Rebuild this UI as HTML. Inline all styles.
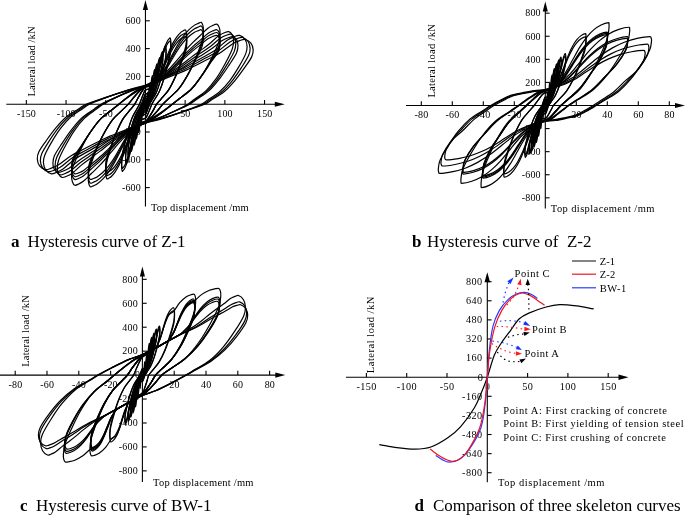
<!DOCTYPE html>
<html lang="en"><head><meta charset="utf-8"><title>Hysteresis curves</title>
<style>html,body{margin:0;padding:0;background:#fff}svg{display:block}</style></head>
<body>
<svg width="685" height="516" viewBox="0 0 685 516">
<rect width="685" height="516" fill="#fff"/>
<g stroke="#000" stroke-width="1.1" fill="none">
<path d="M6.3 104.2H280.8"/>
<path d="M145.45 206.5V4"/>
<path d="M26.35 104.2v-4.3"/>
<path d="M66.05 104.2v-4.3"/>
<path d="M105.75 104.2v-4.3"/>
<path d="M185.15 104.2v-4.3"/>
<path d="M224.85 104.2v-4.3"/>
<path d="M264.55 104.2v-4.3"/>
<path d="M145.45 20.8h4.3"/>
<path d="M145.45 48.6h4.3"/>
<path d="M145.45 76.4h4.3"/>
<path d="M145.45 132h4.3"/>
<path d="M145.45 159.8h4.3"/>
<path d="M145.45 187.6h4.3"/>
</g>
<path d="M284.8 104.2l-10 -2.55v5.1z" fill="#000"/>
<path d="M145.45 0l-2.55 10h5.1z" fill="#000"/>
<g font-family='"Liberation Serif", "Times New Roman", serif' font-size="10" fill="#000">
<text x="26.55" y="117" text-anchor="middle" letter-spacing="0.15">-150</text>
<text x="66.25" y="117" text-anchor="middle" letter-spacing="0.15">-100</text>
<text x="105.95" y="117" text-anchor="middle" letter-spacing="0.15">-50</text>
<text x="185.35" y="117" text-anchor="middle" letter-spacing="0.15">50</text>
<text x="225.05" y="117" text-anchor="middle" letter-spacing="0.15">100</text>
<text x="264.75" y="117" text-anchor="middle" letter-spacing="0.15">150</text>
<text x="140.85" y="24.1" text-anchor="end" letter-spacing="0.15">600</text>
<text x="140.85" y="51.9" text-anchor="end" letter-spacing="0.15">400</text>
<text x="140.85" y="79.7" text-anchor="end" letter-spacing="0.15">200</text>
<text x="140.85" y="135.3" text-anchor="end" letter-spacing="0.15">-200</text>
<text x="140.85" y="163.1" text-anchor="end" letter-spacing="0.15">-400</text>
<text x="140.85" y="190.9" text-anchor="end" letter-spacing="0.15">-600</text>
</g>
<text transform="translate(34.7 96.5) rotate(-90)" font-family='"Liberation Serif", "Times New Roman", serif' font-size="10.5" textLength="70" lengthAdjust="spacing">Lateral load /kN</text>
<text x="151" y="211.2" font-family='"Liberation Serif", "Times New Roman", serif' font-size="10.5" textLength="97.6" lengthAdjust="spacing">Top displacement /mm</text>
<text x="11" y="247.3" font-family='"Liberation Serif", "Times New Roman", serif' font-size="17" font-weight="bold">a</text>
<text x="27.5" y="247.3" font-family='"Liberation Serif", "Times New Roman", serif' font-size="17" textLength="158" lengthAdjust="spacing" xml:space="preserve">Hysteresis curve of Z-1</text>
<g stroke="#000" stroke-width="1.2" fill="none" stroke-linejoin="round">
<path d="M145.45 103.6C145.65 103.55 146.1 103.73 146.24 103.51C146.45 103.18 146.4 102.49 146.49 101.95C146.58 101.37 146.69 100.83 146.78 100.17C146.9 99.38 147.02 98.4 147.12 97.61C147.21 96.95 147.28 96.47 147.35 95.83C147.43 95.1 147.5 94.16 147.57 93.5C147.61 93.1 147.64 92.9 147.69 92.66C147.72 92.53 147.76 92.38 147.78 92.39C147.8 92.4 147.81 92.59 147.82 92.72C147.83 92.9 147.84 93.06 147.83 93.33C147.82 93.73 147.82 94.18 147.76 94.73C147.69 95.47 147.56 96.37 147.43 97.19C147.31 98.02 147.17 98.89 147.02 99.7C146.87 100.45 146.71 101.2 146.52 101.86C146.36 102.42 146.13 102.91 145.96 103.36C145.83 103.69 145.72 103.96 145.64 104.2C145.6 104.32 145.6 104.35 145.58 104.42C145.56 104.5 145.53 104.59 145.51 104.66C145.49 104.71 145.54 104.77 145.45 104.8C145.25 104.85 144.8 104.67 144.66 104.89C144.45 105.22 144.5 105.91 144.41 106.45C144.32 107.03 144.21 107.57 144.12 108.23C144 109.02 143.88 110 143.78 110.79C143.69 111.45 143.62 111.93 143.55 112.57C143.47 113.3 143.4 114.24 143.33 114.9C143.29 115.3 143.26 115.5 143.21 115.74C143.18 115.87 143.14 116.02 143.12 116.02C143.1 116 143.09 115.81 143.08 115.68C143.07 115.5 143.06 115.34 143.07 115.07C143.08 114.67 143.08 114.22 143.14 113.67C143.21 112.93 143.34 112.03 143.47 111.21C143.59 110.38 143.73 109.51 143.88 108.7C144.03 107.95 144.19 107.2 144.38 106.54C144.54 105.98 144.77 105.49 144.94 105.04C145.07 104.71 145.18 104.44 145.26 104.2C145.3 104.08 145.3 104.05 145.32 103.98C145.34 103.9 145.37 103.81 145.39 103.74C145.41 103.69 145.36 103.63 145.45 103.6Z"/>
<path d="M145.45 103C145.74 102.9 146.41 103.21 146.64 102.81C146.99 102.2 147 100.96 147.2 99.99C147.41 98.95 147.64 97.96 147.86 96.76C148.11 95.34 148.39 93.56 148.62 92.13C148.81 90.94 148.98 90.06 149.14 88.9C149.32 87.58 149.47 85.87 149.63 84.67C149.72 83.95 149.8 83.58 149.9 83.16C149.96 82.91 150.06 82.64 150.11 82.66C150.16 82.67 150.18 83.02 150.19 83.27C150.21 83.6 150.23 83.89 150.21 84.38C150.19 85.12 150.19 85.93 150.08 86.94C149.93 88.27 149.66 89.91 149.42 91.41C149.17 92.93 148.9 94.53 148.58 95.99C148.29 97.37 147.96 98.74 147.58 99.94C147.26 100.96 146.8 101.85 146.47 102.67C146.22 103.27 146 103.77 145.83 104.2C145.74 104.43 145.75 104.49 145.71 104.64C145.66 104.8 145.61 104.98 145.56 105.12C145.53 105.23 145.59 105.34 145.45 105.4C145.16 105.5 144.49 105.19 144.26 105.59C143.91 106.2 143.9 107.44 143.7 108.41C143.49 109.45 143.26 110.44 143.04 111.64C142.79 113.06 142.51 114.84 142.28 116.27C142.09 117.46 141.92 118.34 141.76 119.5C141.58 120.82 141.43 122.53 141.27 123.73C141.18 124.45 141.1 124.82 141 125.24C140.94 125.49 140.84 125.76 140.79 125.75C140.74 125.73 140.72 125.38 140.71 125.13C140.69 124.8 140.67 124.51 140.69 124.02C140.71 123.28 140.71 122.47 140.82 121.46C140.97 120.13 141.24 118.49 141.48 116.99C141.73 115.47 142 113.87 142.32 112.41C142.61 111.03 142.94 109.66 143.32 108.46C143.64 107.44 144.1 106.55 144.43 105.73C144.68 105.13 144.9 104.63 145.07 104.2C145.16 103.97 145.15 103.91 145.19 103.76C145.24 103.6 145.29 103.42 145.34 103.28C145.37 103.17 145.31 103.06 145.45 103Z"/>
<path d="M145.45 102.29C145.84 102.12 146.71 102.5 147.04 101.98C147.53 101.17 147.6 99.57 147.9 98.3C148.23 96.94 148.59 95.65 148.93 94.09C149.33 92.24 149.76 89.91 150.12 88.05C150.42 86.5 150.69 85.36 150.93 83.85C151.21 82.12 151.44 79.89 151.69 78.33C151.83 77.39 151.96 76.91 152.12 76.36C152.21 76.03 152.37 75.68 152.44 75.7C152.52 75.73 152.54 76.19 152.57 76.52C152.6 76.95 152.62 77.34 152.6 77.98C152.56 78.96 152.56 80.04 152.4 81.37C152.17 83.14 151.79 85.31 151.43 87.29C151.06 89.3 150.66 91.41 150.2 93.35C149.77 95.16 149.29 96.98 148.74 98.56C148.26 99.92 147.59 101.1 147.1 102.17C146.73 102.98 146.41 103.62 146.16 104.2C146.02 104.53 146.02 104.67 145.94 104.91C145.85 105.16 145.76 105.44 145.66 105.67C145.59 105.84 145.66 106.02 145.45 106.11C145.06 106.28 144.19 105.9 143.86 106.42C143.37 107.23 143.3 108.83 143 110.1C142.67 111.46 142.31 112.75 141.97 114.31C141.57 116.16 141.14 118.49 140.78 120.35C140.48 121.9 140.21 123.04 139.97 124.55C139.69 126.28 139.46 128.51 139.21 130.07C139.07 131.01 138.94 131.49 138.78 132.04C138.69 132.37 138.53 132.72 138.46 132.69C138.38 132.67 138.36 132.21 138.33 131.88C138.3 131.45 138.28 131.06 138.3 130.42C138.34 129.44 138.34 128.36 138.5 127.03C138.73 125.26 139.11 123.09 139.47 121.11C139.84 119.1 140.24 116.99 140.7 115.05C141.13 113.24 141.61 111.42 142.16 109.84C142.64 108.48 143.31 107.3 143.8 106.23C144.17 105.42 144.49 104.78 144.74 104.2C144.88 103.87 144.88 103.73 144.96 103.49C145.05 103.24 145.14 102.96 145.24 102.73C145.31 102.56 145.24 102.38 145.45 102.29Z"/>
<path d="M145.45 101.33C146.02 101.09 147.34 101.55 147.83 100.86C148.5 99.93 148.55 97.98 148.94 96.47C149.36 94.84 149.83 93.3 150.26 91.44C150.78 89.22 151.32 86.44 151.79 84.21C152.18 82.36 152.52 81 152.83 79.19C153.19 77.12 153.48 74.45 153.8 72.59C153.99 71.47 154.15 70.89 154.36 70.24C154.48 69.84 154.68 69.42 154.77 69.45C154.87 69.49 154.91 70.04 154.94 70.44C154.98 70.97 155.01 71.45 154.98 72.23C154.93 73.42 154.94 74.73 154.71 76.36C154.42 78.52 153.9 81.16 153.42 83.57C152.93 86.03 152.4 88.6 151.78 90.97C151.2 93.18 150.57 95.4 149.83 97.32C149.2 98.98 148.3 100.42 147.65 101.72C147.16 102.71 146.72 103.48 146.4 104.2C146.2 104.66 146.21 104.91 146.1 105.27C145.98 105.64 145.86 106.06 145.74 106.4C145.64 106.67 145.76 106.94 145.45 107.07C144.88 107.31 143.56 106.85 143.07 107.54C142.4 108.47 142.35 110.42 141.96 111.93C141.54 113.56 141.07 115.1 140.64 116.96C140.12 119.18 139.58 121.96 139.11 124.19C138.72 126.04 138.38 127.4 138.07 129.21C137.71 131.28 137.42 133.95 137.1 135.81C136.91 136.93 136.75 137.51 136.54 138.16C136.42 138.56 136.22 138.98 136.13 138.95C136.03 138.91 135.99 138.36 135.96 137.96C135.92 137.43 135.89 136.95 135.92 136.17C135.97 134.98 135.96 133.67 136.19 132.04C136.48 129.88 137 127.24 137.48 124.83C137.97 122.37 138.5 119.8 139.12 117.43C139.7 115.22 140.33 113 141.07 111.08C141.7 109.42 142.6 107.98 143.25 106.68C143.74 105.69 144.18 104.92 144.5 104.2C144.7 103.74 144.69 103.49 144.8 103.13C144.92 102.76 145.04 102.34 145.16 102C145.26 101.73 145.14 101.46 145.45 101.33Z"/>
<path d="M145.45 100.14C146.22 99.79 147.96 100.31 148.63 99.47C149.47 98.42 149.5 96.21 149.98 94.49C150.49 92.65 151.06 90.91 151.59 88.8C152.22 86.28 152.89 83.14 153.46 80.61C153.93 78.51 154.35 76.97 154.73 74.92C155.17 72.58 155.53 69.56 155.92 67.45C156.15 66.18 156.35 65.52 156.6 64.78C156.75 64.33 156.99 63.85 157.1 63.89C157.23 63.93 157.27 64.58 157.31 65.04C157.36 65.65 157.4 66.21 157.36 67.11C157.3 68.49 157.31 70.02 157.04 71.9C156.67 74.41 156.05 77.47 155.45 80.27C154.85 83.12 154.21 86.1 153.45 88.85C152.75 91.42 151.98 93.99 151.07 96.22C150.29 98.15 149.2 99.81 148.4 101.33C147.8 102.47 147.27 103.34 146.88 104.2C146.61 104.8 146.59 105.2 146.42 105.71C146.25 106.24 146.06 106.84 145.88 107.32C145.74 107.69 145.88 108.07 145.45 108.26C144.68 108.61 142.94 108.08 142.27 108.93C141.43 110 141.4 112.25 140.92 114.01C140.41 115.88 139.84 117.66 139.31 119.81C138.68 122.37 138.01 125.58 137.44 128.15C136.97 130.3 136.55 131.87 136.17 133.96C135.73 136.34 135.37 139.43 134.98 141.58C134.75 142.87 134.55 143.55 134.3 144.3C134.16 144.76 133.91 145.25 133.8 145.21C133.67 145.16 133.63 144.5 133.59 144.04C133.54 143.41 133.5 142.85 133.54 141.92C133.6 140.52 133.59 138.97 133.86 137.06C134.23 134.51 134.85 131.39 135.45 128.54C136.05 125.64 136.69 122.61 137.45 119.82C138.15 117.2 138.92 114.59 139.83 112.31C140.61 110.35 141.7 108.66 142.5 107.12C143.1 105.96 143.63 105.07 144.02 104.2C144.29 103.6 144.31 103.2 144.48 102.69C144.65 102.16 144.84 101.56 145.02 101.08C145.16 100.71 145.02 100.33 145.45 100.14Z"/>
<path d="M145.45 100.26C146.22 99.92 147.95 100.42 148.63 99.62C149.46 98.62 149.5 96.51 149.98 94.87C150.49 93.11 151.06 91.45 151.59 89.44C152.22 87.05 152.89 84.05 153.46 81.64C153.93 79.64 154.35 78.17 154.73 76.22C155.17 73.99 155.53 71.1 155.92 69.1C156.15 67.88 156.35 67.25 156.6 66.55C156.75 66.12 156.99 65.66 157.1 65.7C157.23 65.75 157.27 66.36 157.31 66.8C157.36 67.39 157.4 67.92 157.36 68.78C157.3 70.1 157.31 71.6 157.04 73.35C156.68 75.61 156.04 78.26 155.45 80.79C154.84 83.43 154.2 86.23 153.45 88.85C152.74 91.38 151.98 93.99 151.07 96.22C150.29 98.15 149.2 99.81 148.4 101.33C147.8 102.47 147.27 103.34 146.88 104.2C146.61 104.79 146.59 105.17 146.42 105.67C146.25 106.18 146.06 106.76 145.88 107.23C145.74 107.59 145.88 107.96 145.45 108.14C144.68 108.48 142.95 107.97 142.27 108.78C141.44 109.8 141.4 111.95 140.92 113.62C140.41 115.41 139.84 117.11 139.31 119.16C138.68 121.6 138.01 124.66 137.44 127.11C136.97 129.15 136.55 130.65 136.17 132.64C135.73 134.91 135.37 137.85 134.98 139.9C134.75 141.14 134.55 141.78 134.3 142.5C134.15 142.93 133.91 143.4 133.8 143.36C133.67 143.32 133.63 142.69 133.59 142.24C133.54 141.65 133.5 141.11 133.54 140.23C133.6 138.89 133.59 137.36 133.86 135.58C134.22 133.29 134.86 130.59 135.45 128.02C136.06 125.33 136.7 122.48 137.45 119.82C138.16 117.25 138.92 114.59 139.83 112.31C140.61 110.35 141.7 108.66 142.5 107.12C143.1 105.96 143.63 105.07 144.02 104.2C144.29 103.61 144.31 103.23 144.48 102.73C144.65 102.22 144.84 101.64 145.02 101.17C145.16 100.81 145.02 100.44 145.45 100.26Z"/>
<path d="M145.45 98.46C146.41 97.99 148.56 98.52 149.42 97.53C150.44 96.34 150.5 93.87 151.08 91.94C151.71 89.88 152.41 87.93 153.06 85.56C153.83 82.74 154.65 79.21 155.35 76.38C155.93 74.03 156.44 72.3 156.91 70C157.45 67.38 157.89 63.99 158.37 61.62C158.65 60.2 158.9 59.46 159.2 58.63C159.38 58.13 159.68 57.58 159.82 57.63C159.97 57.69 160.03 58.43 160.08 58.96C160.14 59.67 160.18 60.31 160.14 61.36C160.07 62.95 160.08 64.72 159.75 66.89C159.31 69.78 158.56 73.33 157.84 76.56C157.12 79.85 156.34 83.3 155.43 86.47C154.58 89.44 153.65 92.41 152.56 94.99C151.62 97.22 150.31 99.13 149.34 100.88C148.62 102.2 147.98 103.17 147.51 104.2C147.15 104.99 147.08 105.61 146.85 106.34C146.6 107.08 146.33 107.93 146.07 108.6C145.86 109.13 146.02 109.65 145.45 109.94C144.49 110.41 142.33 109.87 141.48 110.87C140.45 112.08 140.4 114.59 139.82 116.55C139.19 118.65 138.49 120.64 137.84 123.05C137.07 125.92 136.25 129.51 135.55 132.38C134.97 134.78 134.46 136.54 133.99 138.88C133.45 141.54 133.01 145 132.53 147.4C132.25 148.85 132 149.61 131.7 150.45C131.52 150.96 131.22 151.51 131.08 151.46C130.93 151.4 130.87 150.65 130.82 150.11C130.76 149.39 130.72 148.74 130.76 147.68C130.83 146.06 130.82 144.27 131.15 142.07C131.59 139.13 132.34 135.54 133.06 132.25C133.78 128.91 134.56 125.41 135.47 122.2C136.32 119.18 137.25 116.17 138.34 113.55C139.28 111.29 140.59 109.35 141.56 107.57C142.28 106.23 142.92 105.24 143.39 104.2C143.75 103.41 143.82 102.79 144.05 102.06C144.3 101.32 144.57 100.47 144.83 99.8C145.04 99.27 144.88 98.75 145.45 98.46Z"/>
<path d="M145.45 98.63C146.41 98.17 148.55 98.68 149.42 97.73C150.43 96.61 150.5 94.24 151.08 92.41C151.71 90.44 152.41 88.59 153.06 86.33C153.83 83.65 154.65 80.28 155.35 77.59C155.93 75.34 156.44 73.7 156.91 71.51C157.45 69.02 157.89 65.78 158.37 63.53C158.65 62.17 158.9 61.46 159.2 60.68C159.38 60.2 159.68 59.68 159.82 59.73C159.97 59.79 160.03 60.49 160.08 61C160.14 61.67 160.18 62.29 160.14 63.29C160.07 64.81 160.08 66.55 159.75 68.57C159.32 71.17 158.55 74.24 157.84 77.15C157.11 80.2 156.33 83.44 155.43 86.47C154.56 89.39 153.65 92.41 152.56 94.99C151.62 97.22 150.31 99.13 149.34 100.88C148.62 102.2 147.98 103.18 147.51 104.2C147.15 104.97 147.08 105.57 146.85 106.27C146.6 107 146.33 107.82 146.07 108.47C145.86 108.98 146.02 109.49 145.45 109.77C144.49 110.23 142.34 109.71 141.48 110.67C140.46 111.81 140.4 114.22 139.82 116.08C139.19 118.08 138.49 119.97 137.84 122.27C137.07 125 136.25 128.42 135.55 131.16C134.97 133.45 134.46 135.12 133.99 137.35C133.45 139.89 133.01 143.18 132.53 145.47C132.25 146.85 132 147.57 131.7 148.37C131.52 148.86 131.22 149.38 131.08 149.33C130.93 149.28 130.87 148.56 130.82 148.05C130.76 147.36 130.72 146.74 130.76 145.72C130.83 144.18 130.82 142.41 131.15 140.36C131.58 137.72 132.35 134.61 133.06 131.65C133.79 128.56 134.57 125.27 135.47 122.2C136.33 119.23 137.25 116.17 138.34 113.55C139.28 111.29 140.59 109.35 141.56 107.57C142.28 106.23 142.92 105.23 143.39 104.2C143.75 103.42 143.82 102.83 144.05 102.13C144.3 101.4 144.57 100.58 144.83 99.93C145.04 99.42 144.88 98.91 145.45 98.63Z"/>
<path d="M145.45 96.55C146.6 95.93 149.17 96.45 150.21 95.3C151.41 94 151.49 91.3 152.19 89.19C152.93 86.94 153.76 84.8 154.53 82.21C155.44 79.13 156.41 75.27 157.24 72.17C157.93 69.59 158.53 67.71 159.09 65.19C159.72 62.33 160.25 58.61 160.82 56.02C161.16 54.46 161.45 53.65 161.8 52.75C162.02 52.19 162.37 51.59 162.54 51.66C162.72 51.73 162.79 52.55 162.85 53.16C162.92 53.96 162.97 54.68 162.92 55.86C162.84 57.66 162.85 59.65 162.47 62.1C161.97 65.37 161.1 69.36 160.28 73.01C159.45 76.73 158.56 80.62 157.51 84.19C156.53 87.55 155.47 90.9 154.22 93.8C153.14 96.32 151.63 98.48 150.53 100.46C149.7 101.94 148.98 103 148.42 104.2C147.96 105.2 147.81 106.09 147.47 107.05C147.12 108.04 146.72 109.17 146.34 110.07C146.04 110.78 146.18 111.46 145.45 111.85C144.3 112.47 141.73 111.94 140.69 113.1C139.48 114.43 139.41 117.19 138.71 119.34C137.97 121.65 137.14 123.83 136.37 126.48C135.46 129.63 134.49 133.58 133.66 136.74C132.97 139.38 132.37 141.31 131.81 143.88C131.18 146.81 130.65 150.61 130.08 153.25C129.74 154.85 129.45 155.68 129.1 156.6C128.88 157.17 128.52 157.78 128.36 157.72C128.18 157.64 128.11 156.8 128.05 156.19C127.98 155.37 127.93 154.64 127.98 153.43C128.06 151.6 128.05 149.58 128.43 147.08C128.93 143.75 129.8 139.68 130.62 135.96C131.45 132.18 132.34 128.22 133.39 124.58C134.36 121.16 135.43 117.75 136.68 114.79C137.76 112.23 139.27 110.03 140.37 108.01C141.2 106.5 141.92 105.41 142.48 104.2C142.94 103.19 143.09 102.31 143.43 101.35C143.78 100.36 144.18 99.23 144.56 98.33C144.86 97.62 144.72 96.94 145.45 96.55Z"/>
<path d="M145.45 96.78C146.61 96.18 149.15 96.68 150.21 95.57C151.4 94.33 151.49 91.76 152.19 89.75C152.93 87.61 153.76 85.58 154.53 83.11C155.44 80.17 156.41 76.5 157.24 73.55C157.93 71.09 158.53 69.3 159.09 66.9C159.72 64.18 160.25 60.63 160.82 58.18C161.16 56.69 161.45 55.91 161.8 55.06C162.02 54.53 162.37 53.96 162.54 54.02C162.72 54.09 162.79 54.88 162.85 55.45C162.92 56.22 162.97 56.91 162.92 58.04C162.84 59.75 162.85 61.72 162.47 63.99C161.97 66.93 161.09 70.39 160.28 73.68C159.44 77.12 158.54 80.78 157.51 84.19C156.52 87.49 155.47 90.9 154.22 93.8C153.14 96.32 151.63 98.48 150.53 100.46C149.7 101.94 148.98 103.01 148.42 104.2C147.96 105.18 147.81 106.03 147.47 106.96C147.12 107.93 146.72 109.03 146.34 109.9C146.04 110.58 146.18 111.24 145.45 111.62C144.29 112.22 141.74 111.71 140.69 112.83C139.5 114.09 139.41 116.73 138.71 118.78C137.97 120.97 137.14 123.05 136.37 125.57C135.46 128.57 134.49 132.33 133.66 135.34C132.97 137.85 132.37 139.69 131.81 142.14C131.18 144.92 130.65 148.55 130.08 151.06C129.74 152.58 129.45 153.37 129.1 154.24C128.88 154.79 128.53 155.37 128.36 155.31C128.18 155.24 128.11 154.44 128.05 153.85C127.98 153.07 127.93 152.37 127.98 151.22C128.06 149.47 128.05 147.47 128.43 145.15C128.92 142.16 129.81 138.64 130.62 135.28C131.46 131.78 132.36 128.06 133.39 124.58C134.38 121.22 135.43 117.75 136.68 114.79C137.76 112.23 139.27 110.03 140.37 108.01C141.2 106.5 141.92 105.4 142.48 104.2C142.94 103.21 143.09 102.37 143.43 101.44C143.78 100.47 144.18 99.37 144.56 98.5C144.86 97.82 144.72 97.16 145.45 96.78Z"/>
<path d="M145.45 94.04C146.79 93.24 149.75 93.69 151.01 92.39C152.38 90.96 152.52 88.11 153.34 85.87C154.22 83.46 155.2 81.18 156.11 78.42C157.19 75.13 158.34 71.01 159.32 67.71C160.13 64.95 160.84 62.95 161.5 60.26C162.25 57.2 162.88 53.23 163.54 50.48C163.95 48.81 164.29 47.94 164.71 46.98C164.97 46.38 165.38 45.73 165.58 45.82C165.81 45.93 165.91 46.88 165.99 47.59C166.08 48.53 166.15 49.42 166.09 50.78C166.01 52.78 166.01 54.97 165.58 57.67C165.01 61.29 164.02 65.7 163.09 69.74C162.14 73.84 161.12 78.14 159.94 82.09C158.82 85.8 157.61 89.5 156.18 92.71C154.95 95.5 153.24 97.88 151.98 100.06C151.04 101.71 150.23 102.82 149.58 104.2C148.99 105.46 148.73 106.71 148.26 107.98C147.77 109.3 147.21 110.81 146.69 112C146.28 112.93 146.37 113.82 145.45 114.36C144.1 115.16 141.12 114.69 139.89 116.02C138.53 117.48 138.46 120.41 137.68 122.73C136.85 125.21 135.92 127.55 135.06 130.4C134.04 133.79 132.95 138.03 132.03 141.43C131.25 144.27 130.58 146.33 129.96 149.1C129.25 152.25 128.65 156.34 128.02 159.17C127.64 160.89 127.32 161.79 126.92 162.77C126.67 163.38 126.28 164.07 126.09 163.97C125.88 163.86 125.77 162.89 125.7 162.16C125.61 161.2 125.55 160.28 125.6 158.89C125.68 156.84 125.68 154.6 126.09 151.83C126.64 148.14 127.59 143.61 128.49 139.48C129.4 135.28 130.38 130.88 131.52 126.84C132.59 123.04 133.76 119.25 135.13 115.96C136.31 113.12 137.96 110.67 139.17 108.43C140.08 106.75 140.85 105.6 141.48 104.2C142.05 102.93 142.3 101.7 142.75 100.42C143.22 99.1 143.75 97.59 144.26 96.4C144.65 95.47 144.54 94.58 145.45 94.04Z"/>
<path d="M145.45 94.34C146.8 93.57 149.74 94 151.01 92.74C152.37 91.39 152.52 88.68 153.34 86.54C154.22 84.25 155.2 82.09 156.11 79.45C157.19 76.33 158.34 72.41 159.32 69.26C160.13 66.65 160.84 64.74 161.5 62.18C162.25 59.28 162.88 55.49 163.54 52.88C163.95 51.29 164.29 50.46 164.71 49.55C164.97 48.98 165.38 48.36 165.58 48.45C165.81 48.55 165.91 49.45 165.99 50.13C166.08 51.03 166.15 51.89 166.09 53.19C166.01 55.1 166.02 57.25 165.58 59.77C165.02 63.01 164.01 66.84 163.09 70.47C162.13 74.28 161.11 78.32 159.94 82.09C158.81 85.73 157.61 89.5 156.18 92.71C154.95 95.5 153.24 97.88 151.98 100.06C151.04 101.71 150.23 102.83 149.58 104.2C148.99 105.43 148.73 106.63 148.26 107.87C147.77 109.15 147.21 110.61 146.69 111.76C146.28 112.67 146.36 113.53 145.45 114.06C144.09 114.83 141.14 114.38 139.89 115.66C138.55 117.04 138.46 119.84 137.68 122.05C136.85 124.41 135.92 126.63 135.06 129.35C134.04 132.57 132.95 136.6 132.03 139.84C131.25 142.53 130.58 144.5 129.96 147.14C129.25 150.13 128.65 154.02 128.02 156.72C127.64 158.35 127.32 159.2 126.92 160.14C126.67 160.73 126.28 161.37 126.09 161.28C125.88 161.18 125.77 160.25 125.7 159.55C125.61 158.63 125.55 157.76 125.6 156.43C125.68 154.47 125.67 152.27 126.09 149.69C126.63 146.37 127.6 142.45 128.49 138.73C129.41 134.84 130.39 130.7 131.52 126.84C132.61 123.11 133.76 119.25 135.13 115.96C136.31 113.12 137.96 110.67 139.17 108.43C140.08 106.75 140.85 105.59 141.48 104.2C142.04 102.95 142.3 101.77 142.75 100.53C143.22 99.25 143.76 97.79 144.26 96.64C144.66 95.73 144.55 94.86 145.45 94.34Z"/>
<path d="M145.45 89.86C147.19 88.75 150.93 88.84 152.6 87.52C154.01 86.39 154.03 84.29 154.7 82.51C155.44 80.56 156.14 78.64 156.81 76.33C157.6 73.56 158.33 70.31 159.09 67.26C159.85 64.19 160.6 60.89 161.37 57.98C162.06 55.39 162.74 53.03 163.48 50.77C164.14 48.72 164.85 46.84 165.58 45.04C166.25 43.42 166.99 41.76 167.69 40.51C168.16 39.67 168.64 39.27 169.09 38.79C169.45 38.4 169.91 37.72 170.15 37.9C170.45 38.13 170.6 39.16 170.7 40.02C170.84 41.15 170.92 42.27 170.86 43.86C170.77 46.14 170.76 48.59 170.27 51.65C169.61 55.73 168.47 60.72 167.39 65.27C166.3 69.91 165.12 74.77 163.76 79.22C162.47 83.42 161.06 87.6 159.42 91.22C158 94.37 156.02 97.06 154.57 99.53C153.48 101.38 152.59 102.55 151.8 104.2C150.99 105.89 150.5 107.74 149.77 109.54C149.01 111.41 148.16 113.53 147.36 115.21C146.72 116.53 146.71 117.76 145.45 118.54C143.69 119.65 139.94 119.54 138.3 120.88C136.91 122.02 136.99 124.17 136.38 125.98C135.71 127.96 135.07 129.91 134.46 132.26C133.73 135.07 133.07 138.38 132.38 141.48C131.68 144.6 131.01 147.95 130.3 150.92C129.67 153.55 129.05 155.94 128.38 158.25C127.77 160.33 127.13 162.24 126.46 164.07C125.85 165.72 125.18 167.4 124.54 168.68C124.11 169.52 123.68 169.94 123.26 170.43C122.93 170.82 122.51 171.52 122.3 171.34C122.02 171.1 121.87 170.05 121.78 169.19C121.65 168.04 121.57 166.91 121.63 165.29C121.71 162.99 121.72 160.51 122.18 157.41C122.8 153.28 123.87 148.23 124.88 143.62C125.9 138.92 127 134.01 128.29 129.49C129.49 125.25 130.81 121.02 132.35 117.34C133.68 114.16 135.54 111.43 136.9 108.93C137.92 107.05 138.75 105.86 139.49 104.2C140.25 102.5 140.72 100.66 141.4 98.86C142.11 96.99 142.91 94.87 143.66 93.19C144.26 91.87 144.21 90.64 145.45 89.86Z"/>
<path d="M145.45 90.29C147.2 89.21 150.91 89.3 152.6 88.02C154 86.96 154.03 84.95 154.7 83.26C155.44 81.41 156.14 79.59 156.81 77.39C157.6 74.76 158.33 71.67 159.09 68.78C159.85 65.86 160.6 62.72 161.37 59.96C162.06 57.5 162.74 55.26 163.48 53.11C164.14 51.16 164.85 49.37 165.58 47.67C166.25 46.12 166.99 44.55 167.69 43.36C168.16 42.57 168.64 42.19 169.09 41.73C169.46 41.36 169.91 40.71 170.15 40.88C170.44 41.1 170.6 42.09 170.7 42.91C170.84 43.99 170.92 45.05 170.86 46.58C170.77 48.75 170.77 51.17 170.27 54.01C169.62 57.68 168.45 62 167.39 66.11C166.28 70.4 165.1 74.97 163.76 79.22C162.45 83.34 161.06 87.6 159.42 91.22C158 94.37 156.02 97.06 154.57 99.53C153.48 101.38 152.6 102.57 151.8 104.2C151 105.85 150.5 107.63 149.77 109.38C149.01 111.19 148.16 113.25 147.36 114.88C146.72 116.16 146.7 117.35 145.45 118.11C143.68 119.19 139.95 119.09 138.3 120.38C136.93 121.46 136.99 123.5 136.38 125.22C135.71 127.11 135.07 128.96 134.46 131.19C133.74 133.86 133.07 137.01 132.38 139.95C131.68 142.92 131.01 146.1 130.3 148.92C129.67 151.41 129.05 153.69 128.38 155.88C127.77 157.86 127.13 159.68 126.46 161.41C125.85 162.98 125.18 164.58 124.54 165.79C124.11 166.6 123.68 166.99 123.26 167.46C122.93 167.83 122.51 168.49 122.3 168.32C122.02 168.09 121.87 167.09 121.78 166.26C121.65 165.17 121.57 164.09 121.63 162.55C121.71 160.34 121.71 157.9 122.18 155.02C122.79 151.31 123.88 146.93 124.88 142.77C125.92 138.42 127.02 133.8 128.29 129.49C129.51 125.32 130.81 121.02 132.35 117.34C133.68 114.16 135.54 111.43 136.9 108.93C137.92 107.05 138.75 105.84 139.49 104.2C140.25 102.54 140.72 100.77 141.4 99.02C142.11 97.21 142.91 95.15 143.66 93.52C144.26 92.24 144.22 91.04 145.45 90.29Z"/>
<path d="M145.45 86.27C147.53 84.95 151.31 84.82 153.39 83.35C155.23 82.05 156 79.92 157.22 77.97C158.55 75.86 159.84 73.76 161.05 71.16C162.5 68.08 163.82 64.35 165.2 60.92C166.59 57.48 167.94 53.79 169.35 50.56C170.6 47.7 171.84 45.1 173.18 42.66C174.39 40.46 175.67 38.45 177.01 36.63C178.22 35 179.61 33.47 180.84 32.33C181.74 31.51 182.59 31.2 183.4 30.75C184.08 30.37 184.85 29.57 185.31 29.83C185.85 30.14 186.19 31.4 186.4 32.47C186.66 33.88 186.82 35.36 186.74 37.27C186.63 39.84 186.58 42.54 185.81 45.91C184.76 50.45 182.96 55.98 181.26 61.02C179.52 66.18 177.66 71.58 175.5 76.49C173.45 81.17 171.21 85.84 168.65 89.81C166.37 93.35 163.27 96.28 160.98 99.02C159.26 101.08 157.89 102.28 156.6 104.2C155.24 106.23 154.3 108.63 153.03 110.87C151.7 113.22 150.19 115.88 148.79 117.96C147.67 119.63 147.12 121.08 145.45 122.13C143.35 123.45 139.57 123.57 137.51 125.05C135.7 126.35 135.03 128.51 133.86 130.47C132.59 132.61 131.37 134.72 130.22 137.33C128.84 140.45 127.58 144.2 126.27 147.65C124.95 151.12 123.66 154.84 122.31 158.09C121.13 160.97 119.95 163.59 118.67 166.06C117.52 168.27 116.3 170.3 115.02 172.13C113.87 173.77 112.55 175.31 111.37 176.46C110.53 177.29 109.71 177.61 108.94 178.06C108.3 178.45 107.56 179.25 107.12 178.98C106.6 178.67 106.28 177.41 106.08 176.33C105.82 174.92 105.67 173.42 105.75 171.5C105.86 168.92 105.9 166.21 106.65 162.82C107.65 158.25 109.39 152.69 111.02 147.62C112.69 142.44 114.48 137.01 116.55 132.06C118.52 127.36 120.68 122.67 123.14 118.67C125.33 115.12 128.31 112.16 130.52 109.41C132.17 107.34 133.49 106.12 134.73 104.2C136.04 102.16 136.94 99.77 138.16 97.53C139.44 95.19 140.89 92.52 142.23 90.44C143.32 88.77 143.81 87.31 145.45 86.27Z"/>
<path d="M145.45 86.81C147.54 85.52 151.29 85.39 153.39 83.98C155.22 82.74 156 80.72 157.22 78.87C158.55 76.86 159.83 74.88 161.05 72.41C162.5 69.48 163.82 65.94 165.2 62.69C166.59 59.42 167.94 55.91 169.35 52.85C170.6 50.14 171.84 47.67 173.18 45.36C174.4 43.26 175.67 41.35 177.01 39.63C178.22 38.08 179.61 36.63 180.84 35.55C181.74 34.77 182.59 34.48 183.4 34.05C184.08 33.69 184.85 32.92 185.31 33.18C185.85 33.48 186.19 34.67 186.4 35.7C186.66 37.04 186.82 38.46 186.74 40.28C186.63 42.74 186.6 45.4 185.81 48.53C184.77 52.62 182.93 57.4 181.26 61.94C179.5 66.72 177.63 71.8 175.5 76.49C173.43 81.09 171.21 85.84 168.65 89.81C166.37 93.35 163.27 96.28 160.98 99.02C159.26 101.08 157.89 102.3 156.6 104.2C155.24 106.18 154.3 108.5 153.03 110.67C151.7 112.95 150.19 115.53 148.79 117.55C147.67 119.17 147.11 120.58 145.45 121.59C143.35 122.87 139.58 123 137.51 124.42C135.72 125.66 135.03 127.71 133.86 129.57C132.6 131.59 131.37 133.6 130.22 136.08C128.84 139.04 127.58 142.6 126.27 145.88C124.95 149.17 123.66 152.7 122.31 155.79C121.12 158.53 119.95 161.01 118.67 163.35C117.52 165.45 116.3 167.38 115.02 169.12C113.87 170.67 112.55 172.14 111.37 173.23C110.52 174.01 109.71 174.31 108.94 174.74C108.3 175.11 107.56 175.87 107.12 175.62C106.61 175.32 106.28 174.12 106.08 173.08C105.82 171.74 105.67 170.31 105.75 168.48C105.86 166.01 105.88 163.33 106.65 160.18C107.64 156.07 109.41 151.27 111.02 146.69C112.71 141.89 114.51 136.79 116.55 132.06C118.55 127.45 120.68 122.67 123.14 118.67C125.33 115.12 128.31 112.16 130.52 109.41C132.17 107.34 133.49 106.1 134.73 104.2C136.03 102.21 136.94 99.9 138.16 97.73C139.44 95.45 140.89 92.87 142.23 90.85C143.32 89.23 143.82 87.81 145.45 86.81Z"/>
<path d="M145.45 87.34C147.54 86.09 151.28 85.96 153.39 84.6C155.2 83.44 155.99 81.52 157.22 79.77C158.55 77.87 159.83 75.99 161.05 73.65C162.49 70.89 163.82 67.53 165.2 64.45C166.59 61.36 167.94 58.04 169.35 55.15C170.6 52.57 171.84 50.24 173.18 48.05C174.4 46.07 175.67 44.26 177.01 42.63C178.23 41.16 179.62 39.79 180.84 38.77C181.74 38.03 182.59 37.75 183.4 37.35C184.08 37 184.84 36.28 185.31 36.53C185.84 36.81 186.19 37.94 186.4 38.93C186.66 40.2 186.82 41.56 186.74 43.3C186.63 45.63 186.61 48.27 185.81 51.15C184.79 54.79 182.91 58.82 181.26 62.87C179.47 67.26 177.6 72.02 175.5 76.49C173.4 81 171.21 85.84 168.65 89.81C166.37 93.35 163.27 96.28 160.98 99.02C159.26 101.08 157.9 102.32 156.6 104.2C155.25 106.14 154.3 108.36 153.03 110.47C151.7 112.68 150.19 115.18 148.79 117.14C147.67 118.71 147.1 120.08 145.45 121.06C143.34 122.3 139.6 122.43 137.51 123.8C135.73 124.97 135.03 126.9 133.86 128.67C132.6 130.58 131.37 132.48 130.22 134.83C128.84 137.63 127.58 141 126.27 144.11C124.95 147.22 123.66 150.57 122.31 153.49C121.12 156.08 119.94 158.43 118.67 160.64C117.51 162.64 116.3 164.46 115.02 166.1C113.87 167.58 112.55 168.96 111.37 169.99C110.52 170.74 109.71 171.02 108.94 171.43C108.29 171.77 107.56 172.5 107.12 172.25C106.61 171.97 106.28 170.82 106.08 169.84C105.82 168.56 105.67 167.19 105.75 165.45C105.86 163.1 105.87 160.45 106.65 157.54C107.62 153.89 109.44 149.84 111.02 145.77C112.74 141.35 114.54 136.57 116.55 132.06C118.58 127.54 120.68 122.67 123.14 118.67C125.33 115.12 128.31 112.16 130.52 109.41C132.17 107.34 133.48 106.08 134.73 104.2C136.03 102.26 136.94 100.04 138.16 97.93C139.44 95.72 140.89 93.22 142.23 91.26C143.32 89.69 143.82 88.32 145.45 87.34Z"/>
<path d="M145.45 85.31C147.76 84 151.1 83.76 153.39 82.24C155.66 80.73 157.28 78.41 159.13 76.22C161.11 73.87 163.03 71.53 164.87 68.59C167.02 65.17 169.02 60.97 171.09 57.13C173.17 53.28 175.2 49.13 177.31 45.53C179.19 42.31 181.05 39.4 183.05 36.69C184.88 34.2 186.79 31.95 188.79 29.94C190.62 28.09 192.71 26.38 194.53 25.13C195.89 24.18 197.15 23.85 198.35 23.35C199.38 22.92 200.5 22 201.22 22.33C202 22.68 202.55 24.12 202.87 25.38C203.28 26.98 203.51 28.76 203.41 30.93C203.28 33.76 203.2 36.71 202.16 40.38C200.74 45.37 198.32 51.42 196.04 56.93C193.69 62.58 191.17 68.51 188.29 73.87C185.52 79.02 182.47 84.15 179.07 88.44C175.95 92.37 171.83 95.53 168.74 98.53C166.42 100.78 164.71 102.13 162.84 104.2C160.88 106.36 159.25 108.88 157.27 111.23C155.19 113.71 152.82 116.53 150.67 118.69C148.88 120.48 147.52 121.91 145.45 123.09C143.14 124.4 139.79 124.62 137.51 126.16C135.26 127.68 133.68 130.04 131.86 132.27C129.91 134.65 128.02 137.02 126.21 140C124.1 143.48 122.13 147.73 120.09 151.62C118.05 155.52 116.05 159.73 113.98 163.38C112.12 166.64 110.29 169.59 108.33 172.35C106.53 174.87 104.64 177.15 102.68 179.19C100.88 181.06 98.83 182.79 97.03 184.07C95.69 185.02 94.45 185.36 93.26 185.87C92.26 186.3 91.15 187.23 90.44 186.91C89.67 186.55 89.13 185.1 88.82 183.82C88.41 182.2 88.18 180.41 88.28 178.22C88.41 175.36 88.49 172.38 89.52 168.67C90.92 163.63 93.31 157.52 95.56 151.96C97.87 146.24 100.35 140.25 103.2 134.84C105.93 129.64 108.93 124.46 112.29 120.12C115.36 116.16 119.44 112.96 122.48 109.93C124.77 107.65 126.46 106.28 128.3 104.2C130.23 102.03 131.84 99.52 133.79 97.17C135.84 94.69 138.18 91.87 140.3 89.71C142.06 87.92 143.39 86.49 145.45 85.31Z"/>
<path d="M145.45 85.88C147.76 84.6 151.08 84.36 153.39 82.9C155.64 81.46 157.28 79.27 159.13 77.18C161.11 74.95 163.03 72.73 164.87 69.94C167.02 66.69 169.02 62.7 171.09 59.06C173.17 55.4 175.21 51.46 177.31 48.05C179.19 44.99 181.05 42.22 183.05 39.65C184.88 37.28 186.8 35.14 188.79 33.24C190.62 31.48 192.71 29.86 194.53 28.67C195.9 27.77 197.15 27.46 198.35 26.98C199.38 26.58 200.49 25.7 201.22 26.01C202 26.35 202.55 27.72 202.87 28.93C203.28 30.45 203.51 32.15 203.41 34.22C203.28 36.93 203.22 39.85 202.16 43.25C200.76 47.75 198.28 52.97 196.04 57.94C193.66 63.18 191.14 68.75 188.29 73.87C185.48 78.92 182.47 84.15 179.07 88.44C175.95 92.37 171.83 95.53 168.74 98.53C166.42 100.78 164.72 102.16 162.84 104.2C160.89 106.32 159.25 108.74 157.27 111.02C155.19 113.42 152.82 116.16 150.67 118.26C148.88 120 147.52 121.38 145.45 122.52C143.13 123.8 139.8 124.02 137.51 125.5C135.27 126.95 133.68 129.18 131.86 131.3C129.92 133.56 128.02 135.81 126.21 138.64C124.1 141.94 122.13 145.98 120.09 149.68C118.05 153.39 116.04 157.38 113.98 160.84C112.12 163.94 110.29 166.75 108.33 169.36C106.52 171.75 104.64 173.93 102.68 175.86C100.87 177.64 98.82 179.28 97.03 180.49C95.68 181.4 94.45 181.72 93.26 182.2C92.25 182.61 91.16 183.5 90.44 183.18C89.68 182.85 89.13 181.46 88.82 180.24C88.41 178.7 88.18 176.98 88.28 174.89C88.41 172.16 88.47 169.21 89.52 165.77C90.9 161.23 93.34 155.95 95.56 150.93C97.9 145.64 100.39 140.02 103.2 134.84C105.97 129.74 108.93 124.46 112.29 120.12C115.36 116.16 119.44 112.96 122.48 109.93C124.77 107.65 126.45 106.26 128.3 104.2C130.22 102.07 131.84 99.66 133.79 97.38C135.84 94.98 138.18 92.24 140.3 90.14C142.07 88.4 143.4 87.01 145.45 85.88Z"/>
<path d="M145.45 86.45C147.77 85.2 151.07 84.96 153.39 83.56C155.63 82.2 157.28 80.12 159.13 78.14C161.1 76.03 163.03 73.94 164.87 71.29C167.01 68.22 169.02 64.43 171.09 60.98C173.17 57.52 175.21 53.78 177.31 50.56C179.19 47.66 181.06 45.04 183.05 42.61C184.88 40.36 186.8 38.33 188.79 36.54C190.63 34.87 192.71 33.33 194.53 32.21C195.9 31.36 197.15 31.07 198.35 30.62C199.38 30.23 200.48 29.39 201.22 29.7C201.99 30.01 202.55 31.32 202.87 32.47C203.28 33.92 203.51 35.55 203.41 37.52C203.28 40.1 203.24 42.99 202.16 46.12C200.78 50.13 198.25 54.52 196.04 58.95C193.63 63.76 191.1 68.98 188.29 73.87C185.44 78.81 182.47 84.15 179.07 88.44C175.95 92.37 171.83 95.53 168.74 98.53C166.42 100.78 164.72 102.18 162.84 104.2C160.9 106.27 159.25 108.6 157.27 110.81C155.19 113.14 152.82 115.8 150.67 117.83C148.88 119.51 147.51 120.85 145.45 121.95C143.13 123.19 139.81 123.42 137.51 124.84C135.29 126.22 133.68 128.33 131.86 130.33C129.92 132.47 128.03 134.6 126.21 137.28C124.1 140.4 122.13 144.24 120.09 147.73C118.05 151.25 116.04 155.03 113.98 158.31C112.12 161.25 110.29 163.9 108.33 166.37C106.52 168.64 104.63 170.7 102.68 172.53C100.87 174.21 98.82 175.77 97.03 176.91C95.68 177.77 94.45 178.07 93.26 178.53C92.25 178.92 91.17 179.77 90.44 179.46C89.68 179.14 89.14 177.82 88.82 176.66C88.42 175.19 88.18 173.55 88.28 171.56C88.41 168.95 88.45 166.04 89.52 162.87C90.88 158.82 93.37 154.39 95.56 149.91C97.93 145.05 100.43 139.78 103.2 134.84C106 129.85 108.93 124.46 112.29 120.12C115.36 116.16 119.44 112.96 122.48 109.93C124.77 107.65 126.44 106.23 128.3 104.2C130.21 102.12 131.84 99.8 133.79 97.59C135.84 95.26 138.18 92.61 140.3 90.57C142.07 88.89 143.4 87.54 145.45 86.45Z"/>
<path d="M145.45 85.31C148.06 84.09 150.88 83.7 153.39 82.24C156.06 80.69 158.49 78.37 161 76.28C163.57 74.14 166.09 72.05 168.6 69.53C171.37 66.76 174.13 63.54 176.85 60.42C179.62 57.25 182.35 53.74 185.09 50.66C187.63 47.81 190.12 45.2 192.69 42.63C195.19 40.13 197.77 37.86 200.3 35.47C202.84 33.06 205.49 30.16 207.91 28.23C209.71 26.78 211.36 26.08 212.98 25.33C214.32 24.71 215.75 23.79 216.78 24.14C217.83 24.48 218.73 26.01 219.23 27.4C219.83 29.08 220.18 31.1 220.09 33.34C219.97 36.13 219.83 38.96 218.61 42.49C216.93 47.34 214.08 53.18 211.4 58.49C208.63 63.97 205.65 69.72 202.28 74.87C199 79.88 195.39 84.86 191.43 88.96C187.72 92.81 182.9 95.82 179.27 98.71C176.53 100.9 174.76 102.23 172.32 104.2C169.58 106.4 166.75 108.89 163.72 111.23C160.48 113.72 156.8 116.56 153.51 118.69C150.71 120.51 148.17 121.82 145.45 123.09C142.83 124.31 140.01 124.69 137.51 126.16C134.85 127.73 132.47 130.09 129.99 132.22C127.46 134.4 124.96 136.52 122.48 139.08C119.74 141.9 117.02 145.18 114.34 148.34C111.59 151.57 108.9 155.14 106.19 158.26C103.68 161.17 101.22 163.82 98.68 166.43C96.21 168.97 93.66 171.28 91.16 173.72C88.65 176.16 86.04 179.11 83.64 181.08C81.86 182.54 80.24 183.26 78.63 184.02C77.31 184.65 75.9 185.58 74.88 185.24C73.84 184.89 72.94 183.34 72.45 181.93C71.86 180.23 71.52 178.19 71.61 175.92C71.72 173.1 71.86 170.24 73.07 166.66C74.73 161.75 77.55 155.84 80.2 150.47C82.94 144.92 85.88 139.1 89.22 133.89C92.47 128.82 96.04 123.78 99.96 119.62C103.63 115.74 108.4 112.68 111.99 109.75C114.7 107.54 116.45 106.18 118.87 104.2C121.57 101.99 124.37 99.51 127.37 97.17C130.58 94.68 134.22 91.84 137.48 89.71C140.25 87.89 142.75 86.58 145.45 85.31Z"/>
<path d="M145.45 85.88C148.06 84.69 150.86 84.27 153.39 82.9C156.04 81.46 158.49 79.36 161 77.45C163.56 75.49 166.08 73.58 168.6 71.27C171.36 68.75 174.12 65.79 176.85 62.94C179.62 60.04 182.35 56.82 185.09 54.01C187.64 51.39 190.13 49.01 192.69 46.66C195.2 44.37 197.77 42.3 200.3 40.11C202.84 37.91 205.5 35.24 207.91 33.48C209.72 32.15 211.36 31.52 212.98 30.83C214.32 30.27 215.74 29.42 216.78 29.74C217.82 30.06 218.73 31.48 219.23 32.77C219.83 34.33 220.18 36.22 220.09 38.3C219.97 40.89 219.86 43.69 218.61 46.81C216.96 50.92 214.02 55.5 211.4 60.01C208.58 64.86 205.59 70.07 202.28 74.87C198.94 79.72 195.39 84.86 191.43 88.96C187.72 92.81 182.9 95.82 179.27 98.71C176.53 100.9 174.77 102.26 172.32 104.2C169.59 106.36 166.75 108.75 163.72 111.02C160.48 113.44 156.8 116.19 153.51 118.26C150.71 120.03 148.16 121.29 145.45 122.52C142.83 123.71 140.02 124.12 137.51 125.5C134.87 126.96 132.47 129.1 129.99 131.04C127.46 133.04 124.97 134.98 122.48 137.33C119.75 139.9 117.02 142.9 114.34 145.8C111.6 148.75 108.89 152.02 106.19 154.88C103.67 157.54 101.22 159.97 98.68 162.35C96.2 164.68 93.66 166.79 91.16 169.02C88.65 171.26 86.03 173.96 83.64 175.76C81.85 177.11 80.23 177.76 78.63 178.45C77.31 179.03 75.91 179.89 74.88 179.56C73.85 179.24 72.95 177.8 72.45 176.49C71.86 174.92 71.52 173.01 71.61 170.9C71.72 168.28 71.83 165.45 73.07 162.29C74.7 158.13 77.61 153.49 80.2 148.93C82.99 144.02 85.94 138.75 89.22 133.89C92.53 128.98 96.04 123.78 99.96 119.62C103.63 115.74 108.4 112.68 111.99 109.75C114.7 107.54 116.44 106.15 118.87 104.2C121.56 102.03 124.37 99.65 127.37 97.38C130.58 94.96 134.22 92.21 137.48 90.14C140.25 88.37 142.76 87.11 145.45 85.88Z"/>
<path d="M145.45 86.45C148.06 85.29 150.86 84.88 153.39 83.56C156.04 82.17 158.49 80.17 161 78.33C163.56 76.45 166.08 74.62 168.6 72.4C171.36 69.98 174.12 67.14 176.85 64.4C179.62 61.62 182.36 58.53 185.09 55.83C187.64 53.32 190.13 51.03 192.69 48.78C195.2 46.59 197.77 44.6 200.3 42.49C202.84 40.38 205.5 37.82 207.91 36.13C209.73 34.86 211.37 34.24 212.98 33.59C214.33 33.05 215.73 32.23 216.78 32.54C217.82 32.85 218.73 34.21 219.23 35.46C219.83 36.95 220.18 38.78 220.09 40.78C219.97 43.28 219.87 46.06 218.61 48.97C216.98 52.72 213.99 56.66 211.4 60.77C208.55 65.29 205.56 70.24 202.28 74.87C198.9 79.63 195.39 84.86 191.43 88.96C187.72 92.81 182.9 95.82 179.27 98.71C176.53 100.9 174.78 102.29 172.32 104.2C169.6 106.32 166.75 108.61 163.72 110.81C160.48 113.15 156.79 115.82 153.51 117.83C150.7 119.54 148.16 120.76 145.45 121.95C142.83 123.1 140.03 123.51 137.51 124.84C134.88 126.24 132.47 128.29 129.99 130.16C127.46 132.07 124.97 133.93 122.48 136.19C119.75 138.66 117.03 141.54 114.34 144.32C111.6 147.16 108.89 150.3 106.19 153.04C103.67 155.6 101.21 157.92 98.68 160.21C96.2 162.44 93.66 164.47 91.16 166.61C88.65 168.76 86.02 171.36 83.64 173.08C81.85 174.37 80.23 175 78.63 175.66C77.31 176.21 75.91 177.04 74.88 176.73C73.85 176.42 72.95 175.04 72.45 173.77C71.86 172.26 71.52 170.42 71.61 168.39C71.72 165.86 71.82 163.05 73.07 160.11C74.68 156.31 77.64 152.32 80.2 148.16C83.02 143.58 85.97 138.58 89.22 133.89C92.56 129.07 96.04 123.78 99.96 119.62C103.63 115.74 108.4 112.68 111.99 109.75C114.7 107.54 116.43 106.13 118.87 104.2C121.56 102.07 124.38 99.79 127.37 97.59C130.58 95.25 134.23 92.58 137.48 90.57C140.25 88.86 142.76 87.63 145.45 86.45Z"/>
<path d="M145.45 87.01C148.06 85.9 150.85 85.49 153.39 84.21C156.03 82.89 158.49 80.97 161 79.21C163.56 77.41 166.08 75.66 168.6 73.53C171.36 71.21 174.12 68.49 176.85 65.87C179.62 63.2 182.36 60.24 185.09 57.66C187.64 55.25 190.13 53.06 192.69 50.9C195.2 48.8 197.77 46.89 200.3 44.87C202.84 42.85 205.51 40.4 207.91 38.78C209.73 37.56 211.37 36.97 212.98 36.35C214.33 35.83 215.73 35.04 216.78 35.34C217.81 35.64 218.73 36.94 219.23 38.15C219.83 39.58 220.18 41.33 220.09 43.26C219.97 45.66 219.89 48.43 218.61 51.13C217 54.52 213.96 57.81 211.4 61.53C208.51 65.72 205.53 70.4 202.28 74.87C198.87 79.55 195.39 84.86 191.43 88.96C187.72 92.81 182.9 95.82 179.27 98.71C176.53 100.9 174.79 102.31 172.32 104.2C169.6 106.27 166.75 108.47 163.72 110.6C160.48 112.87 156.79 115.45 153.51 117.39C150.7 119.05 148.16 120.24 145.45 121.39C142.83 122.5 140.04 122.89 137.51 124.19C134.89 125.53 132.47 127.49 129.99 129.28C127.46 131.11 124.97 132.89 122.48 135.06C119.76 137.41 117.03 140.18 114.34 142.85C111.6 145.56 108.89 148.57 106.19 151.2C103.67 153.65 101.21 155.88 98.68 158.07C96.2 160.21 93.66 162.15 91.16 164.2C88.65 166.26 86.02 168.75 83.64 170.39C81.84 171.64 80.23 172.23 78.63 172.87C77.3 173.4 75.92 174.2 74.88 173.89C73.86 173.59 72.95 172.27 72.45 171.05C71.86 169.6 71.52 167.83 71.61 165.88C71.72 163.45 71.8 160.65 73.07 157.92C74.66 154.49 77.67 151.15 80.2 147.39C83.06 143.14 86.01 138.41 89.22 133.89C92.59 129.15 96.04 123.78 99.96 119.62C103.63 115.74 108.4 112.68 111.99 109.75C114.7 107.54 116.42 106.1 118.87 104.2C121.55 102.12 124.38 99.93 127.37 97.8C130.58 95.53 134.23 92.95 137.48 91.01C140.25 89.35 142.76 88.16 145.45 87.01Z"/>
<path d="M145.45 85.31C148.5 84.21 150.7 83.56 153.39 82.24C156.37 80.78 159.43 78.76 162.44 76.98C165.47 75.18 168.44 73.47 171.49 71.52C174.73 69.45 178.07 67.23 181.3 64.9C184.61 62.51 187.89 59.79 191.11 57.37C194.17 55.07 197.14 52.95 200.16 50.73C203.18 48.52 206.25 46.48 209.21 44.09C212.28 41.61 215.4 38.24 218.26 36.1C220.43 34.49 222.37 33.63 224.3 32.82C225.89 32.15 227.5 31.28 228.82 31.64C230.17 32.01 231.55 33.51 232.3 34.98C233.14 36.65 233.6 38.87 233.58 41.07C233.56 43.62 233.33 46.09 232.17 49.22C230.55 53.55 227.82 58.75 225.25 63.47C222.59 68.37 219.73 73.49 216.5 78.07C213.34 82.54 209.87 86.98 206.09 90.62C202.51 94.06 197.9 96.73 194.42 99.31C191.79 101.26 190.61 102.52 187.75 104.2C183.88 106.49 178.97 108.9 174.22 111.23C169.1 113.73 163.27 116.58 158.14 118.69C153.68 120.53 149.28 121.7 145.45 123.09C142.4 124.19 140.19 124.83 137.51 126.16C134.53 127.64 131.47 129.69 128.46 131.5C125.43 133.31 122.46 135.05 119.41 137.03C116.17 139.13 112.83 141.38 109.6 143.74C106.29 146.16 103.01 148.92 99.79 151.37C96.73 153.7 93.76 155.86 90.74 158.1C87.72 160.34 84.65 162.41 81.69 164.84C78.62 167.35 75.5 170.76 72.64 172.93C70.48 174.57 68.53 175.44 66.6 176.26C65.01 176.94 63.4 177.81 62.08 177.45C60.73 177.09 59.34 175.57 58.6 174.08C57.76 172.39 57.3 170.16 57.32 167.93C57.34 165.36 57.57 162.87 58.73 159.71C60.34 155.33 63.08 150.08 65.65 145.32C68.31 140.38 71.17 135.2 74.4 130.58C77.56 126.06 81.03 121.58 84.81 117.91C88.39 114.44 93 111.74 96.48 109.13C99.11 107.17 100.29 105.89 103.15 104.2C107.02 101.91 111.93 99.5 116.68 97.17C121.8 94.67 127.63 91.82 132.76 89.71C137.22 87.87 141.62 86.7 145.45 85.31Z"/>
<path d="M145.45 85.88C148.53 84.82 150.68 84.16 153.39 82.9C156.42 81.48 159.6 79.55 162.69 77.83C165.8 76.11 168.85 74.46 171.99 72.57C175.31 70.58 178.75 68.45 182.07 66.2C185.46 63.91 188.84 61.28 192.15 58.96C195.3 56.74 198.35 54.69 201.45 52.56C204.55 50.43 207.71 48.47 210.75 46.17C213.91 43.78 217.12 40.53 220.06 38.48C222.29 36.91 224.28 36.1 226.26 35.31C227.9 34.66 229.54 33.83 230.91 34.18C232.28 34.53 233.7 35.97 234.47 37.4C235.33 39.01 235.81 41.15 235.79 43.28C235.76 45.74 235.54 48.2 234.34 51.14C232.69 55.15 229.85 59.79 227.25 64.15C224.5 68.76 221.56 73.65 218.28 78.07C215.01 82.47 211.48 86.99 207.6 90.62C203.93 94.07 199.22 96.73 195.64 99.31C192.95 101.26 191.74 102.54 188.81 104.2C184.84 106.45 179.8 108.76 174.94 111.02C169.68 113.45 163.71 116.21 158.46 118.26C153.88 120.05 149.36 121.17 145.45 122.52C142.37 123.58 140.22 124.23 137.51 125.5C134.47 126.93 131.3 128.9 128.21 130.64C125.1 132.39 122.05 134.06 118.91 135.97C115.59 137.99 112.15 140.15 108.83 142.43C105.43 144.75 102.06 147.42 98.75 149.77C95.6 152.02 92.55 154.09 89.45 156.25C86.35 158.42 83.19 160.4 80.15 162.74C76.99 165.16 73.78 168.45 70.84 170.54C68.61 172.12 66.62 172.95 64.64 173.74C63 174.4 61.36 175.24 59.99 174.89C58.62 174.54 57.2 173.08 56.43 171.64C55.57 170.02 55.09 167.85 55.11 165.7C55.14 163.22 55.36 160.74 56.56 157.76C58.21 153.72 61.05 149.04 63.65 144.63C66.4 139.98 69.34 135.04 72.62 130.58C75.89 126.13 79.42 121.58 83.3 117.91C86.97 114.43 91.68 111.74 95.26 109.13C97.95 107.17 99.16 105.86 102.09 104.2C106.06 101.95 111.1 99.64 115.96 97.38C121.22 94.95 127.19 92.19 132.44 90.14C137.02 88.35 141.54 87.23 145.45 85.88Z"/>
<path d="M145.45 86.45C148.55 85.42 150.65 84.77 153.39 83.56C156.48 82.19 159.76 80.34 162.94 78.68C166.13 77.03 169.27 75.45 172.49 73.63C175.9 71.72 179.43 69.67 182.84 67.5C186.32 65.3 189.8 62.77 193.19 60.54C196.43 58.4 199.56 56.44 202.74 54.39C205.93 52.34 209.16 50.47 212.3 48.24C215.53 45.95 218.84 42.82 221.85 40.85C224.15 39.34 226.19 38.56 228.22 37.81C229.91 37.18 231.58 36.38 232.99 36.72C234.39 37.06 235.85 38.43 236.64 39.83C237.51 41.36 238.01 43.44 237.99 45.49C237.97 47.86 237.75 50.31 236.5 53.07C234.83 56.76 231.88 60.82 229.24 64.83C226.39 69.15 223.38 73.8 220.05 78.07C216.67 82.4 213.08 86.99 209.12 90.62C205.35 94.07 200.53 96.73 196.87 99.31C194.11 101.26 192.87 102.57 189.87 104.2C185.8 106.4 180.64 108.62 175.66 110.81C170.27 113.16 164.15 115.84 158.78 117.83C154.08 119.56 149.44 120.64 145.45 121.95C142.35 122.98 140.25 123.62 137.51 124.84C134.42 126.23 131.14 128.11 127.96 129.78C124.77 131.46 121.63 133.07 118.41 134.91C115 136.85 111.47 138.93 108.06 141.12C104.58 143.35 101.1 145.91 97.71 148.18C94.47 150.34 91.34 152.33 88.16 154.41C84.97 156.49 81.74 158.39 78.6 160.64C75.37 162.97 72.06 166.14 69.05 168.14C66.75 169.67 64.71 170.46 62.68 171.22C61 171.86 59.32 172.67 57.91 172.33C56.51 171.99 55.05 170.59 54.26 169.19C53.39 167.64 52.89 165.54 52.91 163.47C52.93 161.08 53.15 158.61 54.4 155.82C56.06 152.1 59.02 147.99 61.66 143.95C64.5 139.58 67.52 134.89 70.85 130.58C74.23 126.21 77.82 121.57 81.78 117.91C85.54 114.42 90.37 111.74 94.03 109.13C96.79 107.17 98.03 105.83 101.03 104.2C105.1 101.99 110.26 99.78 115.24 97.59C120.63 95.24 126.75 92.56 132.12 90.57C136.82 88.84 141.46 87.76 145.45 86.45Z"/>
<path d="M145.45 85.31C148.85 84.29 150.29 83.61 153.39 82.24C157.54 80.4 162.36 77.93 167.19 75.68C172.42 73.24 177.96 71.08 183.57 68.19C189.74 64.99 196.72 60.74 202.54 57.41C207.35 54.65 211.35 52.78 215.47 49.92C219.68 47 223.83 42.69 227.54 40.08C230.16 38.24 232.24 37.42 234.44 36.57C236.26 35.86 237.96 34.97 239.61 35.39C241.46 35.87 243.75 37.5 244.96 39.28C246.24 41.17 246.96 43.99 247.08 46.4C247.2 48.85 246.83 51.01 245.67 53.86C244.05 57.84 241.32 62.6 238.77 66.91C236.11 71.4 233.25 76.1 230.04 80.27C226.87 84.39 223.4 88.45 219.64 91.77C216.06 94.94 211.48 97.36 208 99.73C205.38 101.51 204.56 102.7 201.35 104.2C196.38 106.53 189.72 108.91 183.46 111.23C176.68 113.74 168.97 116.59 162.22 118.69C156.3 120.54 150.29 121.62 145.45 123.09C142.06 124.11 140.61 124.78 137.51 126.16C133.35 128.02 128.5 130.54 123.66 132.82C118.4 135.29 112.84 137.48 107.2 140.42C101 143.66 94 147.98 88.15 151.36C83.32 154.16 79.31 156.06 75.17 158.96C70.94 161.93 66.77 166.3 63.04 168.95C60.42 170.81 58.33 171.64 56.12 172.51C54.29 173.23 52.58 174.13 50.92 173.7C49.06 173.22 46.77 171.57 45.55 169.77C44.27 167.86 43.54 165.02 43.42 162.58C43.3 160.11 43.68 157.93 44.84 155.05C46.46 151.03 49.2 146.22 51.77 141.86C54.44 137.33 57.31 132.58 60.53 128.37C63.71 124.21 67.19 120.11 70.97 116.75C74.57 113.56 79.17 111.11 82.66 108.72C85.29 106.92 86.11 105.71 89.33 104.2C94.32 101.86 101 99.49 107.29 97.17C114.1 94.66 121.84 91.81 128.62 89.71C134.56 87.86 140.59 86.78 145.45 85.31Z"/>
<path d="M145.45 85.88C148.89 84.89 150.25 84.22 153.39 82.9C157.65 81.1 162.66 78.71 167.64 76.54C173.05 74.17 178.76 72.08 184.56 69.27C190.93 66.17 198.14 62.05 204.15 58.81C209.12 56.14 213.23 54.32 217.5 51.54C221.84 48.72 226.15 44.53 229.97 42C232.68 40.21 234.83 39.42 237.09 38.6C238.98 37.91 240.72 37.04 242.44 37.46C244.34 37.92 246.69 39.49 247.94 41.23C249.25 43.05 250.01 45.79 250.13 48.14C250.25 50.51 249.88 52.67 248.67 55.37C247.02 59.1 244.17 63.41 241.57 67.44C238.81 71.71 235.85 76.22 232.57 80.27C229.29 84.33 225.73 88.46 221.87 91.77C218.17 94.94 213.46 97.36 209.88 99.73C207.18 101.51 206.33 102.72 203.02 104.2C197.9 106.49 191.05 108.77 184.6 111.02C177.62 113.45 169.67 116.22 162.72 118.26C156.62 120.05 150.42 121.09 145.45 122.52C142.02 123.51 140.65 124.17 137.51 125.5C133.24 127.32 128.2 129.75 123.2 131.96C117.77 134.36 112.04 136.48 106.21 139.34C99.81 142.47 92.57 146.66 86.54 149.94C81.54 152.66 77.41 154.5 73.12 157.32C68.77 160.19 64.44 164.44 60.6 167C57.88 168.82 55.73 169.62 53.45 170.46C51.56 171.16 49.81 172.04 48.08 171.62C46.18 171.15 43.82 169.57 42.56 167.81C41.24 165.97 40.48 163.2 40.36 160.83C40.24 158.44 40.62 156.26 41.82 153.52C43.48 149.76 46.34 145.4 48.96 141.33C51.73 137.02 54.69 132.46 57.99 128.37C61.28 124.27 64.85 120.1 68.73 116.75C72.45 113.55 77.18 111.11 80.77 108.72C83.48 106.92 84.33 105.68 87.65 104.2C92.79 101.9 99.67 99.63 106.15 97.38C113.16 94.95 121.14 92.18 128.11 90.14C134.24 88.35 140.46 87.31 145.45 85.88Z"/>
<path d="M145.45 86.45C148.93 85.5 150.21 84.83 153.39 83.56C157.76 81.81 162.95 79.5 168.09 77.39C173.67 75.1 179.55 73.08 185.55 70.35C192.11 67.35 199.56 63.35 205.76 60.22C210.89 57.63 215.12 55.87 219.54 53.17C224 50.44 228.47 46.37 232.4 43.93C235.2 42.19 237.41 41.42 239.75 40.62C241.7 39.96 243.48 39.12 245.26 39.52C247.21 39.97 249.62 41.47 250.93 43.18C252.26 44.92 253.05 47.6 253.18 49.87C253.31 52.16 252.93 54.33 251.68 56.88C249.99 60.36 247.03 64.22 244.37 67.97C241.5 72.02 238.46 76.34 235.11 80.27C231.7 84.27 228.06 88.46 224.09 91.77C220.28 94.95 215.44 97.36 211.75 99.73C208.97 101.51 208.1 102.75 204.7 104.2C199.43 106.45 192.38 108.63 185.74 110.81C178.55 113.17 170.37 115.85 163.23 117.83C156.94 119.56 150.55 120.56 145.45 121.95C141.98 122.9 140.69 123.56 137.51 124.84C133.13 126.61 127.91 128.96 122.75 131.1C117.14 133.43 111.23 135.48 105.22 138.25C98.62 141.29 91.15 145.35 84.92 148.53C79.77 151.16 75.51 152.94 71.08 155.68C66.59 158.45 62.12 162.58 58.16 165.06C55.35 166.83 53.13 167.6 50.78 168.41C48.83 169.09 47.03 169.94 45.25 169.53C43.29 169.08 40.87 167.56 39.56 165.84C38.22 164.07 37.42 161.38 37.3 159.08C37.17 156.76 37.55 154.58 38.8 152C40.5 148.48 43.48 144.58 46.15 140.79C49.02 136.71 52.08 132.34 55.44 128.37C58.86 124.33 62.51 120.1 66.5 116.75C70.33 113.55 75.19 111.11 78.89 108.72C81.68 106.92 82.55 105.66 85.97 104.2C91.26 101.95 98.34 99.77 105 97.59C112.22 95.23 120.43 92.55 127.61 90.57C133.92 88.84 140.33 87.84 145.45 86.45Z"/>
</g>
<g stroke="#000" stroke-width="1.1" fill="none">
<path d="M406 105.5H681"/>
<path d="M545.3 208.6V5.4"/>
<path d="M421.3 105.5v-4.3"/>
<path d="M452.3 105.5v-4.3"/>
<path d="M483.3 105.5v-4.3"/>
<path d="M514.3 105.5v-4.3"/>
<path d="M576.3 105.5v-4.3"/>
<path d="M607.3 105.5v-4.3"/>
<path d="M638.3 105.5v-4.3"/>
<path d="M669.3 105.5v-4.3"/>
<path d="M545.3 13.18h4.3"/>
<path d="M545.3 36.26h4.3"/>
<path d="M545.3 59.34h4.3"/>
<path d="M545.3 82.42h4.3"/>
<path d="M545.3 128.58h4.3"/>
<path d="M545.3 151.66h4.3"/>
<path d="M545.3 174.74h4.3"/>
<path d="M545.3 197.82h4.3"/>
</g>
<path d="M685 105.5l-10 -2.55v5.1z" fill="#000"/>
<path d="M545.3 1.4l-2.55 10h5.1z" fill="#000"/>
<g font-family='"Liberation Serif", "Times New Roman", serif' font-size="10" fill="#000">
<text x="421.5" y="118.3" text-anchor="middle" letter-spacing="0.15">-80</text>
<text x="452.5" y="118.3" text-anchor="middle" letter-spacing="0.15">-60</text>
<text x="483.5" y="118.3" text-anchor="middle" letter-spacing="0.15">-40</text>
<text x="514.5" y="118.3" text-anchor="middle" letter-spacing="0.15">-20</text>
<text x="576.5" y="118.3" text-anchor="middle" letter-spacing="0.15">20</text>
<text x="607.5" y="118.3" text-anchor="middle" letter-spacing="0.15">40</text>
<text x="638.5" y="118.3" text-anchor="middle" letter-spacing="0.15">60</text>
<text x="669.5" y="118.3" text-anchor="middle" letter-spacing="0.15">80</text>
<text x="540.7" y="16.48" text-anchor="end" letter-spacing="0.15">800</text>
<text x="540.7" y="39.56" text-anchor="end" letter-spacing="0.15">600</text>
<text x="540.7" y="62.64" text-anchor="end" letter-spacing="0.15">400</text>
<text x="540.7" y="85.72" text-anchor="end" letter-spacing="0.15">200</text>
<text x="540.7" y="131.88" text-anchor="end" letter-spacing="0.15">-200</text>
<text x="540.7" y="154.96" text-anchor="end" letter-spacing="0.15">-400</text>
<text x="540.7" y="178.04" text-anchor="end" letter-spacing="0.15">-600</text>
<text x="540.7" y="201.12" text-anchor="end" letter-spacing="0.15">-800</text>
</g>
<text transform="translate(434.7 97.6) rotate(-90)" font-family='"Liberation Serif", "Times New Roman", serif' font-size="10.5" textLength="73.5" lengthAdjust="spacing">Lateral load /kN</text>
<text x="550.8" y="211.9" font-family='"Liberation Serif", "Times New Roman", serif' font-size="10.5" textLength="103.6" lengthAdjust="spacing">Top displacement /mm</text>
<text x="412" y="247.3" font-family='"Liberation Serif", "Times New Roman", serif' font-size="17" font-weight="bold">b</text>
<text x="427" y="247.3" font-family='"Liberation Serif", "Times New Roman", serif' font-size="17" textLength="164.5" lengthAdjust="spacing" xml:space="preserve">Hysteresis curve of  Z-2</text>
<g stroke="#000" stroke-width="1.2" fill="none" stroke-linejoin="round">
<path d="M545.3 104.98C545.51 104.95 545.94 105.16 546.07 104.92C546.28 104.57 546.23 103.81 546.32 103.23C546.41 102.6 546.51 102 546.6 101.29C546.71 100.43 546.83 99.36 546.93 98.5C547.01 97.78 547.09 97.26 547.16 96.56C547.23 95.76 547.3 94.74 547.37 94.02C547.41 93.59 547.44 93.36 547.49 93.11C547.51 92.96 547.55 92.8 547.58 92.81C547.6 92.82 547.61 93.02 547.62 93.17C547.63 93.36 547.63 93.54 547.62 93.82C547.61 94.26 547.61 94.73 547.56 95.33C547.48 96.12 547.36 97.08 547.24 97.97C547.11 98.86 546.98 99.8 546.83 100.67C546.68 101.47 546.53 102.28 546.34 102.99C546.18 103.59 545.96 104.12 545.8 104.6C545.67 104.95 545.57 105.25 545.49 105.5C545.46 105.59 545.46 105.58 545.45 105.62C545.44 105.66 545.43 105.69 545.42 105.73C545.4 105.77 545.39 105.81 545.38 105.85C545.37 105.89 545.35 105.94 545.34 105.97C545.33 105.99 545.36 106.01 545.3 106.02C545.09 106.05 544.66 105.84 544.52 106.08C544.32 106.43 544.37 107.19 544.28 107.77C544.19 108.4 544.09 109 544 109.71C543.89 110.57 543.77 111.64 543.67 112.5C543.59 113.22 543.51 113.74 543.44 114.44C543.37 115.24 543.3 116.26 543.23 116.98C543.19 117.41 543.16 117.64 543.11 117.89C543.09 118.04 543.05 118.2 543.02 118.19C543 118.18 542.99 117.98 542.98 117.83C542.97 117.64 542.97 117.46 542.97 117.18C542.99 116.74 542.99 116.27 543.04 115.67C543.12 114.88 543.24 113.92 543.36 113.03C543.49 112.14 543.62 111.2 543.77 110.33C543.92 109.53 544.07 108.72 544.26 108.01C544.42 107.41 544.64 106.88 544.8 106.4C544.93 106.05 545.03 105.75 545.11 105.5C545.14 105.41 545.14 105.42 545.15 105.38C545.16 105.34 545.17 105.31 545.18 105.27C545.2 105.23 545.21 105.19 545.22 105.15C545.23 105.11 545.25 105.06 545.26 105.03C545.27 105.01 545.24 104.99 545.3 104.98Z"/>
<path d="M545.3 104.46C545.72 104.41 546.57 104.79 546.85 104.35C547.25 103.72 547.16 102.34 547.33 101.28C547.51 100.14 547.71 99.07 547.9 97.77C548.12 96.22 548.36 94.28 548.56 92.73C548.73 91.43 548.87 90.48 549.01 89.22C549.16 87.77 549.29 85.91 549.43 84.61C549.51 83.83 549.58 83.43 549.67 82.97C549.72 82.7 549.81 82.4 549.85 82.42C549.9 82.44 549.92 82.81 549.93 83.08C549.95 83.43 549.96 83.75 549.95 84.27C549.93 85.06 549.93 85.93 549.82 87.01C549.67 88.44 549.41 90.2 549.17 91.8C548.93 93.43 548.66 95.14 548.36 96.71C548.07 98.18 547.75 99.64 547.38 100.93C547.07 102.03 546.62 102.99 546.29 103.86C546.05 104.51 545.84 105.04 545.67 105.5C545.61 105.67 545.62 105.66 545.6 105.74C545.57 105.82 545.55 105.88 545.53 105.96C545.51 106.04 545.48 106.12 545.46 106.2C545.43 106.28 545.41 106.38 545.37 106.44C545.35 106.49 545.42 106.52 545.3 106.54C544.88 106.59 544.03 106.21 543.75 106.65C543.35 107.28 543.44 108.66 543.27 109.72C543.09 110.86 542.89 111.93 542.7 113.23C542.48 114.78 542.24 116.72 542.04 118.27C541.87 119.57 541.73 120.52 541.59 121.78C541.44 123.23 541.31 125.09 541.17 126.39C541.09 127.17 541.02 127.57 540.93 128.03C540.88 128.3 540.79 128.6 540.75 128.58C540.7 128.56 540.68 128.19 540.67 127.92C540.65 127.57 540.64 127.25 540.65 126.73C540.67 125.94 540.67 125.07 540.78 123.99C540.93 122.56 541.19 120.8 541.43 119.2C541.67 117.57 541.94 115.86 542.24 114.29C542.53 112.82 542.85 111.36 543.22 110.07C543.53 108.97 543.98 108.01 544.31 107.14C544.55 106.49 544.76 105.96 544.93 105.5C544.99 105.33 544.98 105.34 545 105.26C545.03 105.18 545.05 105.12 545.07 105.04C545.09 104.96 545.12 104.88 545.14 104.8C545.17 104.72 545.19 104.62 545.23 104.56C545.25 104.51 545.18 104.48 545.3 104.46Z"/>
<path d="M545.3 103.84C545.8 103.75 546.8 104.22 547.16 103.65C547.69 102.82 547.67 101.02 547.95 99.63C548.25 98.15 548.59 96.74 548.9 95.03C549.27 93 549.66 90.46 549.99 88.42C550.27 86.73 550.51 85.48 550.73 83.83C550.99 81.94 551.2 79.5 551.43 77.79C551.57 76.77 551.68 76.24 551.83 75.64C551.91 75.28 552.06 74.89 552.13 74.92C552.2 74.95 552.23 75.44 552.25 75.79C552.28 76.26 552.3 76.68 552.27 77.37C552.24 78.41 552.24 79.57 552.08 81C551.86 82.89 551.49 85.22 551.13 87.35C550.77 89.51 550.39 91.77 549.94 93.85C549.51 95.8 549.05 97.74 548.51 99.45C548.04 100.9 547.39 102.17 546.91 103.32C546.55 104.19 546.25 104.9 546 105.5C545.89 105.75 545.9 105.76 545.86 105.89C545.81 106.01 545.78 106.12 545.73 106.23C545.69 106.36 545.64 106.49 545.59 106.62C545.54 106.75 545.5 106.9 545.44 107.01C545.4 107.08 545.47 107.13 545.3 107.16C544.8 107.25 543.8 106.78 543.44 107.35C542.91 108.18 542.93 109.98 542.65 111.37C542.35 112.85 542.01 114.26 541.7 115.97C541.33 118 540.94 120.54 540.61 122.58C540.33 124.27 540.09 125.52 539.87 127.17C539.61 129.06 539.4 131.5 539.17 133.21C539.03 134.23 538.92 134.76 538.77 135.36C538.69 135.72 538.54 136.11 538.47 136.08C538.4 136.05 538.37 135.56 538.35 135.21C538.32 134.74 538.3 134.32 538.32 133.63C538.36 132.59 538.36 131.43 538.52 130C538.74 128.11 539.11 125.78 539.47 123.65C539.83 121.49 540.21 119.23 540.66 117.15C541.09 115.2 541.55 113.26 542.09 111.55C542.56 110.1 543.21 108.83 543.69 107.68C544.05 106.81 544.35 106.1 544.6 105.5C544.71 105.25 544.7 105.24 544.74 105.11C544.79 104.99 544.82 104.88 544.87 104.77C544.91 104.64 544.96 104.51 545.01 104.38C545.06 104.25 545.1 104.1 545.16 103.99C545.2 103.92 545.13 103.87 545.3 103.84Z"/>
<path d="M545.3 103.01C545.92 102.88 547.16 103.42 547.62 102.73C548.3 101.73 548.33 99.6 548.71 97.95C549.12 96.18 549.57 94.51 550 92.48C550.5 90.07 551.03 87.05 551.49 84.63C551.87 82.61 552.2 81.13 552.5 79.16C552.85 76.92 553.14 74.01 553.45 71.99C553.64 70.77 553.8 70.14 553.99 69.43C554.11 69 554.31 68.54 554.4 68.57C554.5 68.61 554.53 69.2 554.56 69.62C554.6 70.19 554.63 70.69 554.6 71.53C554.56 72.79 554.56 74.19 554.34 75.91C554.05 78.2 553.55 81.01 553.08 83.58C552.6 86.19 552.08 88.92 551.48 91.44C550.92 93.79 550.3 96.14 549.58 98.19C548.96 99.95 548.08 101.48 547.45 102.87C546.97 103.91 546.55 104.77 546.23 105.5C546.08 105.84 546.1 105.89 546.04 106.08C545.99 106.26 545.93 106.42 545.88 106.6C545.82 106.79 545.76 106.99 545.69 107.18C545.63 107.37 545.56 107.6 545.49 107.76C545.43 107.87 545.52 107.95 545.3 107.99C544.68 108.12 543.44 107.58 542.97 108.27C542.3 109.27 542.27 111.4 541.89 113.05C541.48 114.82 541.03 116.49 540.6 118.52C540.1 120.93 539.57 123.95 539.11 126.37C538.73 128.39 538.4 129.87 538.1 131.84C537.75 134.08 537.46 136.99 537.15 139.01C536.96 140.23 536.8 140.86 536.61 141.57C536.49 142 536.29 142.46 536.2 142.43C536.1 142.39 536.07 141.8 536.04 141.38C536 140.81 535.97 140.31 536 139.47C536.04 138.21 536.04 136.81 536.26 135.09C536.55 132.8 537.05 129.99 537.52 127.42C538 124.81 538.52 122.08 539.12 119.56C539.68 117.21 540.3 114.86 541.02 112.81C541.64 111.05 542.52 109.52 543.15 108.13C543.63 107.09 544.05 106.23 544.37 105.5C544.52 105.16 544.5 105.11 544.56 104.92C544.61 104.74 544.67 104.58 544.72 104.4C544.78 104.21 544.84 104.01 544.91 103.82C544.97 103.63 545.04 103.4 545.11 103.24C545.17 103.13 545.08 103.05 545.3 103.01Z"/>
<path d="M545.3 103.08C545.92 102.96 547.15 103.48 547.62 102.81C548.29 101.87 548.33 99.83 548.71 98.25C549.12 96.57 549.57 94.97 550 93.04C550.5 90.74 551.03 87.86 551.49 85.55C551.87 83.62 552.2 82.21 552.5 80.33C552.85 78.19 553.14 75.42 553.45 73.49C553.64 72.33 553.8 71.73 553.99 71.05C554.11 70.64 554.31 70.2 554.4 70.23C554.5 70.27 554.53 70.84 554.56 71.24C554.6 71.78 554.63 72.26 554.6 73.06C554.56 74.26 554.56 75.6 554.34 77.24C554.05 79.42 553.56 82.1 553.08 84.51C552.6 86.89 552.07 89.29 551.48 91.6C550.91 93.85 550.3 96.18 549.58 98.19C548.95 99.94 548.08 101.48 547.45 102.87C546.97 103.91 546.55 104.77 546.23 105.5C546.08 105.83 546.1 105.88 546.04 106.06C545.99 106.24 545.93 106.39 545.88 106.57C545.82 106.75 545.76 106.94 545.69 107.13C545.63 107.32 545.56 107.54 545.49 107.69C545.43 107.8 545.52 107.87 545.3 107.92C544.68 108.04 543.45 107.52 542.97 108.19C542.31 109.13 542.27 111.17 541.89 112.75C541.48 114.43 541.03 116.03 540.6 117.96C540.1 120.26 539.57 123.14 539.11 125.45C538.73 127.38 538.4 128.79 538.1 130.67C537.75 132.81 537.46 135.58 537.15 137.51C536.96 138.67 536.8 139.27 536.61 139.95C536.49 140.36 536.29 140.8 536.2 140.77C536.1 140.73 536.07 140.16 536.04 139.76C536 139.22 535.97 138.74 536 137.94C536.04 136.74 536.04 135.4 536.26 133.76C536.55 131.58 537.04 128.9 537.52 126.49C538 124.11 538.53 121.71 539.12 119.4C539.69 117.15 540.3 114.82 541.02 112.81C541.65 111.06 542.52 109.52 543.15 108.13C543.63 107.09 544.05 106.23 544.37 105.5C544.52 105.17 544.5 105.12 544.56 104.94C544.61 104.76 544.67 104.61 544.72 104.43C544.78 104.25 544.84 104.06 544.91 103.87C544.97 103.68 545.04 103.46 545.11 103.31C545.17 103.2 545.08 103.13 545.3 103.08Z"/>
<path d="M545.3 101.97C546.12 101.79 547.76 102.39 548.4 101.58C549.24 100.5 549.26 98.13 549.72 96.31C550.22 94.36 550.78 92.52 551.3 90.29C551.91 87.63 552.56 84.3 553.12 81.64C553.58 79.41 553.98 77.79 554.36 75.62C554.78 73.15 555.14 69.95 555.52 67.72C555.74 66.37 555.94 65.68 556.18 64.9C556.32 64.42 556.56 63.92 556.68 63.96C556.8 64 556.84 64.67 556.88 65.14C556.92 65.77 556.96 66.34 556.92 67.28C556.87 68.7 556.87 70.27 556.61 72.21C556.25 74.79 555.64 77.95 555.06 80.84C554.48 83.78 553.85 86.85 553.11 89.68C552.42 92.33 551.67 94.97 550.79 97.28C550.03 99.26 548.96 100.98 548.18 102.54C547.6 103.72 547.08 104.67 546.69 105.5C546.5 105.93 546.51 106.05 546.42 106.32C546.33 106.57 546.25 106.81 546.16 107.06C546.07 107.33 545.98 107.61 545.89 107.88C545.79 108.16 545.69 108.48 545.58 108.7C545.5 108.86 545.61 108.97 545.3 109.03C544.48 109.21 542.84 108.61 542.2 109.42C541.36 110.5 541.34 112.87 540.88 114.69C540.38 116.64 539.82 118.48 539.3 120.71C538.69 123.37 538.04 126.7 537.48 129.36C537.02 131.59 536.62 133.21 536.24 135.38C535.82 137.85 535.46 141.05 535.08 143.28C534.86 144.63 534.66 145.32 534.42 146.1C534.28 146.58 534.04 147.08 533.92 147.04C533.8 147 533.76 146.33 533.72 145.86C533.68 145.23 533.64 144.66 533.67 143.72C533.73 142.3 533.73 140.73 533.99 138.79C534.35 136.21 534.96 133.05 535.53 130.16C536.12 127.22 536.75 124.15 537.49 121.32C538.18 118.67 538.93 116.03 539.81 113.72C540.57 111.74 541.64 110.02 542.42 108.46C543 107.28 543.52 106.33 543.9 105.5C544.1 105.07 544.09 104.95 544.18 104.68C544.27 104.43 544.35 104.19 544.44 103.94C544.53 103.67 544.62 103.39 544.71 103.12C544.81 102.84 544.91 102.52 545.02 102.3C545.1 102.14 544.99 102.03 545.3 101.97Z"/>
<path d="M545.3 102.07C546.12 101.9 547.76 102.48 548.4 101.69C549.23 100.68 549.26 98.4 549.72 96.67C550.22 94.82 550.78 93.06 551.3 90.93C551.91 88.4 552.56 85.23 553.12 82.68C553.58 80.56 553.98 79.01 554.36 76.94C554.78 74.59 555.14 71.54 555.52 69.41C555.74 68.13 555.94 67.47 556.18 66.72C556.32 66.27 556.56 65.79 556.68 65.83C556.79 65.87 556.84 66.5 556.88 66.96C556.92 67.56 556.96 68.11 556.92 69C556.87 70.36 556.88 71.86 556.61 73.71C556.26 76.16 555.65 79.18 555.06 81.88C554.48 84.57 553.84 87.26 553.11 89.87C552.41 92.4 551.67 95.02 550.79 97.28C550.02 99.25 548.96 100.98 548.18 102.54C547.6 103.72 547.09 104.67 546.69 105.5C546.5 105.92 546.51 106.04 546.42 106.3C546.33 106.54 546.25 106.77 546.16 107.01C546.07 107.27 545.98 107.55 545.89 107.81C545.79 108.08 545.69 108.39 545.58 108.61C545.5 108.76 545.6 108.86 545.3 108.93C544.48 109.1 542.84 108.52 542.2 109.31C541.37 110.32 541.34 112.6 540.88 114.33C540.38 116.18 539.82 117.94 539.3 120.07C538.69 122.6 538.04 125.77 537.48 128.32C537.02 130.44 536.62 131.99 536.24 134.06C535.82 136.41 535.46 139.46 535.08 141.59C534.86 142.87 534.66 143.53 534.42 144.28C534.28 144.73 534.04 145.21 533.92 145.17C533.81 145.13 533.76 144.5 533.72 144.04C533.68 143.44 533.64 142.89 533.67 142C533.73 140.64 533.72 139.14 533.99 137.29C534.34 134.84 534.95 131.82 535.53 129.12C536.12 126.43 536.76 123.74 537.49 121.13C538.19 118.6 538.93 115.98 539.81 113.72C540.58 111.75 541.64 110.02 542.42 108.46C543 107.28 543.51 106.33 543.9 105.5C544.1 105.08 544.09 104.96 544.18 104.7C544.27 104.46 544.35 104.23 544.44 103.99C544.53 103.73 544.62 103.45 544.71 103.19C544.81 102.92 544.91 102.61 545.02 102.39C545.1 102.24 545 102.14 545.3 102.07Z"/>
<path d="M545.3 100.72C546.32 100.49 548.36 101.12 549.17 100.19C550.17 99.06 550.19 96.5 550.74 94.55C551.33 92.47 551.99 90.5 552.6 88.11C553.32 85.26 554.09 81.7 554.75 78.85C555.29 76.47 555.77 74.72 556.21 72.4C556.72 69.76 557.13 66.33 557.58 63.94C557.85 62.5 558.08 61.76 558.36 60.92C558.54 60.41 558.82 59.87 558.95 59.92C559.09 59.97 559.15 60.7 559.19 61.22C559.25 61.91 559.29 62.54 559.25 63.56C559.19 65.12 559.19 66.85 558.87 68.97C558.45 71.81 557.73 75.28 557.04 78.44C556.35 81.66 555.6 85.04 554.73 88.14C553.91 91.05 553.01 93.96 551.97 96.48C551.07 98.66 549.8 100.54 548.88 102.25C548.18 103.54 547.57 104.57 547.11 105.5C546.86 106.02 546.87 106.25 546.75 106.61C546.64 106.95 546.54 107.27 546.42 107.61C546.31 107.97 546.19 108.35 546.06 108.72C545.93 109.09 545.81 109.53 545.66 109.83C545.56 110.05 545.69 110.19 545.3 110.28C544.28 110.51 542.24 109.88 541.42 110.81C540.43 111.94 540.41 114.5 539.86 116.45C539.27 118.53 538.61 120.5 538 122.89C537.28 125.74 536.51 129.3 535.85 132.15C535.31 134.53 534.83 136.28 534.39 138.6C533.88 141.24 533.47 144.67 533.02 147.06C532.75 148.5 532.52 149.24 532.24 150.08C532.06 150.59 531.78 151.13 531.65 151.08C531.51 151.03 531.45 150.3 531.41 149.78C531.35 149.09 531.31 148.46 531.35 147.44C531.41 145.88 531.41 144.15 531.73 142.03C532.15 139.19 532.87 135.72 533.56 132.56C534.25 129.34 535 125.96 535.87 122.86C536.69 119.95 537.59 117.04 538.63 114.52C539.53 112.34 540.8 110.46 541.72 108.75C542.42 107.46 543.03 106.43 543.49 105.5C543.74 104.98 543.73 104.75 543.85 104.39C543.96 104.05 544.06 103.73 544.18 103.39C544.29 103.03 544.41 102.65 544.54 102.28C544.67 101.91 544.79 101.47 544.94 101.17C545.04 100.95 544.91 100.81 545.3 100.72Z"/>
<path d="M545.3 100.87C546.32 100.64 548.35 101.24 549.17 100.35C550.16 99.28 550.19 96.83 550.74 94.98C551.33 92.99 551.99 91.11 552.6 88.84C553.32 86.12 554.09 82.73 554.75 80.01C555.29 77.74 555.77 76.08 556.21 73.87C556.72 71.35 557.13 68.08 557.58 65.81C557.85 64.43 558.08 63.72 558.36 62.93C558.54 62.44 558.82 61.92 558.95 61.97C559.09 62.02 559.15 62.71 559.19 63.21C559.25 63.87 559.29 64.47 559.25 65.45C559.19 66.94 559.19 68.6 558.87 70.62C558.46 73.31 557.74 76.62 557.04 79.59C556.35 82.53 555.58 85.49 554.73 88.35C553.89 91.13 553.01 94.01 551.97 96.48C551.06 98.64 549.8 100.54 548.88 102.25C548.18 103.54 547.57 104.57 547.11 105.5C546.86 106.01 546.87 106.23 546.75 106.58C546.64 106.91 546.54 107.22 546.42 107.55C546.31 107.9 546.19 108.27 546.06 108.63C545.93 108.99 545.81 109.41 545.66 109.7C545.56 109.91 545.69 110.05 545.3 110.13C544.28 110.36 542.25 109.76 541.42 110.65C540.44 111.72 540.41 114.17 539.86 116.02C539.27 118.01 538.61 119.89 538 122.16C537.28 124.88 536.51 128.27 535.85 130.99C535.31 133.26 534.83 134.92 534.39 137.13C533.88 139.65 533.47 142.92 533.02 145.19C532.75 146.57 532.52 147.28 532.24 148.07C532.06 148.56 531.78 149.08 531.65 149.03C531.51 148.98 531.45 148.29 531.41 147.79C531.35 147.13 531.31 146.53 531.35 145.55C531.41 144.06 531.41 142.4 531.73 140.38C532.14 137.69 532.86 134.38 533.56 131.41C534.25 128.47 535.02 125.51 535.87 122.65C536.71 119.87 537.59 116.99 538.63 114.52C539.54 112.36 540.8 110.46 541.72 108.75C542.42 107.46 543.03 106.43 543.49 105.5C543.74 104.99 543.73 104.77 543.85 104.42C543.96 104.09 544.06 103.78 544.18 103.45C544.29 103.1 544.41 102.73 544.54 102.37C544.67 102.01 544.79 101.59 544.94 101.3C545.04 101.09 544.91 100.95 545.3 100.87Z"/>
<path d="M545.3 99.27C546.52 98.96 548.95 99.59 549.95 98.58C551.09 97.43 551.09 94.78 551.71 92.78C552.37 90.63 553.11 88.61 553.79 86.15C554.6 83.22 555.47 79.56 556.2 76.62C556.82 74.17 557.35 72.38 557.85 69.99C558.41 67.27 558.88 63.74 559.39 61.29C559.69 59.81 559.95 59.04 560.26 58.18C560.46 57.66 560.77 57.09 560.92 57.15C561.08 57.21 561.15 57.97 561.2 58.53C561.26 59.26 561.31 59.93 561.26 61.02C561.19 62.67 561.2 64.5 560.84 66.76C560.36 69.76 559.54 73.44 558.77 76.8C557.98 80.22 557.13 83.8 556.15 87.08C555.22 90.18 554.21 93.26 553.03 95.93C552 98.25 550.58 100.24 549.53 102.06C548.75 103.42 548.04 104.49 547.54 105.5C547.22 106.12 547.23 106.48 547.09 106.95C546.95 107.4 546.82 107.81 546.69 108.25C546.54 108.72 546.39 109.22 546.24 109.7C546.08 110.19 545.93 110.75 545.75 111.15C545.62 111.43 545.78 111.61 545.3 111.73C544.08 112.04 541.65 111.41 540.65 112.42C539.51 113.57 539.51 116.22 538.89 118.22C538.23 120.37 537.49 122.39 536.81 124.85C536 127.78 535.13 131.44 534.4 134.38C533.78 136.83 533.25 138.62 532.75 141.01C532.19 143.73 531.72 147.26 531.21 149.71C530.91 151.19 530.65 151.96 530.34 152.82C530.14 153.34 529.83 153.91 529.68 153.85C529.52 153.79 529.45 153.03 529.4 152.47C529.34 151.74 529.29 151.07 529.33 149.98C529.41 148.33 529.4 146.5 529.76 144.24C530.24 141.24 531.06 137.56 531.83 134.2C532.62 130.78 533.47 127.2 534.45 123.92C535.38 120.82 536.39 117.74 537.57 115.07C538.6 112.75 540.02 110.76 541.07 108.94C541.85 107.58 542.56 106.51 543.06 105.5C543.38 104.88 543.37 104.52 543.51 104.05C543.65 103.6 543.78 103.19 543.91 102.75C544.06 102.28 544.21 101.78 544.36 101.3C544.52 100.81 544.67 100.25 544.85 99.85C544.98 99.57 544.82 99.39 545.3 99.27Z"/>
<path d="M545.3 99.46C546.52 99.16 548.94 99.76 549.95 98.78C551.07 97.7 551.09 95.16 551.71 93.26C552.37 91.22 553.1 89.29 553.79 86.95C554.6 84.16 555.47 80.67 556.2 77.87C556.82 75.54 557.35 73.83 557.85 71.56C558.41 68.97 558.88 65.6 559.39 63.27C559.69 61.86 559.95 61.12 560.26 60.31C560.46 59.81 560.77 59.27 560.92 59.32C561.08 59.38 561.15 60.11 561.2 60.64C561.26 61.34 561.31 61.98 561.26 63.02C561.19 64.6 561.2 66.35 560.84 68.5C560.37 71.35 559.55 74.87 558.77 78.01C557.99 81.14 557.12 84.28 556.15 87.3C555.2 90.25 554.2 93.31 553.03 95.93C552 98.23 550.58 100.24 549.53 102.06C548.75 103.42 548.04 104.5 547.54 105.5C547.23 106.11 547.23 106.45 547.09 106.91C546.95 107.34 546.82 107.74 546.69 108.17C546.54 108.63 546.39 109.11 546.24 109.58C546.08 110.05 545.93 110.6 545.75 110.98C545.62 111.25 545.78 111.43 545.3 111.54C544.08 111.84 541.66 111.24 540.65 112.22C539.53 113.3 539.51 115.84 538.89 117.74C538.23 119.78 537.5 121.71 536.81 124.05C536 126.84 535.13 130.33 534.4 133.13C533.78 135.46 533.25 137.17 532.75 139.44C532.19 142.03 531.72 145.4 531.21 147.73C530.91 149.14 530.65 149.88 530.34 150.69C530.14 151.19 529.83 151.73 529.68 151.68C529.52 151.62 529.45 150.89 529.4 150.36C529.34 149.66 529.29 149.02 529.33 147.98C529.41 146.4 529.4 144.65 529.76 142.5C530.23 139.65 531.05 136.13 531.83 132.99C532.61 129.86 533.48 126.72 534.45 123.7C535.4 120.75 536.4 117.69 537.57 115.07C538.6 112.77 540.02 110.76 541.07 108.94C541.85 107.58 542.56 106.5 543.06 105.5C543.37 104.89 543.37 104.55 543.51 104.09C543.65 103.66 543.78 103.26 543.91 102.83C544.06 102.37 544.21 101.89 544.36 101.42C544.52 100.95 544.67 100.4 544.85 100.02C544.98 99.75 544.82 99.57 545.3 99.46Z"/>
<path d="M545.3 97.19C546.72 96.8 549.48 97.37 550.72 96.27C552.07 95.08 552.24 92.36 553.06 90.31C553.94 88.1 554.92 86.03 555.83 83.49C556.91 80.49 558.06 76.72 559.04 73.7C559.86 71.18 560.57 69.35 561.23 66.89C561.98 64.1 562.61 60.46 563.28 57.94C563.68 56.41 564.03 55.62 564.44 54.75C564.71 54.2 565.12 53.62 565.32 53.69C565.53 53.76 565.61 54.57 565.68 55.16C565.76 55.95 565.82 56.66 565.76 57.83C565.67 59.6 565.67 61.57 565.23 63.98C564.63 67.21 563.61 71.15 562.64 74.75C561.65 78.41 560.59 82.25 559.35 85.77C558.19 89.09 556.92 92.4 555.45 95.25C554.16 97.75 552.38 99.86 551.07 101.81C550.09 103.28 549.2 104.38 548.57 105.5C548.15 106.26 548.13 106.8 547.92 107.43C547.72 108.03 547.53 108.58 547.33 109.17C547.12 109.8 546.9 110.46 546.67 111.1C546.45 111.75 546.22 112.51 545.95 113.04C545.77 113.41 545.91 113.64 545.3 113.81C543.88 114.2 541.12 113.63 539.88 114.73C538.53 115.92 538.36 118.64 537.54 120.69C536.66 122.9 535.68 124.97 534.77 127.51C533.69 130.51 532.54 134.28 531.56 137.3C530.74 139.82 530.03 141.65 529.37 144.11C528.62 146.9 527.99 150.54 527.32 153.06C526.92 154.59 526.57 155.38 526.16 156.25C525.89 156.8 525.48 157.38 525.28 157.31C525.07 157.24 524.99 156.43 524.92 155.84C524.84 155.05 524.78 154.34 524.84 153.17C524.93 151.4 524.93 149.43 525.37 147.02C525.97 143.79 526.99 139.85 527.96 136.25C528.95 132.59 530.01 128.75 531.25 125.23C532.41 121.91 533.68 118.6 535.15 115.75C536.44 113.25 538.22 111.14 539.53 109.19C540.51 107.72 541.4 106.62 542.03 105.5C542.45 104.74 542.47 104.2 542.68 103.57C542.88 102.97 543.07 102.42 543.27 101.83C543.48 101.2 543.7 100.54 543.93 99.9C544.15 99.25 544.38 98.49 544.65 97.96C544.83 97.59 544.69 97.36 545.3 97.19Z"/>
<path d="M545.3 97.44C546.72 97.06 549.47 97.61 550.72 96.54C552.05 95.42 552.24 92.83 553.06 90.87C553.94 88.77 554.92 86.8 555.83 84.39C556.91 81.53 558.06 77.94 559.04 75.07C559.86 72.67 560.57 70.93 561.23 68.58C561.98 65.93 562.61 62.46 563.28 60.07C563.68 58.61 564.03 57.85 564.44 57.03C564.71 56.5 565.12 55.95 565.32 56.02C565.53 56.08 565.61 56.86 565.68 57.43C565.76 58.18 565.82 58.86 565.76 59.98C565.67 61.67 565.67 63.56 565.23 65.85C564.63 68.91 563.62 72.68 562.64 76.04C561.66 79.4 560.57 82.77 559.35 86C558.17 89.17 556.91 92.46 555.45 95.25C554.15 97.72 552.38 99.86 551.07 101.81C550.09 103.28 549.2 104.39 548.57 105.5C548.15 106.24 548.13 106.77 547.92 107.37C547.72 107.95 547.53 108.48 547.33 109.06C547.12 109.67 546.9 110.31 546.67 110.94C546.45 111.56 546.22 112.3 545.95 112.81C545.77 113.17 545.9 113.4 545.3 113.56C543.88 113.94 541.13 113.39 539.88 114.46C538.55 115.58 538.36 118.17 537.54 120.13C536.66 122.23 535.68 124.2 534.77 126.61C533.69 129.47 532.54 133.06 531.56 135.93C530.74 138.33 530.03 140.07 529.37 142.42C528.62 145.07 527.99 148.54 527.32 150.93C526.92 152.39 526.57 153.15 526.16 153.97C525.89 154.5 525.48 155.05 525.28 154.98C525.07 154.92 524.99 154.14 524.92 153.57C524.84 152.82 524.78 152.14 524.84 151.02C524.93 149.33 524.93 147.44 525.37 145.15C525.97 142.09 526.98 138.32 527.96 134.96C528.94 131.6 530.03 128.23 531.25 125C532.43 121.83 533.69 118.54 535.15 115.75C536.45 113.28 538.22 111.14 539.53 109.19C540.51 107.72 541.4 106.61 542.03 105.5C542.45 104.76 542.47 104.23 542.68 103.63C542.88 103.05 543.07 102.52 543.27 101.94C543.48 101.33 543.7 100.69 543.93 100.06C544.15 99.44 544.38 98.7 544.65 98.19C544.83 97.83 544.7 97.6 545.3 97.44Z"/>
<path d="M545.3 92.52C547.02 91.98 549.83 92.24 551.5 91.08C553.26 89.85 554.28 87.43 555.57 85.33C557 83.02 558.36 80.73 559.65 77.86C561.19 74.41 562.59 70.19 564.06 66.36C565.53 62.53 566.97 58.44 568.48 54.87C569.8 51.73 571.11 48.89 572.55 46.25C573.83 43.91 575.14 41.79 576.63 39.93C577.97 38.24 579.48 36.73 581.04 35.62C582.42 34.63 584.44 33.65 585.45 33.61C586.09 33.58 585.9 34.68 585.98 35.4C586.1 36.36 586.18 37.14 586.06 38.64C585.87 41.09 585.9 43.9 585.06 47.27C583.92 51.81 581.97 57.33 580.14 62.36C578.26 67.52 576.23 72.92 573.91 77.82C571.69 82.51 569.25 87.18 566.5 91.12C564.01 94.68 560.68 97.59 558.2 100.32C556.33 102.38 554.7 103.89 553.45 105.5C552.58 106.62 552.35 107.54 551.82 108.52C551.32 109.45 550.86 110.31 550.35 111.24C549.82 112.22 549.29 113.26 548.72 114.26C548.15 115.27 547.58 116.47 546.93 117.27C546.44 117.88 546.24 118.16 545.3 118.48C543.63 119.05 540.78 118.76 539.1 119.92C537.33 121.15 536.26 123.56 534.93 125.65C533.48 127.95 532.08 130.23 530.77 133.09C529.19 136.53 527.76 140.72 526.25 144.54C524.75 148.35 523.28 152.43 521.74 155.99C520.39 159.11 519.05 161.95 517.58 164.57C516.27 166.91 514.93 169.02 513.41 170.87C512.03 172.55 510.49 174.05 508.9 175.16C507.48 176.15 505.43 177.12 504.38 177.16C503.74 177.19 503.93 176.09 503.84 175.37C503.73 174.42 503.65 173.64 503.76 172.15C503.94 169.7 503.91 166.9 504.7 163.55C505.75 159.02 507.57 153.52 509.27 148.5C511.02 143.36 512.9 137.98 515.06 133.09C517.13 128.43 519.39 123.78 521.95 119.83C524.26 116.3 527.37 113.39 529.67 110.66C531.41 108.61 532.81 107.06 534.08 105.5C535.03 104.34 535.6 103.46 536.33 102.48C537.02 101.55 537.65 100.69 538.35 99.76C539.08 98.78 539.81 97.74 540.59 96.74C541.38 95.73 542.19 94.5 543.06 93.73C543.76 93.1 544.21 92.86 545.3 92.52Z"/>
<path d="M545.3 92.91C547.03 92.38 549.82 92.63 551.5 91.51C553.24 90.34 554.28 88.04 555.57 86.04C556.99 83.85 558.36 81.67 559.65 78.93C561.19 75.65 562.59 71.65 564.06 68C565.53 64.36 566.97 60.46 568.48 57.07C569.8 54.08 571.11 51.37 572.55 48.87C573.83 46.64 575.14 44.62 576.63 42.85C577.97 41.25 579.49 39.81 581.04 38.75C582.43 37.81 584.43 36.88 585.45 36.84C586.08 36.82 585.9 37.86 585.98 38.56C586.1 39.47 586.18 40.22 586.06 41.65C585.87 43.99 585.9 46.69 585.06 49.89C583.92 54.2 581.99 59.49 580.14 64.18C578.27 68.91 576.2 73.64 573.91 78.15C571.65 82.61 569.24 87.25 566.5 91.12C564 94.64 560.68 97.59 558.2 100.32C556.33 102.38 554.71 103.9 553.45 105.5C552.58 106.6 552.35 107.48 551.82 108.43C551.32 109.33 550.86 110.16 550.35 111.06C549.82 112.02 549.29 113.02 548.72 113.99C548.15 114.98 547.58 116.15 546.93 116.92C546.44 117.51 546.24 117.78 545.3 118.09C543.63 118.64 540.79 118.37 539.1 119.49C537.34 120.65 536.26 122.94 534.93 124.94C533.48 127.12 532.08 129.29 530.77 132.01C529.19 135.28 527.76 139.27 526.25 142.9C524.75 146.53 523.28 150.42 521.74 153.79C520.39 156.77 519.04 159.47 517.58 161.96C516.27 164.19 514.92 166.19 513.41 167.95C512.03 169.55 510.48 170.98 508.9 172.03C507.47 172.98 505.43 173.9 504.38 173.94C503.75 173.96 503.93 172.92 503.84 172.23C503.73 171.32 503.65 170.57 503.76 169.15C503.94 166.81 503.91 164.13 504.7 160.94C505.75 156.64 507.55 151.37 509.27 146.68C511 141.98 512.93 137.27 515.06 132.76C517.16 128.32 519.4 123.7 521.95 119.83C524.27 116.33 527.37 113.39 529.67 110.66C531.41 108.61 532.81 107.05 534.08 105.5C535.03 104.36 535.6 103.52 536.33 102.57C537.02 101.67 537.65 100.84 538.35 99.94C539.08 98.98 539.81 97.97 540.59 97.01C541.38 96.02 542.19 94.83 543.06 94.08C543.76 93.47 544.21 93.24 545.3 92.91Z"/>
<path d="M545.3 89.92C547.16 89.33 549.54 89.44 551.5 88.19C553.88 86.68 556.14 84.06 558.34 81.64C560.7 79.03 562.99 76.43 565.17 73.11C567.73 69.22 570.11 64.37 572.58 60C575.04 55.63 577.47 50.94 579.98 46.9C582.22 43.29 584.43 40.04 586.82 37.06C588.99 34.36 591.21 31.93 593.65 29.85C595.96 27.89 598.51 26.18 601.06 24.94C603.44 23.78 606.69 22.76 608.46 22.64C609.33 22.59 608.93 23.71 609 24.42C609.11 25.36 609.18 26.03 609 27.61C608.69 30.44 608.75 33.77 607.53 37.66C605.86 42.99 603 49.41 600.32 55.25C597.56 61.27 594.58 67.58 591.2 73.26C587.92 78.75 584.32 84.21 580.34 88.75C576.65 92.95 571.81 96.29 568.18 99.47C565.44 101.87 563.19 103.63 561.23 105.5C559.81 106.85 559.08 107.95 558.04 109.12C557.06 110.24 556.16 111.27 555.17 112.38C554.14 113.56 553.09 114.81 551.99 116.01C550.86 117.23 549.7 118.71 548.49 119.63C547.47 120.4 546.63 120.63 545.3 121.08C543.5 121.69 541.07 121.57 539.1 122.81C536.71 124.31 534.43 126.9 532.21 129.3C529.83 131.87 527.52 134.44 525.32 137.73C522.74 141.58 520.34 146.37 517.85 150.7C515.36 155.02 512.92 159.67 510.39 163.67C508.13 167.24 505.9 170.46 503.5 173.4C501.31 176.08 499.06 178.48 496.61 180.53C494.28 182.48 491.71 184.17 489.14 185.39C486.73 186.54 483.47 187.55 481.68 187.66C480.8 187.72 481.21 186.61 481.13 185.9C481.03 184.97 480.96 184.31 481.13 182.73C481.43 179.93 481.37 176.63 482.52 172.77C484.09 167.5 486.77 161.13 489.3 155.33C491.89 149.36 494.69 143.11 497.87 137.47C500.95 132.04 504.32 126.62 508.08 122.11C511.54 117.96 516.1 114.64 519.52 111.48C522.09 109.1 524.1 107.31 526.05 105.5C527.56 104.1 528.65 103.05 529.9 101.88C531.09 100.76 532.18 99.73 533.36 98.62C534.62 97.44 535.88 96.18 537.21 94.99C538.58 93.77 540 92.28 541.45 91.37C542.7 90.59 543.81 90.39 545.3 89.92Z"/>
<path d="M545.3 90.39C547.15 89.81 549.52 89.84 551.5 88.71C553.8 87.39 556 85.15 558.15 83.06C560.43 80.82 562.66 78.58 564.79 75.71C567.27 72.36 569.59 68.17 571.99 64.4C574.39 60.63 576.76 56.57 579.19 53.09C581.37 49.97 583.53 47.16 585.84 44.61C587.96 42.26 590.13 40.17 592.48 38.39C594.74 36.68 597.22 35.22 599.68 34.15C602.02 33.14 605.13 32.26 606.88 32.17C607.71 32.13 607.34 33.11 607.41 33.75C607.51 34.58 607.58 35.17 607.41 36.57C607.1 39.08 607.17 42.07 605.97 45.47C604.34 50.1 601.62 55.83 598.94 60.67C596.31 65.43 593.21 69.68 590.05 74.24C586.72 79.04 583.31 84.42 579.46 88.75C575.83 92.83 571.15 96.29 567.6 99.47C564.94 101.87 562.74 103.65 560.83 105.5C559.45 106.83 558.73 107.87 557.72 109.01C556.76 110.1 555.88 111.09 554.93 112.18C553.92 113.32 552.9 114.53 551.82 115.69C550.72 116.88 549.59 118.31 548.41 119.21C547.42 119.95 546.61 120.18 545.3 120.61C543.51 121.21 541.09 121.17 539.1 122.29C536.79 123.6 534.56 125.81 532.4 127.88C530.1 130.09 527.85 132.31 525.7 135.15C523.2 138.46 520.86 142.61 518.44 146.34C516.02 150.07 513.64 154.08 511.18 157.52C508.98 160.61 506.81 163.39 504.48 165.91C502.34 168.24 500.16 170.3 497.78 172.06C495.5 173.75 493.01 175.21 490.52 176.26C488.17 177.26 485.03 178.13 483.27 178.22C482.44 178.26 482.81 177.28 482.73 176.65C482.63 175.83 482.57 175.24 482.73 173.85C483.02 171.37 482.96 168.41 484.09 165.03C485.62 160.45 488.18 154.76 490.7 149.96C493.17 145.25 496.08 141.02 499.06 136.5C502.19 131.74 505.38 126.41 509.01 122.11C512.42 118.07 516.83 114.64 520.16 111.48C522.67 109.1 524.62 107.29 526.53 105.5C528 104.13 529.06 103.13 530.28 101.99C531.44 100.9 532.51 99.91 533.66 98.82C534.88 97.68 536.12 96.46 537.42 95.31C538.75 94.12 540.13 92.68 541.55 91.79C542.76 91.04 543.84 90.84 545.3 90.39Z"/>
<path d="M545.3 90.86C547.15 90.3 549.52 90.34 551.5 89.23C553.8 87.94 556 85.72 558.15 83.65C560.43 81.44 562.66 79.23 564.79 76.39C567.27 73.09 569.59 68.95 571.99 65.23C574.39 61.51 576.76 57.5 579.19 54.07C581.37 50.99 583.53 48.21 585.84 45.69C587.96 43.38 590.13 41.31 592.48 39.55C594.74 37.87 597.22 36.42 599.68 35.37C602.02 34.37 605.13 33.51 606.88 33.41C607.71 33.37 607.34 34.34 607.41 34.96C607.51 35.78 607.58 36.36 607.41 37.74C607.1 40.2 607.17 43.15 605.97 46.48C604.34 51.03 601.63 56.68 598.94 61.38C596.32 65.97 593.19 69.95 590.05 74.37C586.7 79.08 583.31 84.45 579.46 88.75C575.82 92.82 571.15 96.29 567.6 99.47C564.94 101.87 562.75 103.66 560.83 105.5C559.46 106.81 558.73 107.8 557.72 108.91C556.76 109.96 555.88 110.92 554.93 111.97C553.92 113.08 552.9 114.25 551.82 115.38C550.72 116.52 549.59 117.92 548.41 118.78C547.41 119.51 546.61 119.72 545.3 120.14C543.5 120.72 541.09 120.67 539.1 121.77C536.79 123.05 534.56 125.24 532.4 127.29C530.1 129.47 527.85 131.66 525.7 134.47C523.2 137.73 520.86 141.83 518.44 145.51C516.02 149.19 513.63 153.16 511.18 156.55C508.98 159.6 506.81 162.35 504.48 164.84C502.34 167.13 500.16 169.17 497.78 170.91C495.5 172.58 493.01 174.01 490.52 175.05C488.17 176.04 485.04 176.89 483.27 176.98C482.44 177.03 482.81 176.07 482.73 175.45C482.63 174.64 482.57 174.06 482.73 172.69C483.02 170.25 482.96 167.34 484.09 164.02C485.62 159.52 488.17 153.92 490.7 149.26C493.16 144.71 496.1 140.75 499.06 136.37C502.21 131.7 505.39 126.38 509.01 122.11C512.42 118.09 516.83 114.64 520.16 111.48C522.67 109.1 524.61 107.28 526.53 105.5C527.99 104.15 529.06 103.2 530.28 102.09C531.44 101.04 532.51 100.08 533.66 99.03C534.88 97.92 536.12 96.74 537.42 95.62C538.75 94.47 540.14 93.07 541.55 92.22C542.76 91.48 543.84 91.3 545.3 90.86Z"/>
<path d="M545.3 91.32C547.16 90.78 549.52 90.84 551.5 89.75C553.8 88.48 556 86.29 558.15 84.24C560.43 82.06 562.66 79.88 564.79 77.08C567.27 73.82 569.59 69.73 571.99 66.06C574.39 62.39 576.76 58.43 579.19 55.04C581.38 52 583.53 49.26 585.84 46.78C587.96 44.49 590.13 42.45 592.48 40.72C594.75 39.05 597.22 37.62 599.68 36.59C602.02 35.6 605.13 34.75 606.88 34.66C607.7 34.61 607.34 35.56 607.41 36.18C607.51 36.98 607.58 37.55 607.41 38.91C607.1 41.33 607.17 44.23 605.97 47.5C604.34 51.96 601.63 57.52 598.94 62.08C596.33 66.52 593.17 70.22 590.05 74.5C586.68 79.11 583.3 84.48 579.46 88.75C575.82 92.8 571.15 96.29 567.6 99.47C564.94 101.87 562.76 103.68 560.83 105.5C559.46 106.79 558.73 107.73 557.72 108.8C556.76 109.81 555.88 110.75 554.93 111.76C553.92 112.84 552.9 113.98 551.82 115.06C550.72 116.17 549.59 117.52 548.41 118.36C547.41 119.06 546.6 119.27 545.3 119.68C543.5 120.24 541.09 120.17 539.1 121.25C536.79 122.51 534.57 124.68 532.4 126.7C530.1 128.85 527.86 131.01 525.7 133.79C523.2 137 520.86 141.05 518.44 144.69C516.02 148.32 513.63 152.24 511.18 155.59C508.98 158.6 506.81 161.3 504.48 163.76C502.34 166.03 500.15 168.04 497.78 169.76C495.5 171.4 493.01 172.82 490.52 173.84C488.17 174.82 485.04 175.66 483.27 175.75C482.45 175.79 482.81 174.85 482.73 174.24C482.63 173.45 482.57 172.88 482.73 171.54C483.02 169.14 482.96 166.26 484.09 163.02C485.62 158.6 488.16 153.09 490.7 148.56C493.15 144.17 496.12 140.48 499.06 136.24C502.22 131.67 505.39 126.36 509.01 122.11C512.43 118.1 516.83 114.64 520.16 111.48C522.67 109.1 524.61 107.26 526.53 105.5C527.98 104.17 529.06 103.27 530.28 102.2C531.44 101.19 532.51 100.25 533.66 99.24C534.88 98.16 536.12 97.02 537.42 95.94C538.75 94.82 540.14 93.47 541.55 92.64C542.77 91.93 543.84 91.75 545.3 91.32Z"/>
<path d="M545.3 89.61C547.3 89.06 549.27 88.97 551.5 87.84C554.43 86.36 557.76 84.05 560.79 81.79C563.96 79.41 567.06 77.03 570.08 73.91C573.51 70.36 576.79 65.83 580.14 61.79C583.49 57.75 586.82 53.38 590.2 49.68C593.27 46.31 596.29 43.3 599.49 40.59C602.49 38.05 605.53 35.81 608.78 33.92C611.98 32.07 615.43 30.51 618.84 29.38C622.14 28.29 626.38 27.36 628.9 27.26C629.97 27.22 629.52 28.26 629.62 28.94C629.75 29.82 629.84 30.46 629.62 31.95C629.22 34.63 629.28 37.82 627.74 41.44C625.6 46.52 621.97 52.56 618.58 58.05C615.05 63.77 611.25 69.75 606.99 75.05C602.78 80.3 598.17 85.47 593.19 89.68C588.42 93.72 582.35 96.8 577.74 99.81C574.26 102.07 571.48 103.72 568.91 105.5C566.97 106.85 565.72 107.99 564.19 109.2C562.73 110.33 561.39 111.38 559.94 112.52C558.4 113.72 556.84 115 555.22 116.22C553.54 117.47 551.78 119 550.02 119.91C548.47 120.72 547 120.89 545.3 121.39C543.36 121.97 541.33 122.03 539.1 123.16C536.17 124.63 532.84 126.92 529.81 129.18C526.64 131.54 523.54 133.91 520.52 137.01C517.09 140.54 513.81 145.04 510.46 149.06C507.11 153.07 503.78 157.42 500.4 161.11C497.33 164.45 494.3 167.45 491.11 170.14C488.11 172.67 485.07 174.9 481.82 176.77C478.62 178.61 475.17 180.16 471.76 181.29C468.46 182.37 464.23 183.29 461.7 183.39C460.63 183.44 461.08 182.4 460.98 181.72C460.85 180.84 460.77 180.21 460.98 178.72C461.36 176.06 461.3 172.89 462.75 169.27C464.78 164.23 468.2 158.21 471.41 152.74C474.73 147.06 478.32 141.1 482.35 135.81C486.32 130.6 490.67 125.45 495.38 121.25C499.88 117.24 505.62 114.16 509.98 111.17C513.26 108.91 515.79 107.27 518.32 105.5C520.37 104.06 521.96 102.83 523.71 101.56C525.37 100.36 526.9 99.25 528.57 98.11C530.31 96.92 532.11 95.72 533.97 94.56C535.89 93.36 537.91 91.89 539.9 91.03C541.69 90.25 543.44 90.12 545.3 89.61Z"/>
<path d="M545.3 90.09C547.29 89.55 549.26 89.38 551.5 88.37C554.36 87.09 557.62 85.15 560.59 83.2C563.68 81.18 566.7 79.16 569.68 76.48C573.02 73.47 576.24 69.58 579.52 66.13C582.8 62.68 586.07 58.94 589.37 55.79C592.38 52.9 595.34 50.33 598.45 48.03C601.4 45.85 604.38 43.94 607.54 42.34C610.69 40.75 614.06 39.42 617.39 38.46C620.62 37.52 624.73 36.73 627.23 36.65C628.24 36.62 627.83 37.52 627.93 38.13C628.06 38.9 628.15 39.47 627.93 40.78C627.54 43.13 627.59 45.99 626.09 49.13C623.99 53.53 620.5 58.92 617.12 63.39C613.72 67.88 609.78 71.78 605.76 76.02C601.48 80.54 597.08 85.67 592.24 89.68C587.52 93.59 581.61 96.8 577.09 99.81C573.68 102.07 570.96 103.73 568.44 105.5C566.54 106.83 565.31 107.92 563.81 109.08C562.38 110.19 561.07 111.21 559.65 112.31C558.14 113.48 556.61 114.72 555.02 115.9C553.37 117.11 551.65 118.59 549.93 119.48C548.41 120.26 546.98 120.43 545.3 120.91C543.37 121.48 541.34 121.62 539.1 122.63C536.24 123.91 532.98 125.84 530.01 127.77C526.92 129.78 523.9 131.79 520.92 134.45C517.59 137.45 514.36 141.31 511.08 144.74C507.8 148.17 504.53 151.89 501.23 155.02C498.22 157.89 495.26 160.45 492.15 162.73C489.2 164.9 486.22 166.8 483.06 168.39C479.91 169.97 476.54 171.29 473.21 172.25C469.98 173.18 465.87 173.97 463.37 174.05C462.36 174.08 462.77 173.18 462.67 172.57C462.54 171.81 462.46 171.24 462.67 169.93C463.04 167.59 462.98 164.75 464.4 161.62C466.39 157.25 469.68 151.89 472.88 147.43C476.08 142.96 479.81 139.08 483.61 134.85C487.64 130.35 491.8 125.26 496.38 121.25C500.82 117.36 506.41 114.16 510.68 111.17C513.9 108.91 516.38 107.25 518.86 105.5C520.87 104.08 522.42 102.91 524.15 101.68C525.77 100.52 527.26 99.44 528.91 98.33C530.61 97.18 532.37 96.01 534.19 94.89C536.08 93.72 538.06 92.3 540.01 91.46C541.76 90.7 543.46 90.58 545.3 90.09Z"/>
<path d="M545.3 90.56C547.29 90.04 549.26 89.89 551.5 88.9C554.34 87.65 557.58 85.75 560.54 83.85C563.61 81.88 566.62 79.9 569.58 77.28C572.89 74.34 576.1 70.54 579.37 67.17C582.63 63.8 585.88 60.14 589.16 57.07C592.16 54.25 595.1 51.73 598.19 49.49C601.13 47.35 604.09 45.49 607.23 43.93C610.36 42.37 613.72 41.08 617.02 40.14C620.24 39.22 624.32 38.45 626.81 38.37C627.81 38.34 627.41 39.22 627.51 39.81C627.64 40.56 627.73 41.12 627.51 42.4C627.12 44.69 627.17 47.49 625.68 50.54C623.59 54.82 620.13 60.08 616.75 64.37C613.38 68.64 609.42 72.14 605.45 76.2C601.17 80.58 596.81 85.7 592 89.68C587.3 93.57 581.43 96.8 576.93 99.81C573.54 102.07 570.84 103.75 568.32 105.5C566.44 106.81 565.21 107.84 563.72 108.97C562.3 110.04 560.99 111.03 559.57 112.1C558.08 113.23 556.55 114.43 554.97 115.57C553.33 116.75 551.61 118.19 549.9 119.05C548.39 119.81 546.97 119.97 545.3 120.44C543.37 120.98 541.34 121.12 539.1 122.1C536.26 123.34 533.02 125.23 530.06 127.12C526.99 129.08 523.98 131.05 521.02 133.65C517.71 136.57 514.5 140.35 511.23 143.7C507.97 147.05 504.72 150.69 501.44 153.75C498.44 156.55 495.5 159.05 492.41 161.28C489.47 163.4 486.51 165.26 483.37 166.81C480.24 168.35 476.88 169.64 473.58 170.58C470.36 171.48 466.28 172.26 463.79 172.33C462.79 172.36 463.19 171.49 463.09 170.9C462.96 170.15 462.88 169.6 463.09 168.32C463.46 166.04 463.4 163.26 464.82 160.22C466.79 155.97 470.06 150.73 473.25 146.45C476.42 142.21 480.18 138.71 483.93 134.67C487.97 130.31 492.08 125.22 496.63 121.25C501.05 117.39 506.61 114.16 510.86 111.17C514.06 108.91 516.52 107.23 518.99 105.5C520.98 104.11 522.54 102.99 524.25 101.79C525.87 100.67 527.36 99.63 528.99 98.55C530.69 97.43 532.44 96.3 534.25 95.21C536.12 94.09 538.1 92.71 540.04 91.89C541.79 91.16 543.47 91.04 545.3 90.56Z"/>
<path d="M545.3 89.61C547.78 89.22 549.01 88.8 551.5 87.84C555.01 86.5 559.42 84.66 563.31 82.72C567.29 80.73 571.21 78.74 575.11 76.06C579.41 73.11 583.64 69.23 587.9 65.81C592.16 62.4 596.44 58.67 600.69 55.56C604.64 52.69 608.49 50.14 612.5 47.88C616.36 45.7 620.22 43.81 624.3 42.24C628.42 40.65 632.79 39.35 637.09 38.4C641.32 37.47 646.54 36.62 649.88 36.61C651.26 36.6 651.02 37.59 651.26 38.33C651.55 39.2 651.66 40 651.47 41.43C651.17 43.79 651.16 46.55 649.77 49.7C647.81 54.13 644.52 59.39 641.44 64.16C638.22 69.15 634.76 74.36 630.9 78.98C627.06 83.55 622.87 88.06 618.35 91.72C614 95.25 608.49 97.92 604.29 100.54C601.13 102.51 599.13 103.79 596.26 105.5C593.06 107.41 589.42 109.63 586.07 111.41C582.96 113.07 580.1 114.72 576.9 115.85C573.65 116.99 570.19 117.5 566.7 118.25C563.06 119.04 559.16 119.93 555.49 120.47C552.02 120.98 548.35 120.89 545.3 121.39C542.88 121.79 541.6 122.22 539.1 123.16C535.56 124.48 531.12 126.28 527.2 128.19C523.19 130.14 519.24 132.09 515.31 134.73C510.98 137.62 506.71 141.44 502.42 144.79C498.12 148.15 493.81 151.81 489.53 154.85C485.55 157.68 481.67 160.18 477.63 162.4C473.73 164.54 469.84 166.39 465.73 167.94C461.58 169.5 457.17 170.78 452.84 171.71C448.58 172.62 443.33 173.46 439.95 173.47C438.57 173.48 438.81 172.5 438.56 171.77C438.27 170.91 438.17 170.13 438.35 168.71C438.64 166.39 438.65 163.67 439.97 160.56C441.82 156.19 444.95 151 447.88 146.28C450.92 141.37 454.21 136.23 457.88 131.67C461.52 127.16 465.5 122.71 469.79 119.09C473.91 115.62 479.15 112.98 483.13 110.39C486.14 108.45 487.91 107.16 490.76 105.5C494.09 103.56 498.09 101.37 501.66 99.59C505 97.92 508.06 96.28 511.48 95.15C514.97 94 518.66 93.5 522.39 92.75C526.29 91.96 530.47 91.07 534.39 90.53C538.11 90.02 542.07 90.12 545.3 89.61Z"/>
<path d="M545.3 90.09C547.75 89.71 549.03 89.23 551.5 88.37C554.92 87.19 559.2 85.63 562.99 83.95C566.86 82.24 570.67 80.54 574.48 78.21C578.65 75.67 582.78 72.32 586.93 69.37C591.08 66.43 595.25 63.2 599.38 60.53C603.23 58.05 606.99 55.85 610.88 53.91C614.65 52.02 618.41 50.4 622.37 49.05C626.39 47.67 630.64 46.55 634.82 45.73C638.94 44.93 643.99 44.19 647.27 44.18C648.59 44.18 648.37 45.06 648.61 45.72C648.89 46.49 649 47.2 648.82 48.48C648.52 50.58 648.51 53.07 647.16 55.83C645.25 59.72 642.08 64.46 639.03 68.43C635.95 72.43 632.4 75.98 628.76 79.75C624.9 83.74 620.9 88.21 616.52 91.72C612.25 95.14 606.91 97.92 602.82 100.54C599.73 102.51 597.79 103.81 594.99 105.5C591.87 107.38 588.31 109.5 585.05 111.24C582.02 112.85 579.23 114.44 576.11 115.54C572.94 116.65 569.57 117.14 566.17 117.87C562.62 118.63 558.81 119.5 555.24 120.02C551.86 120.51 548.28 120.43 545.3 120.91C542.9 121.3 541.58 121.78 539.1 122.63C535.66 123.8 531.34 125.32 527.52 126.96C523.62 128.64 519.79 130.32 515.94 132.6C511.75 135.09 507.57 138.38 503.39 141.27C499.21 144.17 495 147.33 490.84 149.95C486.96 152.39 483.18 154.55 479.26 156.45C475.46 158.3 471.67 159.9 467.68 161.22C463.63 162.57 459.34 163.68 455.13 164.48C450.98 165.27 445.9 165.99 442.59 165.99C441.26 165.99 441.47 165.14 441.23 164.48C440.95 163.72 440.85 163.02 441.02 161.76C441.31 159.69 441.31 157.23 442.6 154.5C444.41 150.67 447.41 146 450.31 142.08C453.24 138.13 456.61 134.63 460.07 130.9C463.73 126.97 467.52 122.56 471.68 119.09C475.73 115.72 480.8 112.98 484.69 110.39C487.62 108.45 489.34 107.14 492.12 105.5C495.36 103.59 499.27 101.5 502.76 99.76C506 98.15 508.99 96.56 512.33 95.46C515.73 94.35 519.32 93.86 522.96 93.13C526.77 92.37 530.84 91.5 534.66 90.98C538.29 90.49 542.14 90.58 545.3 90.09Z"/>
<path d="M545.3 90.56C547.72 90.19 549.05 89.68 551.5 88.9C554.8 87.85 558.9 86.51 562.55 85.05C566.27 83.56 569.92 82.08 573.61 80.04C577.6 77.84 581.59 74.91 585.58 72.34C589.57 69.77 593.59 66.96 597.55 64.64C601.26 62.46 604.87 60.55 608.61 58.86C612.24 57.21 615.86 55.8 619.66 54.62C623.54 53.42 627.62 52.44 631.63 51.73C635.6 51.03 640.44 50.38 643.61 50.38C644.86 50.39 644.67 51.16 644.9 51.76C645.17 52.45 645.28 53.1 645.1 54.24C644.81 56.13 644.8 58.41 643.5 60.86C641.66 64.3 638.65 68.63 635.67 71.91C632.74 75.14 629.17 77.27 625.76 80.38C621.94 83.87 618.16 88.34 613.97 91.72C609.83 95.06 604.7 97.92 600.76 100.54C597.78 102.51 595.92 103.84 593.21 105.5C590.21 107.34 586.77 109.38 583.62 111.06C580.7 112.62 578.02 114.16 575 115.23C571.95 116.3 568.7 116.78 565.42 117.48C561.99 118.22 558.33 119.06 554.88 119.57C551.62 120.05 548.2 119.97 545.3 120.44C542.94 120.82 541.56 121.33 539.1 122.1C535.78 123.14 531.64 124.44 527.96 125.87C524.22 127.34 520.54 128.79 516.82 130.79C512.8 132.95 508.78 135.82 504.75 138.34C500.73 140.86 496.68 143.62 492.69 145.9C488.95 148.03 485.31 149.91 481.55 151.56C477.88 153.18 474.24 154.57 470.41 155.72C466.5 156.9 462.39 157.86 458.34 158.55C454.34 159.24 449.47 159.89 446.27 159.88C445.01 159.87 445.2 159.11 444.97 158.52C444.7 157.84 444.6 157.2 444.77 156.07C445.04 154.21 445.05 151.96 446.29 149.54C448.03 146.15 450.88 141.89 453.72 138.64C456.5 135.46 459.89 133.35 463.13 130.28C466.76 126.83 470.33 122.44 474.32 119.09C478.24 115.81 483.12 112.98 486.86 110.39C489.69 108.45 491.34 107.11 494.03 105.5C497.15 103.63 500.92 101.62 504.28 99.94C507.42 98.38 510.29 96.83 513.51 95.77C516.79 94.69 520.26 94.22 523.77 93.52C527.43 92.78 531.36 91.94 535.05 91.43C538.54 90.95 542.24 91.03 545.3 90.56Z"/>
</g>
<g stroke="#000" stroke-width="1.1" fill="none">
<path d="M-2 375.1H281.3"/>
<path d="M142.4 482V270.6"/>
<path d="M15.2 375.1v-4.3"/>
<path d="M47 375.1v-4.3"/>
<path d="M78.8 375.1v-4.3"/>
<path d="M110.6 375.1v-4.3"/>
<path d="M174.2 375.1v-4.3"/>
<path d="M206 375.1v-4.3"/>
<path d="M237.8 375.1v-4.3"/>
<path d="M269.6 375.1v-4.3"/>
<path d="M142.4 279.34h4.3"/>
<path d="M142.4 303.28h4.3"/>
<path d="M142.4 327.22h4.3"/>
<path d="M142.4 351.16h4.3"/>
<path d="M142.4 399.04h4.3"/>
<path d="M142.4 422.98h4.3"/>
<path d="M142.4 446.92h4.3"/>
<path d="M142.4 470.86h4.3"/>
</g>
<path d="M285.3 375.1l-10 -2.55v5.1z" fill="#000"/>
<path d="M142.4 266.6l-2.55 10h5.1z" fill="#000"/>
<g font-family='"Liberation Serif", "Times New Roman", serif' font-size="10" fill="#000">
<text x="15.4" y="387.9" text-anchor="middle" letter-spacing="0.15">-80</text>
<text x="47.2" y="387.9" text-anchor="middle" letter-spacing="0.15">-60</text>
<text x="79" y="387.9" text-anchor="middle" letter-spacing="0.15">-40</text>
<text x="110.8" y="387.9" text-anchor="middle" letter-spacing="0.15">-20</text>
<text x="174.4" y="387.9" text-anchor="middle" letter-spacing="0.15">20</text>
<text x="206.2" y="387.9" text-anchor="middle" letter-spacing="0.15">40</text>
<text x="238" y="387.9" text-anchor="middle" letter-spacing="0.15">60</text>
<text x="269.8" y="387.9" text-anchor="middle" letter-spacing="0.15">80</text>
<text x="137.8" y="282.64" text-anchor="end" letter-spacing="0.15">800</text>
<text x="137.8" y="306.58" text-anchor="end" letter-spacing="0.15">600</text>
<text x="137.8" y="330.52" text-anchor="end" letter-spacing="0.15">400</text>
<text x="137.8" y="354.46" text-anchor="end" letter-spacing="0.15">200</text>
<text x="137.8" y="402.34" text-anchor="end" letter-spacing="0.15">-200</text>
<text x="137.8" y="426.28" text-anchor="end" letter-spacing="0.15">-400</text>
<text x="137.8" y="450.22" text-anchor="end" letter-spacing="0.15">-600</text>
<text x="137.8" y="474.16" text-anchor="end" letter-spacing="0.15">-800</text>
</g>
<text x="139.9" y="377.6" font-family='"Liberation Serif", "Times New Roman", serif' font-size="10" text-anchor="end">0</text>
<text transform="translate(29.3 366.8) rotate(-90)" font-family='"Liberation Serif", "Times New Roman", serif' font-size="10.5" textLength="71.6" lengthAdjust="spacing">Lateral load /kN</text>
<text x="153" y="486" font-family='"Liberation Serif", "Times New Roman", serif' font-size="10.5" textLength="100.5" lengthAdjust="spacing">Top displacement /mm</text>
<text x="20" y="510.8" font-family='"Liberation Serif", "Times New Roman", serif' font-size="17" font-weight="bold">c</text>
<text x="36" y="510.8" font-family='"Liberation Serif", "Times New Roman", serif' font-size="17" textLength="175.5" lengthAdjust="spacing" xml:space="preserve">Hysteresis curve of BW-1</text>
<g stroke="#000" stroke-width="1.2" fill="none" stroke-linejoin="round">
<path d="M142.4 374.59C142.6 374.54 143.06 374.75 143.19 374.5C143.4 374.13 143.35 373.35 143.44 372.74C143.53 372.09 143.64 371.47 143.73 370.73C143.85 369.84 143.97 368.73 144.07 367.84C144.16 367.1 144.23 366.55 144.3 365.83C144.38 365 144.45 363.94 144.52 363.19C144.56 362.74 144.6 362.51 144.64 362.25C144.67 362.09 144.71 361.92 144.73 361.93C144.76 361.94 144.77 362.16 144.78 362.31C144.79 362.51 144.79 362.69 144.78 362.99C144.77 363.44 144.77 363.93 144.72 364.55C144.64 365.37 144.51 366.37 144.39 367.28C144.26 368.21 144.13 369.19 143.97 370.09C143.82 370.92 143.66 371.76 143.47 372.49C143.31 373.12 143.08 373.67 142.91 374.16C142.78 374.53 142.68 374.84 142.59 375.1C142.55 375.22 142.55 375.23 142.53 375.29C142.51 375.36 142.48 375.43 142.46 375.5C142.44 375.54 142.48 375.6 142.4 375.61C142.2 375.66 141.74 375.45 141.61 375.7C141.4 376.07 141.45 376.85 141.36 377.46C141.27 378.11 141.16 378.73 141.07 379.47C140.95 380.36 140.83 381.47 140.73 382.36C140.64 383.1 140.57 383.65 140.5 384.37C140.42 385.2 140.35 386.26 140.28 387.01C140.24 387.46 140.2 387.69 140.16 387.95C140.13 388.11 140.09 388.28 140.07 388.27C140.04 388.26 140.03 388.04 140.02 387.89C140.01 387.69 140.01 387.51 140.02 387.21C140.03 386.76 140.03 386.27 140.08 385.65C140.16 384.83 140.29 383.83 140.41 382.92C140.54 381.99 140.67 381.01 140.83 380.11C140.98 379.28 141.14 378.44 141.33 377.71C141.49 377.08 141.72 376.53 141.89 376.04C142.02 375.67 142.12 375.36 142.21 375.1C142.25 374.98 142.25 374.97 142.27 374.91C142.29 374.84 142.32 374.77 142.34 374.7C142.36 374.66 142.32 374.6 142.4 374.59Z"/>
<path d="M142.4 374.07C142.8 373.97 143.7 374.36 143.99 373.9C144.4 373.25 144.31 371.82 144.48 370.72C144.67 369.54 144.88 368.43 145.07 367.08C145.3 365.47 145.54 363.46 145.74 361.85C145.92 360.5 146.07 359.52 146.21 358.21C146.36 356.71 146.5 354.79 146.64 353.43C146.72 352.62 146.79 352.21 146.88 351.73C146.94 351.45 147.02 351.14 147.07 351.16C147.11 351.18 147.14 351.57 147.15 351.84C147.17 352.21 147.19 352.54 147.17 353.08C147.15 353.89 147.15 354.8 147.03 355.92C146.88 357.4 146.62 359.22 146.37 360.89C146.12 362.58 145.85 364.35 145.53 365.98C145.24 367.51 144.92 369.03 144.54 370.36C144.21 371.5 143.75 372.49 143.42 373.39C143.17 374.07 142.95 374.63 142.78 375.1C142.7 375.32 142.7 375.35 142.66 375.48C142.61 375.62 142.56 375.77 142.51 375.89C142.48 375.98 142.56 376.09 142.4 376.13C142 376.23 141.1 375.84 140.81 376.3C140.4 376.95 140.49 378.38 140.32 379.48C140.13 380.66 139.92 381.77 139.73 383.12C139.5 384.73 139.26 386.74 139.06 388.35C138.88 389.7 138.73 390.68 138.59 391.99C138.44 393.49 138.3 395.41 138.16 396.77C138.08 397.58 138.01 397.99 137.92 398.47C137.86 398.75 137.78 399.06 137.73 399.04C137.69 399.02 137.66 398.63 137.65 398.36C137.63 397.99 137.61 397.66 137.63 397.12C137.65 396.31 137.65 395.4 137.77 394.28C137.92 392.8 138.18 390.98 138.43 389.31C138.68 387.62 138.95 385.85 139.27 384.22C139.56 382.69 139.88 381.17 140.26 379.84C140.59 378.7 141.05 377.71 141.38 376.81C141.63 376.13 141.85 375.57 142.02 375.1C142.1 374.88 142.1 374.85 142.14 374.72C142.19 374.58 142.24 374.43 142.29 374.31C142.32 374.22 142.24 374.11 142.4 374.07Z"/>
<path d="M142.4 373.45C142.88 373.31 143.94 373.78 144.31 373.18C144.85 372.3 144.84 370.45 145.12 369.01C145.43 367.47 145.77 366.01 146.09 364.24C146.47 362.13 146.87 359.5 147.21 357.39C147.5 355.63 147.75 354.34 147.98 352.62C148.24 350.66 148.45 348.13 148.69 346.36C148.83 345.3 148.95 344.75 149.1 344.12C149.18 343.75 149.33 343.35 149.4 343.38C149.48 343.41 149.5 343.92 149.53 344.28C149.56 344.77 149.58 345.2 149.56 345.92C149.52 347 149.52 348.2 149.36 349.68C149.13 351.65 148.75 354.07 148.38 356.27C148.01 358.51 147.62 360.86 147.15 363.02C146.72 365.04 146.25 367.06 145.69 368.82C145.22 370.33 144.54 371.65 144.05 372.84C143.68 373.74 143.37 374.47 143.12 375.1C142.98 375.43 142.97 375.51 142.89 375.71C142.8 375.93 142.71 376.17 142.61 376.36C142.54 376.52 142.63 376.68 142.4 376.75C141.92 376.89 140.86 376.42 140.49 377.02C139.95 377.9 139.96 379.75 139.68 381.19C139.37 382.73 139.03 384.19 138.71 385.96C138.33 388.07 137.93 390.7 137.59 392.81C137.3 394.57 137.05 395.86 136.82 397.58C136.56 399.54 136.35 402.07 136.11 403.84C135.97 404.9 135.85 405.45 135.7 406.08C135.62 406.45 135.47 406.85 135.4 406.82C135.32 406.79 135.3 406.28 135.27 405.92C135.24 405.43 135.22 405 135.25 404.28C135.28 403.2 135.28 402 135.44 400.52C135.67 398.55 136.05 396.13 136.42 393.93C136.79 391.69 137.18 389.34 137.65 387.18C138.08 385.16 138.55 383.14 139.11 381.38C139.58 379.87 140.26 378.55 140.75 377.36C141.12 376.46 141.43 375.73 141.68 375.1C141.82 374.77 141.83 374.69 141.91 374.49C142 374.27 142.09 374.03 142.19 373.84C142.26 373.68 142.17 373.52 142.4 373.45Z"/>
<path d="M142.4 372.63C142.99 372.41 144.31 372.95 144.78 372.23C145.47 371.19 145.51 369.03 145.9 367.35C146.32 365.55 146.78 363.84 147.22 361.78C147.73 359.31 148.28 356.24 148.75 353.77C149.14 351.71 149.48 350.2 149.79 348.19C150.15 345.9 150.44 342.94 150.76 340.88C150.95 339.63 151.12 338.99 151.32 338.27C151.44 337.83 151.64 337.36 151.73 337.39C151.83 337.43 151.87 338.04 151.9 338.47C151.94 339.04 151.97 339.56 151.94 340.41C151.89 341.7 151.9 343.13 151.67 344.89C151.38 347.23 150.86 350.1 150.38 352.72C149.89 355.38 149.36 358.17 148.74 360.74C148.16 363.14 147.53 365.54 146.79 367.64C146.15 369.43 145.26 370.99 144.6 372.41C144.11 373.48 143.68 374.34 143.35 375.1C143.17 375.54 143.16 375.71 143.05 376.02C142.94 376.34 142.81 376.71 142.69 377C142.59 377.22 142.7 377.46 142.4 377.57C141.81 377.79 140.49 377.25 140.02 377.97C139.33 379.01 139.29 381.17 138.9 382.85C138.48 384.65 138.02 386.36 137.58 388.42C137.07 390.89 136.52 393.96 136.05 396.43C135.66 398.49 135.32 400 135.01 402.01C134.65 404.3 134.36 407.26 134.04 409.32C133.85 410.57 133.68 411.21 133.48 411.93C133.36 412.37 133.16 412.84 133.07 412.81C132.97 412.77 132.93 412.16 132.9 411.73C132.86 411.16 132.83 410.64 132.86 409.79C132.91 408.5 132.9 407.07 133.13 405.31C133.42 402.97 133.94 400.1 134.42 397.48C134.91 394.82 135.44 392.03 136.06 389.46C136.64 387.06 137.27 384.66 138.01 382.56C138.65 380.77 139.54 379.21 140.2 377.79C140.69 376.72 141.12 375.86 141.45 375.1C141.63 374.66 141.64 374.49 141.75 374.18C141.86 373.86 141.99 373.49 142.11 373.2C142.21 372.98 142.1 372.74 142.4 372.63Z"/>
<path d="M142.4 372.7C142.99 372.49 144.3 373.01 144.78 372.31C145.47 371.33 145.51 369.27 145.9 367.66C146.32 365.94 146.78 364.32 147.22 362.35C147.73 360 148.28 357.06 148.75 354.71C149.14 352.74 149.48 351.3 149.79 349.39C150.15 347.21 150.44 344.38 150.76 342.41C150.95 341.23 151.12 340.61 151.32 339.92C151.44 339.51 151.64 339.06 151.73 339.09C151.83 339.12 151.87 339.71 151.9 340.12C151.94 340.67 151.97 341.16 151.94 341.97C151.89 343.2 151.9 344.57 151.67 346.25C151.38 348.48 150.87 351.23 150.38 353.73C149.89 356.24 149.36 358.86 148.74 361.28C148.16 363.54 147.53 365.78 146.79 367.77C146.15 369.5 145.25 371.03 144.6 372.42C144.11 373.48 143.69 374.34 143.35 375.1C143.17 375.53 143.16 375.69 143.05 375.99C142.94 376.3 142.81 376.66 142.69 376.94C142.59 377.16 142.7 377.39 142.4 377.5C141.81 377.71 140.5 377.19 140.02 377.89C139.33 378.87 139.29 380.93 138.9 382.54C138.48 384.26 138.02 385.88 137.58 387.85C137.07 390.2 136.52 393.14 136.05 395.49C135.66 397.46 135.32 398.9 135.01 400.81C134.65 402.99 134.36 405.82 134.04 407.79C133.85 408.97 133.68 409.59 133.48 410.28C133.36 410.69 133.16 411.14 133.07 411.11C132.97 411.08 132.93 410.49 132.9 410.08C132.86 409.53 132.83 409.04 132.86 408.23C132.91 407 132.9 405.63 133.13 403.95C133.42 401.72 133.93 398.97 134.42 396.47C134.91 393.96 135.44 391.34 136.06 388.92C136.64 386.66 137.27 384.42 138.01 382.43C138.65 380.7 139.55 379.17 140.2 377.78C140.69 376.72 141.11 375.86 141.45 375.1C141.63 374.67 141.64 374.51 141.75 374.21C141.86 373.9 141.99 373.54 142.11 373.26C142.21 373.04 142.1 372.81 142.4 372.7Z"/>
<path d="M142.4 371.6C143.18 371.3 144.92 371.88 145.58 371.03C146.44 369.92 146.46 367.56 146.94 365.73C147.45 363.78 148.02 361.93 148.55 359.68C149.18 357.01 149.85 353.66 150.42 350.98C150.89 348.75 151.31 347.11 151.69 344.93C152.13 342.45 152.49 339.23 152.88 336.99C153.11 335.64 153.31 334.94 153.56 334.15C153.71 333.67 153.95 333.16 154.07 333.21C154.19 333.25 154.24 333.92 154.28 334.4C154.32 335.04 154.36 335.61 154.33 336.56C154.27 337.99 154.27 339.58 154 341.53C153.64 344.13 153.01 347.32 152.42 350.23C151.81 353.19 151.17 356.29 150.41 359.14C149.71 361.82 148.93 364.49 148.03 366.81C147.25 368.81 146.16 370.54 145.36 372.12C144.76 373.3 144.23 374.23 143.83 375.1C143.57 375.66 143.54 375.96 143.37 376.4C143.2 376.86 143.01 377.38 142.83 377.79C142.69 378.11 142.82 378.44 142.4 378.6C141.62 378.9 139.88 378.32 139.22 379.17C138.36 380.28 138.34 382.64 137.86 384.47C137.35 386.42 136.78 388.27 136.25 390.52C135.62 393.19 134.95 396.54 134.38 399.22C133.91 401.45 133.49 403.09 133.11 405.27C132.67 407.75 132.31 410.97 131.92 413.21C131.69 414.56 131.49 415.26 131.24 416.05C131.09 416.53 130.85 417.04 130.73 417C130.61 416.95 130.56 416.28 130.52 415.8C130.48 415.16 130.44 414.59 130.47 413.64C130.53 412.21 130.53 410.62 130.8 408.67C131.16 406.07 131.79 402.88 132.38 399.97C132.99 397.01 133.63 393.91 134.39 391.06C135.09 388.38 135.87 385.71 136.77 383.39C137.55 381.39 138.64 379.66 139.44 378.08C140.04 376.9 140.57 375.97 140.97 375.1C141.23 374.54 141.26 374.24 141.43 373.8C141.6 373.34 141.79 372.82 141.97 372.41C142.11 372.09 141.98 371.76 142.4 371.6Z"/>
<path d="M142.4 371.7C143.19 371.41 144.91 371.97 145.58 371.15C146.43 370.11 146.46 367.85 146.94 366.1C147.45 364.24 148.02 362.47 148.55 360.33C149.18 357.79 149.85 354.6 150.42 352.04C150.89 349.91 151.31 348.35 151.69 346.27C152.13 343.9 152.49 340.83 152.88 338.7C153.11 337.41 153.31 336.74 153.56 335.99C153.71 335.54 153.95 335.05 154.07 335.09C154.19 335.13 154.24 335.77 154.28 336.23C154.32 336.84 154.36 337.39 154.33 338.29C154.27 339.66 154.27 341.17 154 343.04C153.64 345.53 153.01 348.58 152.42 351.35C151.82 354.15 151.17 357.06 150.41 359.75C149.71 362.26 148.93 364.75 148.03 366.95C147.24 368.88 146.15 370.58 145.36 372.12C144.75 373.29 144.24 374.23 143.83 375.1C143.57 375.65 143.54 375.94 143.37 376.36C143.2 376.81 143.01 377.31 142.83 377.71C142.69 378.02 142.82 378.34 142.4 378.5C141.61 378.79 139.89 378.23 139.22 379.05C138.37 380.09 138.34 382.35 137.86 384.1C137.35 385.96 136.78 387.73 136.25 389.87C135.62 392.41 134.95 395.6 134.38 398.16C133.91 400.29 133.49 401.85 133.11 403.93C132.67 406.3 132.31 409.37 131.92 411.5C131.69 412.79 131.49 413.46 131.24 414.21C131.09 414.66 130.85 415.15 130.73 415.11C130.61 415.07 130.56 414.43 130.52 413.97C130.48 413.36 130.44 412.81 130.47 411.91C130.53 410.54 130.53 409.03 130.8 407.16C131.16 404.67 131.79 401.62 132.38 398.85C132.98 396.05 133.63 393.14 134.39 390.45C135.09 387.94 135.87 385.45 136.77 383.25C137.56 381.32 138.65 379.62 139.44 378.08C140.05 376.91 140.56 375.97 140.97 375.1C141.23 374.55 141.26 374.26 141.43 373.84C141.6 373.39 141.79 372.89 141.97 372.49C142.11 372.18 141.98 371.86 142.4 371.7Z"/>
<path d="M142.4 370.36C143.37 369.96 145.53 370.57 146.38 369.59C147.39 368.42 147.41 365.87 147.98 363.91C148.58 361.81 149.26 359.83 149.88 357.42C150.63 354.55 151.42 350.96 152.09 348.09C152.65 345.69 153.14 343.94 153.59 341.59C154.11 338.93 154.54 335.48 155 333.07C155.28 331.62 155.51 330.87 155.8 330.03C155.98 329.52 156.26 328.97 156.4 329.02C156.55 329.07 156.61 329.8 156.65 330.33C156.71 331.03 156.75 331.66 156.71 332.7C156.64 334.28 156.65 336.02 156.33 338.17C155.89 341.04 155.15 344.54 154.45 347.75C153.73 351 152.96 354.41 152.07 357.55C151.23 360.49 150.31 363.43 149.24 365.98C148.31 368.19 147.02 370.08 146.07 371.82C145.36 373.12 144.73 374.11 144.26 375.1C143.93 375.79 143.88 376.27 143.67 376.86C143.44 377.48 143.19 378.18 142.96 378.73C142.77 379.17 142.94 379.61 142.4 379.84C141.43 380.24 139.27 379.63 138.43 380.61C137.41 381.78 137.39 384.33 136.82 386.29C136.22 388.39 135.54 390.37 134.92 392.78C134.17 395.65 133.38 399.24 132.71 402.11C132.15 404.51 131.66 406.26 131.21 408.61C130.69 411.27 130.26 414.72 129.8 417.13C129.52 418.58 129.29 419.33 129 420.17C128.82 420.68 128.54 421.23 128.4 421.18C128.25 421.13 128.19 420.4 128.15 419.87C128.09 419.17 128.05 418.54 128.09 417.5C128.16 415.92 128.15 414.18 128.47 412.03C128.91 409.16 129.65 405.66 130.35 402.45C131.07 399.2 131.84 395.79 132.73 392.65C133.57 389.71 134.49 386.77 135.56 384.22C136.49 382.01 137.78 380.12 138.73 378.38C139.44 377.08 140.07 376.09 140.54 375.1C140.87 374.41 140.92 373.93 141.13 373.34C141.36 372.72 141.61 372.02 141.84 371.47C142.03 371.03 141.86 370.59 142.4 370.36Z"/>
<path d="M142.4 370.51C143.38 370.12 145.52 370.7 146.38 369.76C147.38 368.65 147.41 366.21 147.98 364.35C148.58 362.35 149.26 360.45 149.88 358.16C150.63 355.43 151.42 352.01 152.09 349.26C152.65 346.98 153.14 345.31 153.59 343.08C154.11 340.54 154.54 337.25 155 334.96C155.28 333.57 155.51 332.85 155.8 332.06C155.98 331.57 156.26 331.04 156.4 331.09C156.55 331.14 156.61 331.84 156.65 332.34C156.71 333.01 156.75 333.62 156.71 334.61C156.64 336.12 156.65 337.78 156.33 339.83C155.89 342.57 155.15 345.93 154.45 348.98C153.73 352.06 152.96 355.26 152.07 358.21C151.23 360.98 150.3 363.72 149.24 366.14C148.3 368.26 147.02 370.13 146.07 371.83C145.36 373.11 144.73 374.12 144.26 375.1C143.93 375.78 143.88 376.23 143.67 376.81C143.44 377.41 143.19 378.09 142.96 378.63C142.77 379.05 142.93 379.48 142.4 379.69C141.42 380.08 139.28 379.5 138.43 380.44C137.42 381.55 137.39 383.99 136.82 385.85C136.22 387.85 135.54 389.75 134.92 392.04C134.17 394.77 133.38 398.19 132.71 400.94C132.15 403.22 131.66 404.89 131.21 407.12C130.69 409.66 130.26 412.95 129.8 415.24C129.52 416.63 129.29 417.35 129 418.14C128.82 418.63 128.54 419.16 128.4 419.11C128.25 419.06 128.19 418.36 128.15 417.86C128.09 417.19 128.05 416.58 128.09 415.59C128.16 414.08 128.15 412.42 128.47 410.37C128.91 407.63 129.65 404.27 130.35 401.22C131.07 398.14 131.84 394.94 132.73 391.99C133.57 389.22 134.5 386.48 135.56 384.06C136.5 381.94 137.78 380.07 138.73 378.37C139.44 377.09 140.07 376.08 140.54 375.1C140.87 374.42 140.92 373.97 141.13 373.39C141.36 372.79 141.61 372.11 141.84 371.57C142.03 371.15 141.87 370.72 142.4 370.51Z"/>
<path d="M142.4 368.72C143.57 368.19 146.11 368.76 147.17 367.68C148.36 366.47 148.45 363.86 149.15 361.85C149.89 359.69 150.72 357.66 151.49 355.18C152.41 352.24 153.38 348.55 154.21 345.6C154.9 343.14 155.5 341.34 156.06 338.94C156.69 336.2 157.22 332.65 157.79 330.19C158.13 328.7 158.42 327.92 158.77 327.06C158.99 326.53 159.34 325.97 159.51 326.02C159.69 326.08 159.76 326.86 159.82 327.42C159.89 328.17 159.94 328.84 159.89 329.95C159.81 331.63 159.82 333.49 159.43 335.78C158.92 338.83 158.03 342.56 157.19 345.97C156.33 349.44 155.42 353.08 154.35 356.41C153.34 359.55 152.25 362.68 150.97 365.39C149.86 367.75 148.32 369.76 147.19 371.6C146.34 372.99 145.58 374 145.02 375.1C144.58 375.96 144.48 376.67 144.18 377.47C143.87 378.31 143.52 379.25 143.19 380C142.93 380.59 143.08 381.17 142.4 381.48C141.23 382.01 138.69 381.44 137.63 382.52C136.44 383.73 136.35 386.34 135.65 388.35C134.91 390.51 134.08 392.54 133.31 395.02C132.39 397.96 131.42 401.65 130.59 404.6C129.9 407.06 129.3 408.86 128.74 411.26C128.11 414 127.58 417.55 127.01 420.01C126.67 421.5 126.38 422.28 126.03 423.14C125.81 423.67 125.46 424.23 125.29 424.18C125.11 424.12 125.04 423.34 124.98 422.78C124.91 422.03 124.86 421.36 124.91 420.25C124.99 418.57 124.98 416.71 125.37 414.42C125.88 411.37 126.77 407.64 127.61 404.23C128.47 400.76 129.38 397.12 130.45 393.79C131.46 390.65 132.55 387.52 133.83 384.81C134.94 382.45 136.48 380.44 137.61 378.6C138.46 377.21 139.22 376.2 139.78 375.1C140.22 374.24 140.32 373.53 140.62 372.73C140.93 371.89 141.28 370.95 141.61 370.2C141.87 369.61 141.72 369.03 142.4 368.72Z"/>
<path d="M142.4 368.91C143.57 368.39 146.1 368.94 147.17 367.9C148.35 366.76 148.45 364.26 149.15 362.35C149.89 360.3 150.72 358.36 151.49 356C152.41 353.2 153.38 349.69 154.21 346.88C154.9 344.53 155.5 342.82 156.06 340.53C156.69 337.93 157.22 334.54 157.79 332.2C158.13 330.77 158.42 330.04 158.77 329.22C159 328.71 159.34 328.18 159.51 328.23C159.69 328.29 159.76 329.03 159.82 329.57C159.89 330.28 159.94 330.93 159.89 331.98C159.81 333.59 159.82 335.36 159.43 337.54C158.91 340.46 158.03 344.04 157.19 347.28C156.34 350.56 155.42 353.98 154.35 357.11C153.34 360.07 152.24 362.99 150.97 365.55C149.85 367.83 148.31 369.8 147.19 371.61C146.33 372.98 145.59 374.01 145.02 375.1C144.59 375.94 144.48 376.63 144.18 377.4C143.87 378.21 143.52 379.13 143.19 379.85C142.92 380.42 143.08 380.99 142.4 381.29C141.23 381.81 138.7 381.26 137.63 382.3C136.45 383.44 136.35 385.94 135.65 387.85C134.91 389.9 134.08 391.84 133.31 394.2C132.39 397 131.42 400.51 130.59 403.32C129.9 405.67 129.3 407.38 128.74 409.67C128.11 412.27 127.58 415.66 127.01 418C126.67 419.43 126.38 420.16 126.03 420.98C125.8 421.49 125.46 422.02 125.29 421.97C125.11 421.91 125.04 421.17 124.98 420.63C124.91 419.92 124.86 419.27 124.91 418.22C124.99 416.61 124.98 414.84 125.37 412.66C125.89 409.74 126.77 406.16 127.61 402.92C128.46 399.64 129.38 396.22 130.45 393.09C131.46 390.13 132.56 387.21 133.83 384.65C134.95 382.37 136.49 380.4 137.61 378.59C138.47 377.22 139.21 376.19 139.78 375.1C140.21 374.26 140.32 373.57 140.62 372.8C140.93 371.99 141.28 371.07 141.61 370.35C141.88 369.78 141.72 369.21 142.4 368.91Z"/>
<path d="M142.4 357.15C145.89 354.12 152.48 350.35 155.92 347.33C157.7 345.76 157.37 344.8 158.04 343.37C158.79 341.77 159.5 340.18 160.16 338.22C160.97 335.82 161.7 332.93 162.47 330.29C163.23 327.65 163.98 324.83 164.77 322.37C165.46 320.21 166.14 318.26 166.89 316.43C167.55 314.82 168.23 313.37 169.02 312.07C169.71 310.92 170.49 309.88 171.32 309.1C172.02 308.43 173.1 307.58 173.62 307.71C174.1 307.83 174.19 308.99 174.32 309.87C174.49 311.01 174.6 312.15 174.52 313.77C174.4 316.09 174.39 318.59 173.72 321.69C172.83 325.85 171.29 330.91 169.85 335.53C168.37 340.26 166.78 345.2 164.94 349.71C163.2 353.99 161.29 358.27 159.1 361.91C157.16 365.15 154.52 367.84 152.56 370.35C151.09 372.24 149.75 373.26 148.82 375.1C147.82 377.07 147.5 379.53 146.77 381.78C146.01 384.12 145.14 386.77 144.33 388.88C143.69 390.53 144.17 391.45 142.4 393.06C139.02 396.11 132.33 399.86 128.88 402.87C127.1 404.43 127.39 405.36 126.7 406.78C125.94 408.36 125.21 409.93 124.52 411.87C123.69 414.24 122.95 417.09 122.16 419.7C121.38 422.31 120.61 425.09 119.8 427.53C119.09 429.66 118.4 431.59 117.62 433.4C116.94 434.99 116.24 436.43 115.44 437.71C114.73 438.84 113.93 439.87 113.08 440.64C112.36 441.3 111.25 442.15 110.72 442.01C110.23 441.89 110.14 440.74 110.01 439.87C109.83 438.73 109.73 437.6 109.81 435.99C109.91 433.69 109.92 431.21 110.54 428.13C111.37 424.01 112.79 418.98 114.13 414.38C115.5 409.7 116.97 404.79 118.67 400.31C120.29 396.06 122.05 391.82 124.08 388.19C125.87 384.99 128.33 382.31 130.14 379.81C131.5 377.94 132.61 376.9 133.6 375.1C134.7 373.1 135.41 370.67 136.42 368.42C137.46 366.08 138.65 363.42 139.76 361.32C140.64 359.66 140.5 358.79 142.4 357.15Z"/>
<path d="M142.4 357.15C145.89 354.12 152.45 350.32 155.92 347.33C157.66 345.83 157.37 345 158.04 343.67C158.78 342.2 159.5 340.73 160.16 338.91C160.97 336.71 161.7 334.04 162.47 331.6C163.23 329.16 163.98 326.55 164.77 324.28C165.46 322.29 166.14 320.48 166.89 318.79C167.55 317.31 168.23 315.96 169.02 314.77C169.71 313.71 170.49 312.74 171.32 312.02C172.03 311.4 173.09 310.61 173.62 310.74C174.1 310.87 174.19 311.97 174.32 312.8C174.49 313.9 174.6 314.98 174.52 316.53C174.4 318.75 174.39 321.14 173.72 324.09C172.83 328.07 171.3 332.92 169.85 337.32C168.37 341.78 166.78 346.43 164.94 350.67C163.2 354.7 161.27 358.69 159.1 362.13C157.14 365.25 154.51 367.9 152.56 370.36C151.08 372.23 149.75 373.27 148.82 375.1C147.82 377.07 147.5 379.53 146.77 381.78C146.01 384.12 145.14 386.77 144.33 388.88C143.69 390.53 144.17 391.45 142.4 393.06C139.02 396.11 132.37 399.89 128.88 402.87C127.13 404.37 127.39 405.17 126.7 406.48C125.94 407.94 125.21 409.38 124.52 411.18C123.7 413.36 122.95 416 122.16 418.41C121.38 420.82 120.61 423.39 119.8 425.63C119.09 427.6 118.39 429.39 117.62 431.05C116.94 432.52 116.24 433.85 115.44 435.03C114.73 436.08 113.92 437.03 113.08 437.74C112.35 438.35 111.26 439.14 110.72 439C110.23 438.88 110.14 437.79 110.01 436.96C109.83 435.87 109.73 434.79 109.81 433.25C109.91 431.05 109.93 428.68 110.54 425.75C111.37 421.8 112.79 416.98 114.13 412.62C115.5 408.19 116.97 403.57 118.67 399.36C120.29 395.36 122.07 391.41 124.08 387.97C125.89 384.89 128.33 382.24 130.14 379.8C131.51 377.95 132.61 376.89 133.6 375.1C134.7 373.1 135.41 370.67 136.42 368.42C137.46 366.08 138.65 363.42 139.76 361.32C140.64 359.66 140.5 358.79 142.4 357.15Z"/>
<path d="M142.4 357.15C146.15 354.25 152.45 350.32 155.92 347.33C157.66 345.82 157.36 344.98 158.03 343.64C158.77 342.16 159.48 340.68 160.15 338.85C160.95 336.63 161.68 333.93 162.44 331.48C163.21 329.02 163.95 326.4 164.73 324.1C165.42 322.09 166.1 320.27 166.85 318.57C167.51 317.08 167.9 315.65 168.97 314.52C170.14 313.27 172.05 313.08 173.55 311.43C175.64 309.14 177.51 305.25 179.74 302.7C181.77 300.37 184.18 298.28 186.34 296.78C188.02 295.6 189.78 295.11 191.29 294.64C192.39 294.29 193.49 293.93 194.17 294.3C194.84 294.68 195.12 295.83 195.33 296.89C195.61 298.25 195.79 299.63 195.67 301.57C195.49 304.35 195.46 307.37 194.43 311.06C193.04 316.07 190.65 322.14 188.4 327.66C186.1 333.34 183.61 339.29 180.78 344.66C178.05 349.83 175.05 354.98 171.7 359.29C168.63 363.22 164.57 366.4 161.53 369.41C159.24 371.67 157.41 373.02 155.72 375.1C154.05 377.15 152.97 379.54 151.46 381.78C149.86 384.13 148.06 386.81 146.39 388.88C145.04 390.57 144.56 391.33 142.4 393.06C138.72 395.99 132.32 399.87 128.88 402.87C127.18 404.36 127.62 405.19 127 406.51C126.3 408 125.57 409.47 124.92 411.3C124.12 413.52 123.41 416.2 122.66 418.66C121.9 421.11 121.17 423.73 120.4 426.02C119.72 428.03 119.05 429.84 118.31 431.54C117.66 433.04 117.28 434.46 116.23 435.59C115.08 436.84 113.19 437.03 111.71 438.67C109.65 440.97 107.82 444.84 105.62 447.4C103.62 449.72 101.25 451.8 99.12 453.31C97.46 454.48 95.73 454.97 94.24 455.44C93.15 455.79 92.07 456.15 91.4 455.78C90.74 455.4 90.47 454.25 90.26 453.2C89.98 451.83 89.82 450.46 89.93 448.52C90.09 445.74 90.12 442.73 91.08 439.04C92.38 434.05 94.61 427.99 96.7 422.47C98.85 416.8 101.16 410.87 103.82 405.49C106.36 400.34 109.14 395.21 112.28 390.89C115.13 386.97 118.93 383.79 121.76 380.78C123.9 378.52 125.49 377.13 127.18 375.1C128.92 373.01 130.32 370.66 132.05 368.42C133.87 366.06 135.94 363.38 137.84 361.32C139.39 359.63 140.12 358.91 142.4 357.15Z"/>
<path d="M142.4 355.95C149.22 351.52 161.15 345.48 167.84 340.99C170.65 339.1 169.93 338.32 170.91 336.79C171.98 335.1 173.01 333.43 173.97 331.33C175.14 328.81 176.19 325.73 177.3 322.93C178.4 320.13 179.49 317.13 180.62 314.53C181.62 312.23 182.6 310.15 183.69 308.23C184.65 306.51 185.64 304.97 186.75 303.61C187.77 302.38 188.9 301.27 190.07 300.46C191.12 299.73 192.6 298.82 193.4 298.99C194.09 299.14 194.33 300.42 194.54 301.42C194.82 302.71 194.99 304.01 194.87 305.84C194.69 308.46 194.66 311.31 193.65 314.78C192.27 319.5 189.93 325.24 187.71 330.42C185.45 335.7 182.99 341.18 180.2 346.14C177.51 350.92 174.53 355.61 171.26 359.63C168.21 363.37 164.22 366.49 161.24 369.43C158.98 371.65 157.16 372.98 155.52 375.1C153.85 377.25 152.81 379.83 151.32 382.23C149.75 384.73 147.98 387.58 146.33 389.8C145 391.59 145.43 392.25 142.4 394.25C135.64 398.72 123.64 404.71 116.96 409.21C114.17 411.09 114.93 411.87 113.98 413.4C112.95 415.08 111.95 416.76 111.01 418.85C109.88 421.36 108.86 424.43 107.79 427.22C106.71 430.02 105.66 433 104.56 435.6C103.59 437.89 102.64 439.96 101.59 441.88C100.65 443.59 99.7 445.14 98.61 446.49C97.63 447.72 96.53 448.82 95.39 449.63C94.38 450.35 92.94 451.27 92.16 451.1C91.49 450.95 91.25 449.66 91.04 448.67C90.77 447.38 90.61 446.09 90.72 444.26C90.88 441.65 90.91 438.81 91.85 435.33C93.13 430.63 95.32 424.89 97.39 419.72C99.5 414.45 101.78 408.98 104.39 404.02C106.9 399.25 109.67 394.57 112.73 390.55C115.56 386.82 119.29 383.69 122.07 380.77C124.19 378.54 125.76 377.18 127.41 375.1C129.14 372.92 130.5 370.36 132.21 367.97C134 365.46 136.03 362.61 137.9 360.4C139.43 358.6 139.24 358 142.4 355.95Z"/>
<path d="M142.4 355.95C149.22 351.52 161.13 345.47 167.84 340.99C170.63 339.12 169.93 338.4 170.91 336.92C171.98 335.28 173.01 333.66 173.97 331.62C175.13 329.18 176.19 326.2 177.3 323.48C178.4 320.77 179.49 317.87 180.62 315.34C181.62 313.12 182.6 311.1 183.69 309.24C184.65 307.57 185.64 306.07 186.75 304.76C187.77 303.56 188.91 302.49 190.07 301.71C191.12 301 192.6 300.11 193.4 300.28C194.08 300.43 194.33 301.69 194.54 302.68C194.82 303.94 194.99 305.21 194.87 307.02C194.69 309.59 194.66 312.39 193.65 315.8C192.27 320.45 189.93 326.1 187.71 331.17C185.45 336.35 182.99 341.7 180.2 346.55C177.51 351.22 174.52 355.79 171.26 359.73C168.2 363.41 164.22 366.52 161.24 369.43C158.97 371.64 157.16 372.98 155.52 375.1C153.85 377.25 152.81 379.83 151.32 382.23C149.75 384.73 147.98 387.58 146.33 389.8C145 391.59 145.43 392.25 142.4 394.25C135.64 398.72 123.66 404.73 116.96 409.21C114.19 411.07 114.93 411.79 113.98 413.27C112.95 414.9 111.95 416.52 111.01 418.55C109.88 420.99 108.86 423.96 107.79 426.67C106.71 429.38 105.66 432.27 104.56 434.79C103.59 437.01 102.64 439.02 101.59 440.88C100.65 442.53 99.69 444.03 98.61 445.34C97.63 446.53 96.52 447.6 95.39 448.39C94.37 449.09 92.94 449.98 92.16 449.81C91.49 449.66 91.25 448.4 91.04 447.42C90.77 446.16 90.61 444.88 90.72 443.08C90.88 440.52 90.91 437.72 91.85 434.31C93.13 429.68 95.32 424.03 97.39 418.96C99.5 413.8 101.79 408.46 104.39 403.61C106.9 398.95 109.68 394.4 112.73 390.45C115.57 386.78 119.3 383.67 122.07 380.76C124.19 378.55 125.76 377.18 127.41 375.1C129.14 372.92 130.5 370.36 132.21 367.97C134 365.46 136.03 362.61 137.9 360.4C139.43 358.6 139.24 358 142.4 355.95Z"/>
<path d="M142.4 355.95C149.22 351.52 161.11 345.45 167.84 340.99C170.61 339.15 169.93 338.48 170.91 337.04C171.97 335.45 173 333.88 173.97 331.9C175.13 329.54 176.19 326.64 177.3 324C178.4 321.37 179.49 318.55 180.62 316.11C181.62 313.95 182.61 311.99 183.69 310.18C184.65 308.57 185.64 307.11 186.75 305.84C187.77 304.67 188.91 303.64 190.07 302.88C191.12 302.19 192.59 301.32 193.4 301.49C194.08 301.64 194.33 302.88 194.54 303.85C194.82 305.09 194.99 306.35 194.87 308.12C194.69 310.65 194.66 313.41 193.65 316.76C192.27 321.33 189.93 326.9 187.71 331.89C185.45 336.96 182.99 342.19 180.2 346.93C177.5 351.5 174.51 355.95 171.26 359.82C168.19 363.45 164.22 366.54 161.24 369.44C158.97 371.64 157.16 372.98 155.52 375.1C153.85 377.25 152.81 379.83 151.32 382.23C149.75 384.73 147.98 387.58 146.33 389.8C145 391.59 145.43 392.25 142.4 394.25C135.64 398.72 123.68 404.74 116.96 409.21C114.21 411.04 114.93 411.71 113.98 413.15C112.95 414.73 111.95 416.3 111.01 418.27C109.88 420.63 108.86 423.52 107.79 426.15C106.71 428.77 105.66 431.58 104.56 434.03C103.59 436.18 102.64 438.13 101.59 439.93C100.65 441.54 99.69 443 98.61 444.27C97.63 445.42 96.52 446.46 95.39 447.22C94.37 447.9 92.94 448.77 92.16 448.6C91.49 448.45 91.25 447.21 91.04 446.25C90.77 445.01 90.61 443.75 90.72 441.98C90.88 439.46 90.91 436.71 91.85 433.35C93.13 428.79 95.31 423.23 97.39 418.25C99.5 413.19 101.79 407.97 104.39 403.23C106.9 398.67 109.69 394.23 112.73 390.36C115.58 386.74 119.3 383.64 122.07 380.76C124.19 378.56 125.76 377.18 127.41 375.1C129.14 372.92 130.5 370.36 132.21 367.97C134 365.46 136.03 362.61 137.9 360.4C139.43 358.6 139.24 358 142.4 355.95Z"/>
<path d="M142.4 355.95C149.22 351.52 161.09 345.44 167.84 340.99C170.59 339.17 169.93 338.56 170.91 337.16C171.97 335.63 173 334.1 173.97 332.18C175.13 329.89 176.19 327.08 177.3 324.53C178.4 321.97 179.49 319.24 180.62 316.87C181.62 314.77 182.61 312.88 183.69 311.13C184.65 309.56 185.64 308.15 186.75 306.92C187.77 305.79 188.91 304.78 190.07 304.05C191.13 303.38 192.59 302.53 193.4 302.71C194.08 302.85 194.33 304.07 194.54 305.02C194.82 306.24 194.99 307.48 194.87 309.22C194.69 311.71 194.66 314.43 193.65 317.72C192.27 322.22 189.94 327.7 187.71 332.6C185.45 337.57 182.99 342.69 180.2 347.31C177.5 351.79 174.5 356.12 171.26 359.9C168.18 363.49 164.22 366.57 161.24 369.44C158.97 371.63 157.16 372.98 155.52 375.1C153.85 377.25 152.81 379.83 151.32 382.23C149.75 384.73 147.98 387.58 146.33 389.8C145 391.59 145.43 392.25 142.4 394.25C135.64 398.72 123.7 404.76 116.96 409.21C114.23 411.02 114.93 411.63 113.98 413.03C112.95 414.56 111.95 416.08 111.01 417.99C109.88 420.28 108.86 423.08 107.79 425.63C106.71 428.17 105.66 430.9 104.56 433.26C103.59 435.35 102.63 437.24 101.59 438.99C100.65 440.55 99.69 441.96 98.61 443.19C97.62 444.31 96.52 445.31 95.39 446.05C94.37 446.71 92.94 447.56 92.16 447.39C91.49 447.24 91.25 446.03 91.04 445.07C90.77 443.86 90.61 442.62 90.72 440.88C90.88 438.4 90.91 435.69 91.85 432.39C93.13 427.91 95.31 422.43 97.39 417.54C99.49 412.58 101.79 407.48 104.39 402.85C106.9 398.39 109.7 394.07 112.73 390.27C115.59 386.7 119.3 383.62 122.07 380.75C124.19 378.56 125.77 377.18 127.41 375.1C129.14 372.92 130.5 370.36 132.21 367.97C134 365.46 136.03 362.61 137.9 360.4C139.43 358.6 139.24 358 142.4 355.95Z"/>
<path d="M142.4 355.95C149.61 351.83 161.12 345.47 167.84 340.99C170.65 339.11 169.99 338.38 170.99 336.88C172.08 335.23 173.14 333.6 174.13 331.54C175.33 329.08 176.41 326.07 177.54 323.33C178.68 320.59 179.79 317.66 180.95 315.12C181.98 312.87 182.99 310.84 184.1 308.96C185.09 307.28 185.72 305.66 187.25 304.44C189.04 303.02 191.84 302.59 194.07 301.06C196.59 299.31 198.89 296.46 201.5 294.62C204.01 292.86 206.9 291.34 209.43 290.26C211.52 289.37 213.59 289.03 215.38 288.68C216.72 288.42 217.98 288.03 218.85 288.44C219.65 288.82 220.1 289.97 220.38 291.06C220.74 292.42 220.98 293.79 220.79 295.8C220.51 298.78 220.46 302.11 218.97 306.04C216.9 311.48 213.39 318.01 210.1 323.94C206.69 330.09 203.01 336.53 198.87 342.27C194.82 347.9 190.36 353.48 185.51 358.05C180.92 362.37 175.02 365.72 170.55 368.96C167.18 371.4 164.53 372.83 162 375.1C159.59 377.25 157.95 379.85 155.73 382.23C153.38 384.74 150.7 387.61 148.28 389.8C146.26 391.62 145.88 392.09 142.4 394.25C135.44 398.57 123.69 404.74 116.96 409.21C114.08 411.13 114.63 411.89 113.58 413.43C112.45 415.08 111.41 416.72 110.41 418.78C109.21 421.25 108.12 424.27 106.97 427.01C105.83 429.76 104.7 432.69 103.53 435.25C102.5 437.5 101.48 439.54 100.36 441.42C99.36 443.1 98.73 444.74 97.19 445.95C95.38 447.38 92.56 447.81 90.31 449.35C87.77 451.09 85.45 453.96 82.82 455.8C80.29 457.57 77.38 459.09 74.83 460.18C72.72 461.07 70.64 461.41 68.83 461.75C67.47 462.02 66.2 462.41 65.33 462C64.52 461.62 64.07 460.47 63.78 459.37C63.42 458.01 63.22 456.64 63.38 454.62C63.61 451.63 63.65 448.32 64.94 444.36C66.71 438.92 69.74 432.36 72.57 426.4C75.5 420.25 78.65 413.8 82.23 408.02C85.7 402.4 89.51 396.82 93.72 392.2C97.63 387.9 102.75 384.51 106.6 381.26C109.49 378.81 111.34 377.21 113.95 375.1C116.82 372.78 119.85 370.34 123.06 367.97C126.48 365.44 130.39 362.56 133.87 360.4C136.84 358.56 138.28 358.3 142.4 355.95Z"/>
<path d="M142.4 355.23C152.54 349.63 169 340.8 178.97 335C182.76 332.8 182.15 332.62 183.66 331.21C185.28 329.71 186.85 328.22 188.36 326.28C190.11 324.05 191.75 321.23 193.44 318.7C195.14 316.18 196.81 313.45 198.53 311.13C200.07 309.03 201.59 307.15 203.22 305.44C204.72 303.86 206.25 302.46 207.91 301.27C209.51 300.13 211.26 299.14 213 298.43C214.65 297.75 216.81 296.9 218.08 297.1C219.01 297.25 219.32 298.47 219.6 299.46C219.96 300.68 220.19 301.92 220 303.73C219.72 306.41 219.67 309.42 218.2 312.94C216.15 317.86 212.69 323.79 209.42 329.06C206.06 334.48 202.39 340.06 198.31 345.02C194.28 349.93 189.82 354.64 185.08 358.69C180.47 362.63 174.67 365.89 170.27 368.99C166.91 371.36 164.29 372.81 161.8 375.1C159.4 377.31 157.79 380.02 155.59 382.49C153.27 385.1 150.62 388.08 148.22 390.35C146.23 392.24 146.59 392.51 142.4 394.97C132.46 400.8 115.8 409.4 105.83 415.2C102.02 417.42 102.6 417.59 101.06 419.01C99.43 420.52 97.83 422.02 96.3 423.97C94.52 426.21 92.85 429.05 91.13 431.59C89.41 434.13 87.71 436.87 85.97 439.21C84.4 441.32 82.85 443.21 81.2 444.93C79.67 446.51 78.12 447.92 76.43 449.12C74.81 450.27 73.03 451.26 71.27 451.98C69.59 452.66 67.4 453.51 66.1 453.31C65.16 453.17 64.86 451.94 64.57 450.95C64.21 449.72 64.01 448.48 64.17 446.66C64.39 443.98 64.44 440.99 65.71 437.43C67.47 432.52 70.45 426.57 73.27 421.27C76.15 415.85 79.3 410.27 82.83 405.26C86.28 400.37 90.11 395.65 94.21 391.56C98.15 387.63 103.16 384.34 106.95 381.22C109.84 378.85 111.66 377.24 114.24 375.1C117.09 372.73 120.07 370.17 123.25 367.71C126.64 365.08 130.5 362.1 133.95 359.85C136.89 357.94 137.53 357.92 142.4 355.23Z"/>
<path d="M142.4 355.23C152.54 349.63 168.98 340.78 178.97 335C182.72 332.83 182.11 332.74 183.62 331.4C185.21 329.98 186.77 328.56 188.27 326.72C189.99 324.6 191.62 321.92 193.3 319.52C194.98 317.13 196.64 314.54 198.34 312.33C199.86 310.34 201.37 308.55 202.98 306.93C204.47 305.43 205.99 304.1 207.63 302.97C209.22 301.88 210.95 300.95 212.67 300.27C214.3 299.63 216.44 298.81 217.7 299.01C218.62 299.16 218.93 300.35 219.21 301.31C219.57 302.5 219.8 303.71 219.61 305.48C219.33 308.09 219.28 311.03 217.82 314.46C215.77 319.27 212.34 325.06 209.08 330.18C205.74 335.45 202.08 340.83 198.03 345.63C194.01 350.38 189.56 354.89 184.87 358.83C180.26 362.68 174.51 365.92 170.13 369C166.79 371.35 164.18 372.81 161.7 375.1C159.32 377.31 157.72 380.02 155.53 382.49C153.21 385.1 150.58 388.08 148.19 390.35C146.21 392.24 146.58 392.52 142.4 394.97C132.46 400.8 115.82 409.43 105.83 415.2C102.06 417.38 102.64 417.47 101.11 418.82C99.49 420.25 97.91 421.68 96.39 423.53C94.63 425.66 92.98 428.35 91.27 430.77C89.57 433.18 87.88 435.78 86.16 438.01C84.61 440.01 83.07 441.81 81.44 443.44C79.92 444.94 78.38 446.28 76.72 447.42C75.1 448.52 73.35 449.45 71.6 450.13C69.94 450.78 67.77 451.6 66.49 451.4C65.56 451.25 65.25 450.06 64.96 449.09C64.61 447.9 64.41 446.69 64.56 444.91C64.79 442.29 64.83 439.37 66.1 435.91C67.85 431.11 70.81 425.3 73.62 420.14C76.49 414.88 79.62 409.49 83.13 404.65C86.57 399.92 90.38 395.39 94.45 391.42C98.38 387.58 103.37 384.3 107.13 381.21C110.01 378.86 111.81 377.24 114.38 375.1C117.22 372.73 120.18 370.17 123.35 367.71C126.72 365.08 130.56 362.1 133.99 359.85C136.91 357.94 137.54 357.91 142.4 355.23Z"/>
<path d="M142.4 355.23C152.53 349.63 168.95 340.75 178.97 335C182.67 332.88 182.08 332.89 183.57 331.63C185.15 330.3 186.69 328.97 188.17 327.24C189.88 325.26 191.5 322.74 193.16 320.49C194.82 318.24 196.46 315.81 198.14 313.75C199.66 311.88 201.16 310.2 202.75 308.69C204.22 307.28 205.73 306.03 207.35 304.97C208.92 303.95 210.63 303.08 212.33 302.44C213.96 301.84 216.06 301.06 217.32 301.26C218.23 301.41 218.54 302.56 218.82 303.5C219.17 304.65 219.41 305.82 219.22 307.54C218.94 310.08 218.89 312.93 217.44 316.26C215.4 320.93 211.98 326.56 208.74 331.51C205.42 336.59 201.77 341.75 197.74 346.34C193.74 350.91 189.31 355.19 184.65 358.99C180.05 362.75 174.34 365.97 169.99 369.01C166.66 371.34 164.07 372.81 161.6 375.1C159.23 377.31 157.64 380.02 155.46 382.49C153.16 385.1 150.54 388.08 148.16 390.35C146.19 392.24 146.58 392.52 142.4 394.97C132.47 400.8 115.85 409.46 105.83 415.2C102.1 417.33 102.67 417.33 101.16 418.59C99.56 419.93 97.99 421.27 96.48 423.01C94.75 425 93.1 427.53 91.42 429.79C89.73 432.06 88.06 434.5 86.35 436.58C84.81 438.46 83.29 440.15 81.68 441.67C80.18 443.09 78.65 444.35 77 445.41C75.4 446.44 73.66 447.32 71.94 447.95C70.29 448.56 68.15 449.34 66.87 449.14C65.95 448.99 65.64 447.84 65.36 446.9C65 445.75 64.8 444.57 64.96 442.85C65.18 440.3 65.23 437.47 66.49 434.11C68.23 429.45 71.17 423.79 73.97 418.81C76.82 413.74 79.94 408.57 83.43 403.94C86.85 399.39 90.66 395.09 94.7 391.25C98.63 387.51 103.57 384.26 107.31 381.21C110.18 378.87 111.97 377.24 114.52 375.1C117.35 372.74 120.29 370.17 123.44 367.71C126.8 365.08 130.62 362.1 134.04 359.85C136.94 357.94 137.55 357.91 142.4 355.23Z"/>
<path d="M142.4 354.63C153.3 349.32 170.05 340.05 180.56 334.4C185.09 331.97 185.21 331.77 187.52 330.39C189.85 328.98 192.14 327.63 194.47 326.03C196.97 324.31 199.52 322.37 202.01 320.43C204.54 318.46 207.06 316.23 209.54 314.27C211.89 312.43 214.17 310.74 216.5 309.03C218.81 307.34 221.16 305.8 223.46 304.08C225.8 302.32 228.22 300.04 230.41 298.58C232.08 297.47 233.58 296.91 235.05 296.35C236.28 295.88 237.33 295.02 238.53 295.5C240.15 296.14 242.4 297.83 243.49 299.72C244.7 301.81 245.42 304.78 245.43 307.44C245.45 310.26 245.09 312.85 243.58 316.17C241.47 320.85 237.9 326.41 234.57 331.45C231.09 336.71 227.34 342.22 223.16 347.09C219.01 351.93 214.46 356.69 209.58 360.55C204.86 364.28 198.91 367.1 194.37 369.86C190.94 371.95 189.02 373.19 185.67 375.1C181.5 377.48 176.69 380.2 171.83 382.72C166.59 385.43 160.63 388.52 155.38 390.81C150.82 392.8 148.56 392.56 142.4 395.57C131.51 400.89 114.73 410.13 104.24 415.8C99.74 418.23 99.68 418.45 97.43 419.85C95.14 421.27 92.9 422.63 90.61 424.25C88.17 425.98 85.67 427.94 83.23 429.9C80.75 431.89 78.28 434.14 75.85 436.11C73.55 437.98 71.32 439.68 69.04 441.4C66.78 443.11 64.47 444.66 62.22 446.4C59.93 448.18 57.56 450.47 55.41 451.95C53.77 453.07 52.31 453.63 50.86 454.2C49.66 454.67 48.63 455.54 47.46 455.06C45.86 454.41 43.63 452.72 42.55 450.82C41.36 448.72 40.66 445.74 40.64 443.07C40.62 440.23 40.97 437.64 42.43 434.3C44.49 429.6 47.95 424.02 51.19 418.95C54.56 413.66 58.2 408.13 62.26 403.24C66.28 398.39 70.69 393.6 75.44 389.72C80.01 385.98 85.8 383.14 90.21 380.36C93.53 378.27 95.34 376.99 98.64 375.1C102.82 372.7 107.73 370 112.65 367.48C117.94 364.77 123.97 361.68 129.27 359.39C133.88 357.4 136.2 357.65 142.4 354.63Z"/>
<path d="M142.4 354.63C153.31 349.33 169.98 339.91 180.56 334.4C185.07 332.05 185.3 332.21 187.65 331.04C190.03 329.87 192.36 328.74 194.75 327.4C197.29 325.97 199.89 324.35 202.44 322.72C205.02 321.07 207.59 319.2 210.12 317.57C212.52 316.02 214.84 314.61 217.22 313.18C219.57 311.77 221.96 310.49 224.31 309.04C226.69 307.57 229.19 305.66 231.41 304.45C233.13 303.51 234.64 303.05 236.14 302.58C237.4 302.19 238.45 301.41 239.68 301.87C241.31 302.47 243.59 303.99 244.71 305.75C245.92 307.65 246.65 310.4 246.67 312.85C246.68 315.45 246.31 317.85 244.8 320.88C242.65 325.21 239.05 330.35 235.67 334.94C232.16 339.72 228.34 344.63 224.13 348.97C219.91 353.31 215.27 357.48 210.38 360.99C205.56 364.45 199.57 367.21 194.99 369.88C191.51 371.91 189.57 373.2 186.19 375.1C181.97 377.48 177.1 380.2 172.18 382.72C166.88 385.43 160.85 388.52 155.54 390.81C150.92 392.8 148.6 392.55 142.4 395.57C131.5 400.88 114.81 410.27 104.24 415.8C99.77 418.14 99.6 418.02 97.29 419.19C94.96 420.38 92.68 421.51 90.34 422.87C87.85 424.32 85.3 425.96 82.81 427.6C80.28 429.27 77.76 431.16 75.28 432.8C72.93 434.37 70.65 435.79 68.33 437.23C66.02 438.66 63.68 439.96 61.38 441.42C59.04 442.9 56.6 444.83 54.43 446.06C52.74 447.01 51.26 447.47 49.79 447.94C48.56 448.34 47.52 449.12 46.32 448.66C44.71 448.06 42.46 446.53 41.35 444.76C40.16 442.85 39.44 440.09 39.42 437.63C39.4 435.02 39.76 432.62 41.23 429.56C43.32 425.22 46.81 420.05 50.09 415.44C53.5 410.65 57.21 405.71 61.3 401.35C65.39 396.99 69.89 392.81 74.64 389.28C79.31 385.8 85.13 383.03 89.58 380.34C92.96 378.3 94.78 376.99 98.12 375.1C102.35 372.7 107.31 370 112.29 367.48C117.65 364.77 123.75 361.68 129.12 359.39C133.78 357.4 136.16 357.66 142.4 354.63Z"/>
<path d="M142.4 354.63C153.32 349.34 169.95 339.85 180.56 334.4C185.08 332.08 185.37 332.4 187.77 331.34C190.18 330.27 192.55 329.24 194.98 328.01C197.56 326.71 200.2 325.23 202.79 323.75C205.41 322.25 208.04 320.54 210.6 319.05C213.04 317.64 215.4 316.35 217.81 315.05C220.21 313.76 222.63 312.6 225.02 311.28C227.44 309.94 229.98 308.19 232.23 307.08C233.99 306.22 235.52 305.81 237.04 305.38C238.32 305.02 239.39 304.29 240.64 304.73C242.29 305.32 244.58 306.76 245.72 308.46C246.93 310.27 247.68 312.93 247.7 315.29C247.71 317.78 247.33 320.1 245.81 323.01C243.63 327.17 240.01 332.13 236.59 336.51C233.05 341.07 229.18 345.71 224.94 349.81C220.66 353.94 215.97 357.83 211.05 361.18C206.16 364.52 200.14 367.26 195.51 369.9C191.99 371.9 190.04 373.2 186.63 375.1C182.36 377.47 177.44 380.2 172.47 382.72C167.12 385.43 161.03 388.52 155.67 390.81C151.01 392.8 148.63 392.54 142.4 395.57C131.49 400.87 114.84 410.33 104.24 415.8C99.76 418.11 99.52 417.82 97.18 418.89C94.81 419.97 92.49 421.01 90.11 422.25C87.59 423.57 84.99 425.07 82.46 426.57C79.89 428.09 77.32 429.81 74.8 431.31C72.41 432.74 70.1 434.04 67.74 435.35C65.39 436.66 63.02 437.84 60.68 439.17C58.31 440.52 55.82 442.29 53.61 443.41C51.89 444.28 50.39 444.7 48.9 445.13C47.64 445.49 46.6 446.23 45.37 445.78C43.75 445.2 41.48 443.75 40.36 442.04C39.16 440.21 38.42 437.55 38.4 435.18C38.38 432.68 38.75 430.36 40.23 427.43C42.35 423.25 45.87 418.27 49.18 413.86C52.62 409.29 56.37 404.62 60.5 400.5C64.64 396.36 69.19 392.45 73.97 389.08C78.71 385.73 84.57 382.98 89.06 380.33C92.47 378.32 94.31 376.99 97.68 375.1C101.95 372.71 106.97 370 111.99 367.48C117.4 364.77 123.56 361.68 128.98 359.39C133.7 357.4 136.13 357.67 142.4 354.63Z"/>
</g>
<g stroke="#000" stroke-width="1.1" fill="none">
<path d="M346 377.2H624.5"/>
<path d="M487.3 482.3V276.3"/>
<path d="M366.4 377.2v-4.3"/>
<path d="M406.7 377.2v-4.3"/>
<path d="M447 377.2v-4.3"/>
<path d="M527.6 377.2v-4.3"/>
<path d="M567.9 377.2v-4.3"/>
<path d="M608.2 377.2v-4.3"/>
<path d="M487.3 281.68h4.3"/>
<path d="M487.3 300.78h4.3"/>
<path d="M487.3 319.89h4.3"/>
<path d="M487.3 338.99h4.3"/>
<path d="M487.3 358.1h4.3"/>
<path d="M487.3 396.3h4.3"/>
<path d="M487.3 415.41h4.3"/>
<path d="M487.3 434.51h4.3"/>
<path d="M487.3 453.62h4.3"/>
<path d="M487.3 472.72h4.3"/>
</g>
<path d="M628.5 377.2l-10 -2.8v5.6z" fill="#000"/>
<path d="M487.3 272.3l-2.8 10h5.6z" fill="#000"/>
<g font-family='"Liberation Serif", "Times New Roman", serif' font-size="10.2" fill="#000">
<text x="366.6" y="390" text-anchor="middle" letter-spacing="0.4">-150</text>
<text x="406.9" y="390" text-anchor="middle" letter-spacing="0.4">-100</text>
<text x="447.2" y="390" text-anchor="middle" letter-spacing="0.4">-50</text>
<text x="527.8" y="390" text-anchor="middle" letter-spacing="0.4">50</text>
<text x="568.1" y="390" text-anchor="middle" letter-spacing="0.4">100</text>
<text x="608.4" y="390" text-anchor="middle" letter-spacing="0.4">150</text>
<text x="482.4" y="284.98" text-anchor="end" letter-spacing="0.4">800</text>
<text x="482.4" y="304.08" text-anchor="end" letter-spacing="0.4">640</text>
<text x="482.4" y="323.19" text-anchor="end" letter-spacing="0.4">480</text>
<text x="482.4" y="342.29" text-anchor="end" letter-spacing="0.4">320</text>
<text x="482.4" y="361.4" text-anchor="end" letter-spacing="0.4">160</text>
<text x="482.4" y="399.6" text-anchor="end" letter-spacing="0.4">-160</text>
<text x="482.4" y="418.71" text-anchor="end" letter-spacing="0.4">-320</text>
<text x="482.4" y="437.81" text-anchor="end" letter-spacing="0.4">-480</text>
<text x="482.4" y="456.92" text-anchor="end" letter-spacing="0.4">-640</text>
<text x="482.4" y="476.02" text-anchor="end" letter-spacing="0.4">-800</text>
</g>
<text x="482.8" y="380.7" font-family='"Liberation Serif", "Times New Roman", serif' font-size="10.3" text-anchor="end">0</text>
<text x="487.6" y="390" font-family='"Liberation Serif", "Times New Roman", serif' font-size="10.3" font-weight="bold" fill="#6e6e6e" text-anchor="middle">0</text>
<text transform="translate(374.3 373.2) rotate(-90)" font-family='"Liberation Serif", "Times New Roman", serif' font-size="10.5" textLength="76.6" lengthAdjust="spacing">Lateral load /kN</text>
<text x="498" y="486" font-family='"Liberation Serif", "Times New Roman", serif' font-size="10.5" textLength="106.5" lengthAdjust="spacing">Top displacement /mm</text>
<text x="414.5" y="510.8" font-family='"Liberation Serif", "Times New Roman", serif' font-size="17" font-weight="bold">d</text>
<text x="433" y="510.8" font-family='"Liberation Serif", "Times New Roman", serif' font-size="17" textLength="247.5" lengthAdjust="spacing" xml:space="preserve">Comparison of three skeleton curves</text>
<g fill="none" stroke-width="1.2" stroke-linejoin="round">
<path stroke="#000" d="M379.3 444.66C385.21 445.66 391.1 446.89 397.03 447.65C402.92 448.4 408.99 449.3 414.76 449.2C420.27 449.1 425.61 448.86 430.88 447.05C436.62 445.08 442.69 441.36 447.81 437.86C452.63 434.55 456.61 431.26 460.7 426.63C465.48 421.23 470.61 414.13 474.4 407.77C477.87 401.95 480.13 395.63 482.46 390.1C484.43 385.44 485.57 382.29 487.3 377.2C489.55 370.58 491.79 361.39 494.39 354.99C496.36 350.17 498.43 347.43 501 343.53C503.86 339.19 507.52 334.53 510.67 330.28C513.62 326.29 516.08 321.86 519.3 318.81C522.13 316.13 524.9 314.81 528.81 313.08C533.84 310.87 540.64 308.51 546.14 306.99C550.87 305.69 554.72 304.77 559.52 304.6C564.93 304.41 571.06 305.2 576.77 305.92C582.45 306.63 588.05 307.91 593.69 308.9"/>
<path stroke="#2a3cff" d="M435.72 455.41C437.86 456.8 439.88 458.45 442.16 459.59C444.45 460.72 446.78 462.21 449.42 462.21C452.42 462.21 456.07 461.59 459.09 459.59C462.79 457.13 466.36 453.51 469.57 448.84C473.61 442.96 478.28 435.48 480.85 427.94C483.52 420.12 484.21 411.2 485.29 402.75C486.36 394.29 486.64 385.83 487.3 377.2C487.98 368.36 488.35 359.02 489.31 350.33C490.23 342.11 491.12 333.67 492.94 326.45C494.48 320.34 496.71 315.09 499.39 310.34C501.81 306.05 505.17 302.33 508.26 299.35C510.81 296.88 513.52 295.18 516.32 293.98C518.89 292.87 521.77 292.34 524.38 292.43C526.87 292.5 529.43 293.44 531.63 294.46C533.73 295.43 535.39 297.08 537.27 298.4"/>
<path stroke="#f2141e" d="M430.07 449.08C433.57 451.59 436.88 454.54 440.55 456.6C444.13 458.6 448.25 460.94 451.84 461.26C454.97 461.54 458.11 460.12 460.7 458.39C463.48 456.54 465.47 454.51 467.96 450.51C471.78 444.36 476.83 435.88 479.64 427.94C482.47 419.96 483.61 411.21 484.88 402.75C486.16 394.3 486.49 385.72 487.3 377.2C488.11 368.68 488.44 360.1 489.72 351.65C490.99 343.19 492.75 334 494.96 326.45C496.78 320.23 499.16 315.11 501.81 310.34C504.13 306.16 507.14 302.51 509.87 299.59C511.98 297.33 514.07 295.96 516.32 294.81C518.37 293.77 520.56 292.93 522.76 293.02C525.12 293.13 527.68 294.26 530.02 295.41C532.51 296.64 534.87 298.54 537.27 300.19C539.7 301.85 542.11 303.61 544.53 305.32"/>
</g>
<g stroke-width="1.2">
<path d="M572 261H596" stroke="#333"/>
<path d="M572 274.2H596" stroke="#f2141e"/>
<path d="M572 287.8H596" stroke="#2a3cff"/>
</g>
<text x="599.7" y="264.6" font-family='"Liberation Serif", "Times New Roman", serif' font-size="10.5" textLength="15.2" lengthAdjust="spacing">Z-1</text>
<text x="599.7" y="278" font-family='"Liberation Serif", "Times New Roman", serif' font-size="10.5" textLength="15.6" lengthAdjust="spacing">Z-2</text>
<text x="599.7" y="291.5" font-family='"Liberation Serif", "Times New Roman", serif' font-size="10.5" textLength="26.5" lengthAdjust="spacing">BW-1</text>
<text x="514.6" y="276.6" font-family='"Liberation Serif", "Times New Roman", serif' font-size="10.5" textLength="35" lengthAdjust="spacing">Point C</text>
<text x="531.9" y="333" font-family='"Liberation Serif", "Times New Roman", serif' font-size="10.5" textLength="34.5" lengthAdjust="spacing">Point B</text>
<text x="524.4" y="356.5" font-family='"Liberation Serif", "Times New Roman", serif' font-size="10.5" textLength="34.5" lengthAdjust="spacing">Point A</text>
<text x="503.3" y="413.9" font-family='"Liberation Serif", "Times New Roman", serif' font-size="10.5" textLength="163.5" lengthAdjust="spacing">Point A: First cracking of concrete</text>
<text x="503.3" y="427.4" font-family='"Liberation Serif", "Times New Roman", serif' font-size="10.5" textLength="180.3" lengthAdjust="spacing">Point B: First yielding of tension steel</text>
<text x="503.3" y="440.8" font-family='"Liberation Serif", "Times New Roman", serif' font-size="10.5" textLength="162.5" lengthAdjust="spacing">Point C: First crushing of concrete</text>
<path d="M503 302.5C503.13 301.93 503.23 301.62 503.4 300.8C503.69 299.42 504 297.52 504.4 295.9C504.8 294.28 505.31 292.66 505.8 291.1C506.27 289.59 506.78 288.14 507.3 286.7C507.81 285.3 508.37 283.97 508.9 282.6" fill="none" stroke="#1432ff" stroke-width="1.15" stroke-dasharray="1.5 3.3"/>
<path d="M513.6 277.5L510.48 284.06L507.32 281.14Z" fill="#1432ff"/>
<path d="M506.8 305.1C507.93 303.8 509.13 302.51 510.2 301.2C511.23 299.94 512.12 299 513.1 297.4C514.39 295.3 515.97 292.29 517 290.1C517.73 288.55 517.93 287.28 518.4 286.2C518.7 285.51 519 285.27 519.3 284.8" fill="none" stroke="#ff1a1a" stroke-width="1.15" stroke-dasharray="1.5 3.3"/>
<path d="M520.8 278.8L521.39 285.32L517.21 284.28Z" fill="#ff1a1a"/>
<path d="M528.9 309.5C528.87 306.33 528.85 303.12 528.8 300C528.75 296.96 528.78 293.75 528.6 291C528.45 288.75 528.07 287 527.8 285" fill="none" stroke="#000" stroke-width="1.15" stroke-dasharray="1.5 3.3"/>
<path d="M527.7 278.8L530.1 284.96L525.5 285.04Z" fill="#000"/>
<path d="M499.9 321.2C501.67 321.03 503.42 320.78 505.2 320.7C506.99 320.62 508.81 320.62 510.6 320.7C512.38 320.78 514.22 320.99 515.9 321.2C517.42 321.39 518.8 321.61 520.2 321.9C521.56 322.18 522.87 322.57 524.2 322.9" fill="none" stroke="#1432ff" stroke-width="1.15" stroke-dasharray="1.5 3.3"/>
<path d="M530.3 326L523.23 324.82L525.17 320.98Z" fill="#1432ff"/>
<path d="M496.7 326.5C498.83 326.5 500.97 326.4 503.1 326.5C505.24 326.6 507.37 326.87 509.5 327.1C511.64 327.33 513.86 327.62 515.9 327.9C517.76 328.15 519.6 328.49 521.2 328.7C522.44 328.86 523.33 328.9 524.4 329" fill="none" stroke="#ff1a1a" stroke-width="1.15" stroke-dasharray="1.5 3.3"/>
<path d="M530.8 329.2L524.33 331.15L524.47 326.85Z" fill="#ff1a1a"/>
<path d="M507.9 337.2C509.13 336.83 510.31 336.45 511.6 336.1C512.98 335.72 514.46 335.3 515.9 335C517.33 334.7 518.81 334.47 520.2 334.3C521.48 334.14 522.67 334.1 523.9 334" fill="none" stroke="#000" stroke-width="1.15" stroke-dasharray="1.5 3.3"/>
<path d="M529.8 332.4L524.46 336.08L523.34 331.92Z" fill="#000"/>
<path d="M492.5 341.1C494.27 341.33 496.04 341.52 497.8 341.8C499.57 342.08 501.34 342.39 503.1 342.8C504.88 343.22 506.63 343.74 508.4 344.3C510.2 344.87 512.2 345.63 513.8 346.2C515 346.63 515.8 346.93 516.8 347.3" fill="none" stroke="#1432ff" stroke-width="1.15" stroke-dasharray="1.5 3.3"/>
<path d="M521.9 350.1L515.77 349.18L517.83 345.42Z" fill="#1432ff"/>
<path d="M491.9 343.6C493.5 344.67 495.02 345.84 496.7 346.8C498.42 347.78 500.3 348.59 502.1 349.4C503.86 350.19 505.61 351.03 507.4 351.6C509.14 352.16 511.11 352.44 512.7 352.8C513.94 353.08 514.83 353.27 515.9 353.5" fill="none" stroke="#ff1a1a" stroke-width="1.15" stroke-dasharray="1.5 3.3"/>
<path d="M521.9 353.7L515.83 355.65L515.97 351.35Z" fill="#ff1a1a"/>
<path d="M497.3 352.1C498.53 353.53 499.66 355.13 501 356.4C502.29 357.63 503.63 358.77 505.2 359.6C506.83 360.47 508.78 361.14 510.6 361.5C512.35 361.84 514.2 361.73 515.9 361.7C517.47 361.67 518.9 361.43 520.4 361.3" fill="none" stroke="#000" stroke-width="1.15" stroke-dasharray="1.5 3.3"/>
<path d="M526 358.4L521.39 363.21L519.41 359.39Z" fill="#000"/>
</svg>
</body></html>
